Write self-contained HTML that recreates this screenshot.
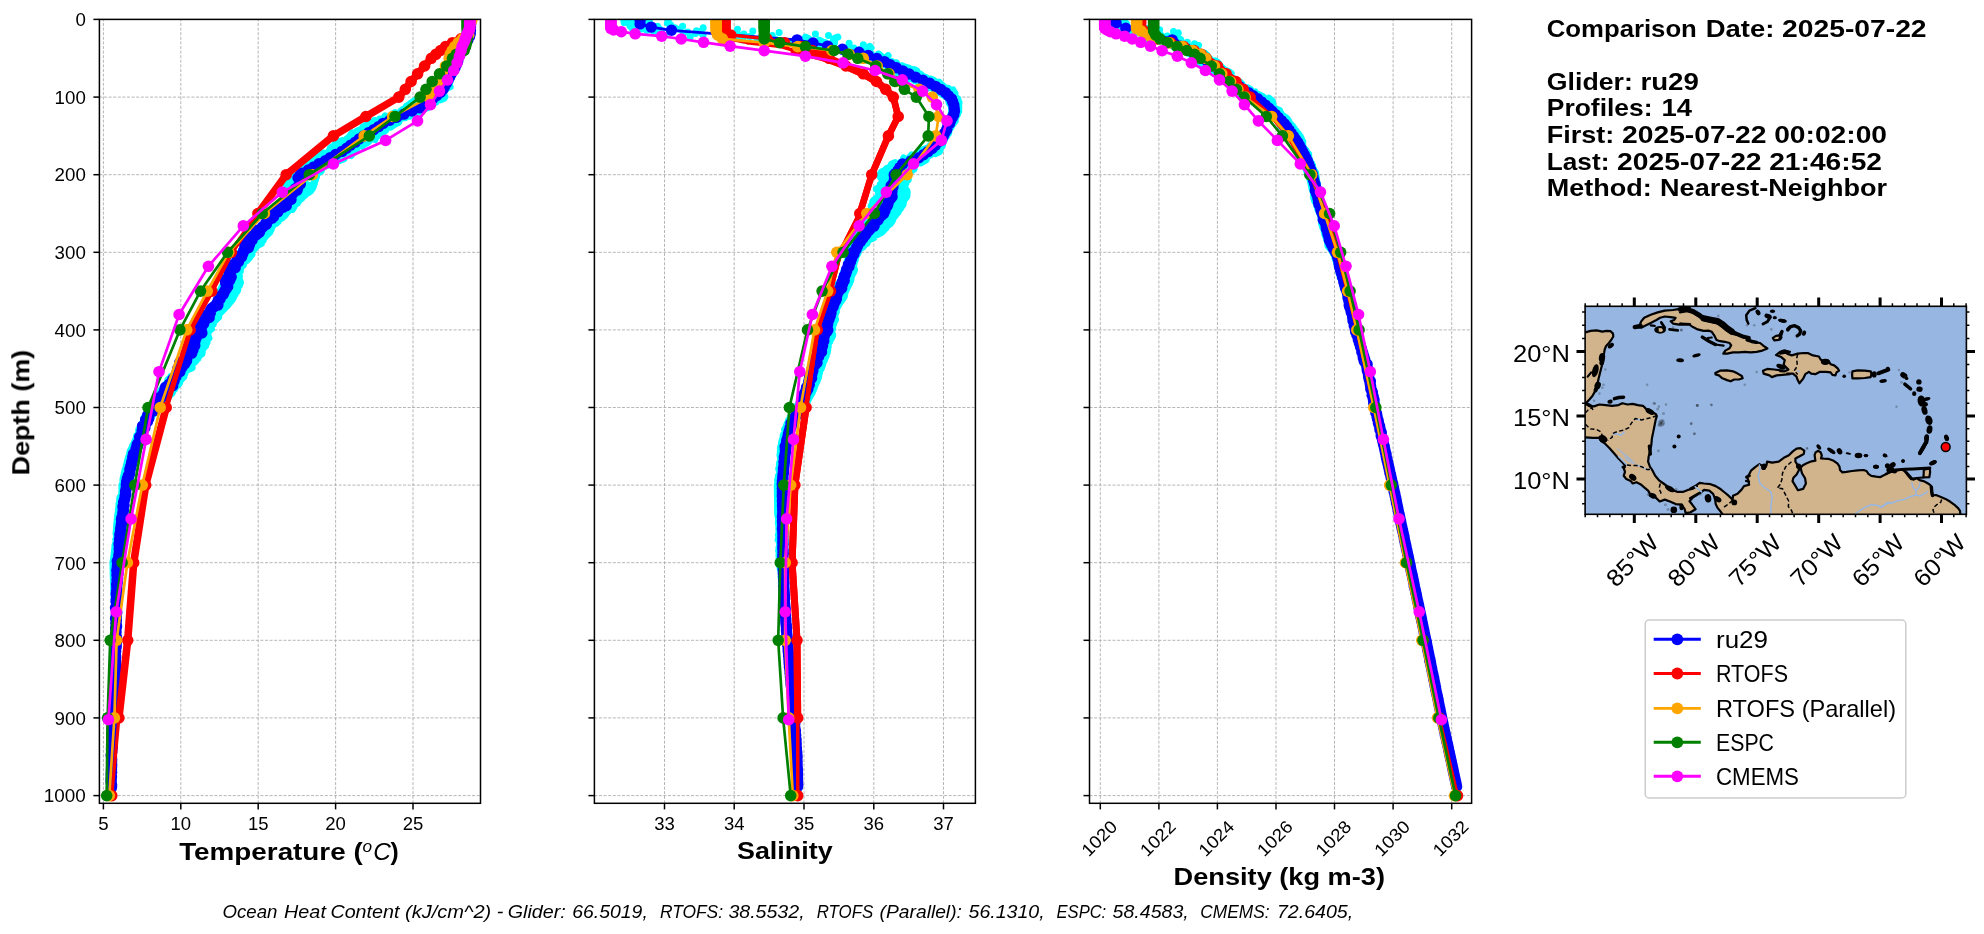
<!DOCTYPE html>
<html><head><meta charset="utf-8"><title>Glider / model comparison</title>
<style>html,body{margin:0;padding:0;background:#fff}svg{display:block}text{font-family:"Liberation Sans", sans-serif;fill:#000}</style>
</head><body>
<svg width="1984" height="934" viewBox="0 0 1984 934">
<rect width="1984" height="934" fill="#fff"/>
<defs>
<clipPath id="clip0"><rect x="99.4" y="19.4" width="381.1" height="783.9"/></clipPath>
<clipPath id="clip1"><rect x="594.4" y="19.4" width="381" height="783.9"/></clipPath>
<clipPath id="clip2"><rect x="1089.5" y="19.4" width="382.1" height="783.9"/></clipPath>
<clipPath id="clipm"><rect x="1585.1" y="306.3" width="381.3" height="208"/></clipPath>
<filter id="noaa" filterUnits="userSpaceOnUse" x="0" y="0" width="1984" height="934"><feOffset dx="0" dy="0"/></filter>
</defs>
<g filter="url(#noaa)">
<g id="ax0">
<g stroke="#a9a9a9" stroke-width="0.85" stroke-dasharray="3 1.6" fill="none">
<path d="M103.4 803.4V19.4"/>
<path d="M180.8 803.4V19.4"/>
<path d="M258.2 803.4V19.4"/>
<path d="M335.6 803.4V19.4"/>
<path d="M413 803.4V19.4"/>
<path d="M99.4 19.4H480.5"/>
<path d="M99.4 97.1H480.5"/>
<path d="M99.4 174.7H480.5"/>
<path d="M99.4 252.3H480.5"/>
<path d="M99.4 329.9H480.5"/>
<path d="M99.4 407.5H480.5"/>
<path d="M99.4 485.1H480.5"/>
<path d="M99.4 562.7H480.5"/>
<path d="M99.4 640.3H480.5"/>
<path d="M99.4 717.9H480.5"/>
<path d="M99.4 795.6H480.5"/>
</g>
<g clip-path="url(#clip0)">
<path d="M469.5 21.1L469.2 22.7 469 24.2 469.2 25.8 469.4 27.3 469.2 28.9 469.5 30.4 469.1 32 469.6 33.5 468.9 35.1 469.3 36.7 468.4 38.2 466.9 39.8 467.6 41.3 466.7 42.9 464.8 44.4 463.1 46 461.9 47.5 460.6 49.1 459.1 50.6 458.9 52.2 459.4 53.7 459 55.3 457.6 56.8 456.9 58.4 456.1 59.9 456.1 61.5 454.9 63 453.9 64.6 453.3 66.1 453.1 67.7 453.2 69.2 452.3 70.8 451.4 72.4 450 73.9 448.7 75.5 448.2 77 447.9 78.6 448.3 80.1 447.4 81.7 445 83.2 441.7 84.8 439.5 86.3 437.2 87.9 435.4 89.4 433 91 429.7 92.5 428.7 94.1 426.8 95.6 425.3 97.2M420.1 98.7h0M415.3 100.3L412.9 101.8 410.5 103.4 408.6 104.9 406.2 106.5 405.4 108.1 402.6 109.6 400.7 111.2M394.9 112.7L391.8 114.3M385.2 115.8L384.3 117.4M379.8 118.9h0M374.5 120.5h0M369.3 122L366.7 123.6 366.7 125.1 363 126.7 363.6 128.2 360.3 129.8 356.9 131.3M352.3 132.9L351 134.4 350.1 136 348.7 137.5 346.6 139.1M342 140.6L338.7 142.2 335.1 143.8 335.6 145.3 331.9 146.9 330.3 148.4 329.6 150 328.8 151.5M323.6 153.1L320 154.6 319.1 156.2M315 157.7L313.5 159.3M304.9 160.8L306.3 162.4 306 163.9 304.4 165.5M299.3 167h0M294.9 168.6L296.7 170.1 296.2 171.7 293.3 173.2 289.8 174.8M284.7 176.3L286.4 177.9 286.4 179.5 285.7 181 285.8 182.6 286.1 184.1 286.6 185.7 287.1 187.2 287.8 188.8 288.4 190.3 288.8 191.9 287.6 193.4 286.2 195 286.3 196.5 287.1 198.1 285.7 199.6 284.8 201.2 284 202.7 284.6 204.3 282 205.8 282.1 207.4 279.1 208.9 276.1 210.5 277.4 212 276.2 213.6 274.9 215.2 271.3 216.7 270.3 218.3 270.1 219.8 267.4 221.4 266.9 222.9 264.5 224.5 261.6 226 263.2 227.6 260.5 229.1 259 230.7 258.9 232.2 259.1 233.8 256.9 235.3 254.7 236.9 252.2 238.4 251.6 240 250.5 241.5 250.4 243.1 251.5 244.6 250.7 246.2 248.7 247.8 248.4 249.3 247.2 250.9 245.2 252.4 242.3 254 240.4 255.5 241.1 257.1 239.3 258.6 237 260.2 236.3 261.7 233.5 263.3 233 264.8 229.5 266.4 229.1 267.9 230 269.5M226.1 271L226.6 272.6 226.4 274.1 225.5 275.7 225.4 277.2 223.2 278.8 223.2 280.3 223.5 281.9 224.3 283.5 223.2 285 222.3 286.6 223.7 288.1 223.7 289.7 221.3 291.2 223.3 292.8M219.1 294.3L222 295.9 219.9 297.4 220.8 299 219.6 300.5 217.8 302.1 216.4 303.6 213.5 305.2 215.4 306.7 214.5 308.3 215.4 309.8M211.2 311.4L209.6 312.9 208.2 314.5 209.3 316 206.6 317.6 205.3 319.2 204 320.7 201 322.3 201 323.8 202 325.4 200.1 326.9 199.8 328.5 199.4 330 197.5 331.6 196.1 333.1 198.9 334.7 195.5 336.2 197.6 337.8 195.5 339.3 194.1 340.9 193.8 342.4 195.7 344 194.9 345.5 193.2 347.1 192.2 348.6 193.4 350.2 191.9 351.7 189.6 353.3 188.9 354.9 189.6 356.4 190 358 187.9 359.5 186.8 361.1 184.4 362.6 184.7 364.2 184.4 365.7M179.8 367.3L178.7 368.8 177.8 370.4 177.8 371.9 175.2 373.5 174.8 375M170.7 376.6L170.3 378.1 168 379.7 167.5 381.2 167.9 382.8 166.4 384.3 165.5 385.9 164.2 387.4 161.8 389 162 390.6 159.9 392.1 159.5 393.7 159.1 395.2 157.3 396.8 157.8 398.3 155 399.9 154.3 401.4 152.9 403 152.9 404.5 151.1 406.1 152 407.6 151.3 409.2 149.7 410.7 149 412.3 147.1 413.8 145.9 415.4 145.4 416.9 143.9 418.5 143.5 420 143.5 421.6 142.1 423.1 141.5 424.7 141.3 426.3 139.9 427.8 138.7 429.4 138.8 430.9 138.7 432.5 137.9 434 136.6 435.6 136.4 437.1 136 438.7 135.6 440.2 134.6 441.8 134.2 443.3 133.1 444.9 132.3 446.4 132 448 131 449.5 130.2 451.1 129.9 452.6 129.6 454.2 129.1 455.7 128.5 457.3 128 458.8 127.7 460.4 127.2 462 126.9 463.5 126.5 465.1 126.2 466.6 125.7 468.2 125.1 469.7 124.8 471.3 124.3 472.8 124.2 474.4 123.7 475.9 123.4 477.5 123 479 122.9 480.6 122.8 482.1 122.6 483.7 121.9 485.2 122.1 486.8 121.9 488.3 122 489.9 121.9 491.4 121.8 493 121.6 494.6 121.1 496.1 119.9 497.7 119.7 499.2 119.9 500.8 119.4 502.3 119 503.9 119 505.4 118.9 507 118.6 508.5 118.3 510.1 118.9 511.6 118.2 513.2 117.8 514.7 117.6 516.3 117.7 517.8 117.3 519.4 117.2 520.9 117 522.5 116.8 524 116.7 525.6 116.6 527.1 116.5 528.7 116.3 530.3 116.3 531.8 116 533.4 116.5 534.9 116.5 536.5 116.5 538 115.7 539.6 116.1 541.1 116.1 542.7 115.3 544.2 114.9 545.8 115.4 547.3 114.7 548.9 114.5 550.4 114.4 552 114.2 553.5 114.1 555.1 113.9 556.6 113.7 558.2 113.4 559.7 113.1 561.3 113 562.8 113 564.4 113 566 113.1 567.5 113.1 569.1 113.1 570.6 113.2 572.2 113.2 573.7 113.3 575.3 113.3 576.8 113.4 578.4 113.4 579.9 113.5 581.5 113.5 583 113.6 584.6 113.6 586.1 113.6 587.7 113.7 589.2 113.7 590.8 114.1 592.3 113.8 593.9 113.9 595.4 114 597 114 598.5 114.1 600.1 114.2 601.7 114.4 603.2 114.5 604.8 114.4 606.3 114.6 607.9 114.7 609.4 114.5 611 114.5 612.5 114.6 614.1 114.5 615.6 114.5 617.2 114.5 618.7 114.4 620.3 114.4 621.8 114.4 623.4 114.4 624.9 114.4 626.5 114.4 628 114.4 629.6 114.3 631.1 114.8 632.7 114.5 634.2 114.3 635.8 114.3 637.4 114.4 638.9 114.2 640.5 114.2 642 114.2 643.6 114.2 645.1 114.2 646.7 114.2 648.2 114.2 649.8 114.2 651.3 114.1 652.9 114.1 654.4 114.1 656 114.1 657.5 114.2 659.1 114.1 660.6 114.1 662.2 114.1 663.7 114.1 665.3 114 666.8 114 668.4 114 669.9 114 671.5 114.1 673.1 114 674.6 114.2 676.2 114.2 677.7 114.1 679.3 113.9 680.8 113.9 682.4 113.9 683.9 114 685.5 113.9 687 113.7 688.6 113.7 690.1 113.7 691.7 113.6 693.2 113.6 694.8 113.5 696.3 113.6 697.9 113.6 699.4 113.5 701 113.3 702.5 113.4 704.1 113.2 705.6 113.4 707.2 112.9 708.8 112.9 710.3 112.7 711.9 112.5 713.4 112.4 715 112.3 716.5 112.2 718.1 112 719.6 111.9 721.2 111.9 722.7 111.8 724.3 111.5 725.8 111.4 727.4 111.4 728.9 111.2 730.5 111.1 732 111 733.6 111.2 735.1 110.9 736.7 111.1 738.2 111 739.8 110.9 741.4 111 742.9 111.2 744.5 111.2 746 111.2 747.6 111.2 749.1 111 750.7 110.9 752.2 110.8 753.8 110.8 755.3 110.6 756.9 110.7 758.4 110.6 760 110.7 761.5 110.6 763.1 110.7 764.6 110.6 766.2 110.6 767.7 110.6 769.3 110.6 770.8 110.6 772.4 110.7 773.9 110.6 775.5 110.6 777.1 110.7 778.6 110.6 780.2 110.7 781.7 110.8 783.3 110.8 784.8 110.8 786.4 110.9 787.9" fill="none" stroke="#00ffff" stroke-width="7" stroke-linecap="round" stroke-linejoin="round"/>
<path d="M469.4 21.5L469.6 23 469.8 24.6 470 26.1 470 27.7 469.8 29.3 470 30.8 470.2 32.4 469.7 33.9 469.8 35.5 469.1 37 468.8 38.6 468.2 40.1 466.7 41.7 466.4 43.2 463.4 44.8 462.1 46.3 460.2 47.9 461.3 49.4 460.6 51 460.4 52.5 460.6 54.1 459.6 55.6 458.7 57.2 457.4 58.7 457.2 60.3 456.9 61.8 456.4 63.4 456.3 65 455.7 66.5 454.9 68.1 454.1 69.6 454.1 71.2 452.9 72.7 452.1 74.3 450.3 75.8 449.3 77.4 449.1 78.9 447.4 80.5 446.6 82 444.5 83.6 443.4 85.1 441.3 86.7 439.7 88.2 437 89.8 437.6 91.3 435.3 92.9 433.5 94.4 431.5 96M425.3 97.5h0M430.8 99.1h0M426.4 100.7L429.6 102.2 427.6 103.8 425.2 105.3M417.9 106.9h0M422.8 108.4h0M415.5 110L412.1 111.5M403.2 113.1L403.5 114.6 403.7 116.2 404.1 117.7M390 119.3L392.7 120.8M388.3 122.4L386.5 123.9 383.3 125.5 382.2 127M377.2 128.6L374.2 130.1M369 131.7L368.1 133.2M361.5 134.8L357.8 136.4 354 137.9M346.9 139.5L346.1 141 343 142.6 344.1 144.1 343.1 145.7M337.7 147.2L339.7 148.8 336.4 150.3 332.9 151.9 330.6 153.4M323.7 155h0M319.5 156.5h0M315 158.1L317.3 159.6M311.8 161.2h0M306.2 162.7h0M300.9 164.3L301.7 165.8 297.8 167.4 298.5 168.9M293.9 170.5L295.1 172.1 292.3 173.6 292.7 175.2M284.1 176.7L287 178.3 290 179.8 290.4 181.4 290.5 182.9 290.5 184.5 290.4 186 289.9 187.6 293.1 189.1 289.9 190.7 288.6 192.2 287.9 193.8 288.1 195.3 291.3 196.9 288 198.4 290.5 200 291.4 201.5 289 203.1 287.2 204.6 285.9 206.2 287.5 207.8 285 209.3 284.5 210.9 281.6 212.4 280.9 214 277.5 215.5 276 217.1 274.5 218.6 273.2 220.2 271 221.7 270 223.3 270.9 224.8 269.8 226.4 268 227.9 265.4 229.5 264.2 231 262.4 232.6 258.6 234.1 257.9 235.7 255.4 237.2 252.1 238.8 251.6 240.3 248 241.9 247.7 243.5 245.9 245 245 246.6 245.2 248.1 243.7 249.7 243.7 251.2 242.1 252.8 242 254.3 241.5 255.9 238.5 257.4 237.9 259 238.1 260.5 234.6 262.1 233.2 263.6 231.6 265.2 230.7 266.7 230.6 268.3 230.2 269.8 230.8 271.4 231.6 272.9 228.8 274.5 230 276 227.6 277.6 228.2 279.2 225.2 280.7 224.7 282.3 224.2 283.8 223.2 285.4 222.1 286.9 221.4 288.5 220.4 290 222.4 291.6 221.2 293.1 220.2 294.7 219.9 296.2 219.1 297.8 218.9 299.3 218.2 300.9 216.9 302.4 214.4 304 214.7 305.5 214.6 307.1 212.3 308.6 210.1 310.2 208.1 311.8 208.9 313.3 206.3 314.9 204.8 316.4 205.6 318 207.3 319.5 204.6 321.1 204.2 322.6 203.4 324.2 200.4 325.7 201.5 327.3 200 328.8 198.4 330.4 196.8 331.9 197 333.5 195.4 335 193.6 336.6 193.9 338.1 193 339.7 194 341.2 194 342.8 192.9 344.3 191.5 345.9 191.1 347.5 188.6 349 190.1 350.6 187.3 352.1 186.2 353.7 185.9 355.2 184.7 356.8 184.1 358.3 183.1 359.9 181 361.4 181.5 363 179.2 364.5 180.4 366.1 179.5 367.6 179.3 369.2 177.6 370.7 176.1 372.3 175.6 373.8 174.1 375.4 173 376.9 170.4 378.5 169.7 380 168.3 381.6 167.6 383.2 165.1 384.7 164.6 386.3 162.6 387.8 162.7 389.4 160.4 390.9 159.8 392.5 158.8 394 158.3 395.6 158.9 397.1 156.8 398.7 155.2 400.2 155.2 401.8 155.3 403.3 153.7 404.9 151.3 406.4 151.6 408 150.2 409.5 150 411.1 148.7 412.6 148.1 414.2 147.1 415.7 144 417.3 143.9 418.9 144.1 420.4 143.7 422 143.2 423.5 142.1 425.1 141.3 426.6 140.5 428.2 139.3 429.7 139.7 431.3 139.5 432.8 139.4 434.4 137.3 435.9 137.3 437.5 136.4 439 135.7 440.6 135 442.1 134.2 443.7 134.3 445.2 133.4 446.8 133 448.3 132.7 449.9 133.2 451.4 132.8 453 131.9 454.6 131.7 456.1 130.9 457.7 130 459.2 130.7 460.8 129 462.3 128.8 463.9 127.8 465.4 127 467 127.7 468.5 126.9 470.1 126 471.6 125.3 473.2 125.4 474.7 125.8 476.3 124.8 477.8 125.2 479.4 124.8 480.9 124.6 482.5 123.4 484 123.6 485.6 122.9 487.1 123.2 488.7 122.7 490.3 122.3 491.8 122.3 493.4 122.4 494.9 122.5 496.5 122.1 498 121.8 499.6 121.9 501.1 121.6 502.7 120.9 504.2 121.2 505.8 120.9 507.3 121.6 508.9 121.5 510.4 120 512 120.4 513.5 119.9 515.1 120.4 516.6 120 518.2 119.8 519.7 119.6 521.3 119.4 522.8 119.1 524.4 119.2 526 119.3 527.5 118.6 529.1 118.4 530.6 118 532.2 117.6 533.7 117.1 535.3 117.3 536.8 117.2 538.4 116.9 539.9 117.4 541.5 116.9 543 117.4 544.6 117 546.1 117.6 547.7 116.7 549.2 116.8 550.8 116.8 552.3 116 553.9 116.5 555.4 116 557 115.6 558.6 114.8 560.1 115 561.7 115.2 563.2 114.9 564.8 115.9 566.3 115.3 567.9 115.7 569.4 115.7 571 115.3 572.5 115.7 574.1 115.5 575.6 115.6 577.2 115.5 578.7 115 580.3 115.3 581.8 115.2 583.4 115.1 584.9 115 586.5 115.2 588 115.3 589.6 115.5 591.1 116 592.7 115.2 594.3 115.6 595.8 115.4 597.4 115.3 598.9 115.1 600.5 115.1 602 115.1 603.6 115.2 605.1 115.2 606.7 115.2 608.2 115 609.8 115.2 611.3 115.1 612.9 115.3 614.4 115.3 616 115.1 617.5 114.7 619.1 114.8 620.6 115 622.2 114.8 623.7 115 625.3 114.8 626.8 114.8 628.4 114.7 630 115 631.5 115.1 633.1 115.1 634.6 114.8 636.2 115 637.7 114.9 639.3 114.8 640.8 114.7 642.4 114.6 643.9 114.6 645.5 114.4 647 114.4 648.6 114.6 650.1 114.9 651.7 114.5 653.2 114.6 654.8 114.5 656.3 114.6 657.9 114.5 659.4 114.7 661 114.3 662.5 114.7 664.1 114.6 665.7 114.8 667.2 114.7 668.8 114.6 670.3 114.7 671.9 114.8 673.4 114.7 675 114.8 676.5 114.8 678.1 114.8 679.6 114.4 681.2 114.6 682.7 114.7 684.3 114.5 685.8 114.4 687.4 114.3 688.9 114.4 690.5 114.2 692 114 693.6 114.1 695.1 113.9 696.7 113.7 698.2 113.8 699.8 113.5 701.4 113.3 702.9 113.4 704.5 113.3 706 113.1 707.6 113 709.1 113 710.7 113 712.2 112.7 713.8 112.5 715.3 112.5 716.9 112.6 718.4 112.5 720 112.4 721.5 112.2 723.1 112.2 724.6 112 726.2 111.8 727.7 111.7 729.3 111.7 730.8 111.5 732.4 111.3 733.9 111.3 735.5 111.2 737.1 111.4 738.6 111.2 740.2 111.1 741.7 111 743.3 111 744.8 111 746.4 111 747.9 110.8 749.5 110.8 751 110.6 752.6 110.7 754.1 110.8 755.7 110.6 757.2 110.7 758.8 110.8 760.3 110.9 761.9 110.7 763.4 110.7 765 110.7 766.5 110.8 768.1 110.9 769.6 110.6 771.2 110.7 772.8 110.8 774.3 110.9 775.9 110.9 777.4 110.8 779 110.8 780.5 110.7 782.1 110.8 783.6 110.7 785.2 110.8 786.7 110.8 788.3" fill="none" stroke="#00ffff" stroke-width="7" stroke-linecap="round" stroke-linejoin="round"/>
<path d="M470 20.7L469.7 22.3 469.8 23.8 469.6 25.4 469.7 26.9 469.6 28.5 470 30 469.5 31.6 469.5 33.1 469.3 34.7 469.3 36.2 467.8 37.8 467.4 39.4 467.1 40.9 466.6 42.5 464.4 44 462.1 45.6 462.1 47.1 462.1 48.7 461.8 50.2 461.6 51.8 460.7 53.3 459.4 54.9 458.8 56.4 457.3 58 457.7 59.5 456.8 61.1 456.4 62.6 455.5 64.2 456.1 65.7 454.2 67.3 454.1 68.8 452.9 70.4 451.8 71.9 450.7 73.5 449.9 75.1 449.1 76.6 448.2 78.2 447.6 79.7 446.1 81.3 445.6 82.8 445.7 84.4 442.9 85.9 443 87.5 441.4 89 439.5 90.6 436.6 92.1M432.6 93.7L429.1 95.2 429.6 96.8 427.7 98.3 424.8 99.9 421.5 101.4 418.3 103 415.2 104.5 415.9 106.1M411.7 107.6L413.4 109.2 414.8 110.8M404.2 112.3L401.2 113.9M392.1 115.4L394.3 117 394.1 118.5M385 120.1h0M375.5 121.6L378 123.2 379.1 124.7M374.9 126.3h0M370.7 127.8L369.3 129.4M365 130.9h0M369 132.5L366.6 134M360.4 135.6L357.1 137.1 354.9 138.7 353.5 140.2 351.5 141.8M346.9 143.3L348.2 144.9M344.1 146.5L345.9 148 343.5 149.6 343.6 151.1M333.1 152.7L331.5 154.2 328 155.8 325.3 157.3 328.8 158.9M323.5 160.4L325 162M316.9 163.5h0M309.2 165.1h0M304 166.6L307.4 168.2 304.9 169.7 301.8 171.3M296.2 172.8L296.1 174.4 295.9 175.9 294 177.5 293 179 291.9 180.6M296.8 182.2L294.6 183.7 297.6 185.3 299.2 186.8 296.7 188.4 294.7 189.9 295.6 191.5 294 193 293 194.6 294.6 196.1 293.7 197.7 293.6 199.2 291.6 200.8 291 202.3 290 203.9 288.7 205.4 289.8 207 286.6 208.5 284.5 210.1 281.4 211.6 280.4 213.2 279.5 214.7 277.8 216.3 275.4 217.9 274.1 219.4 273.4 221M268.7 222.5L270.2 224.1 266.3 225.6 269.1 227.2 265.8 228.7 264.7 230.3M260.8 231.8L260.4 233.4 256.7 234.9 255.2 236.5 251.7 238 251 239.6 252.4 241.1 250.7 242.7M245.2 244.2L246.9 245.8 244.7 247.3 245.7 248.9 245.9 250.4 242.4 252M238.2 253.6L239.6 255.1 238.1 256.7 237.2 258.2 236.1 259.8 233.6 261.3 233.6 262.9 231 264.4 230.3 266 230.3 267.5 231.1 269.1 232.8 270.6 230.3 272.2 230.1 273.7 227.8 275.3 228.9 276.8 226.5 278.4 229.8 279.9 228.2 281.5 228.1 283 227.5 284.6 229.6 286.2 229.1 287.7 227.6 289.3 227.5 290.8 228.1 292.4 227.9 293.9 227.6 295.5 225.1 297 222.2 298.6 223 300.1 221.8 301.7 223.7 303.2 222.4 304.8 220 306.3 219.8 307.9 217.6 309.4 215.1 311 214.5 312.5 212.7 314.1 212.2 315.6 210.6 317.2 209.7 318.7 208.5 320.3 206.8 321.9 207.5 323.4 205.7 325 205.6 326.5 205.5 328.1 203.6 329.6 203.1 331.2 201.9 332.7 199.7 334.3 201.6 335.8 200.7 337.4 198.9 338.9 198.8 340.5 198.2 342 198.1 343.6 198.3 345.1 196.2 346.7 197.2 348.2 197.5 349.8 195.1 351.3 195.2 352.9 193.1 354.4 192 356 191 357.6 190.6 359.1 190 360.7 190.4 362.2 187.7 363.8 187.2 365.3 183.8 366.9 183.2 368.4 184 370 183.5 371.5 182.5 373.1 180.5 374.6 179.3 376.2 177.7 377.7 176.8 379.3 176.7 380.8 176.9 382.4 174.9 383.9 171.9 385.5 171.5 387 169.7 388.6 168.2 390.1 168.3 391.7 167.4 393.3 166 394.8 164.6 396.4 163.4 397.9 161.3 399.5 160.1 401 157.8 402.6 157.7 404.1 155.9 405.7 155.1 407.2 153.5 408.8 152.5 410.3 152 411.9 151.9 413.4 150.7 415 149.9 416.5 147 418.1 146.2 419.6 145.7 421.2 146.3 422.7 143.5 424.3 143.4 425.8 141.3 427.4 141.2 429 140.8 430.5 140.5 432.1 140.5 433.6 139.5 435.2 139.1 436.7 139.1 438.3 139.3 439.8 138.2 441.4 136.3 442.9 136.1 444.5 135.1 446 135 447.6 134.4 449.1 133.3 450.7 133.1 452.2 133.2 453.8 132.5 455.3 132.9 456.9 132.3 458.4 131.3 460 130.7 461.5 130.6 463.1 130 464.7 130 466.2 129.7 467.8 129.4 469.3 128.3 470.9 127.3 472.4 126.3 474 127.1 475.5 126.2 477.1 126.4 478.6 125.9 480.2 125.3 481.7 125 483.3 123.9 484.8 123.5 486.4 123.4 487.9 122.8 489.5 122.5 491 122.8 492.6 122.5 494.1 122.5 495.7 122.4 497.2 121.5 498.8 121 500.4 120.4 501.9 120 503.5 120 505 119.9 506.6 120.7 508.1 119.7 509.7 120.1 511.2 119.9 512.8 119.6 514.3 120.1 515.9 120.3 517.4 120.7 519 119.8 520.5 120.1 522.1 120.7 523.6 120.3 525.2 119.9 526.7 118.9 528.3 119.2 529.8 119 531.4 119 533 119.1 534.5 119.4 536.1 119.4 537.6 119.5 539.2 118.4 540.7 118 542.3 117.6 543.8 117.5 545.4 117.3 546.9 117 548.5 116.9 550 116.8 551.6 116.6 553.1 116.5 554.7 116.4 556.2 116.4 557.8 116.3 559.3 116.3 560.9 115.9 562.4 115.9 564 115.1 565.5 114.9 567.1 115.3 568.7 115 570.2 115.4 571.8 114.9 573.3 114.8 574.9 115 576.4 114.7 578 114.9 579.5 114.8 581.1 114.7 582.6 115.1 584.2 115.3 585.7 115.4 587.3 115.1 588.8 114.8 590.4 114.8 591.9 114.9 593.5 115.1 595 114.8 596.6 115.3 598.1 115.6 599.7 115.5 601.2 115.7 602.8 115.7 604.4 115.9 605.9 116.2 607.5 116.3 609 116.2 610.6 116.2 612.1 116 613.7 116 615.2 116.1 616.8 116.1 618.3 116.1 619.9 115.8 621.4 116.1 623 116.1 624.5 116 626.1 115.9 627.6 116.1 629.2 115.9 630.7 115.9 632.3 115.8 633.8 115.9 635.4 115.6 636.9 115.7 638.5 115.5 640.1 115.4 641.6 115.6 643.2 115.4 644.7 115.6 646.3 115.3 647.8 115.4 649.4 115.3 650.9 115.2 652.5 115.1 654 115.1 655.6 115.2 657.1 115.2 658.7 115.2 660.2 115.2 661.8 115 663.3 114.9 664.9 115.1 666.4 115 668 114.9 669.5 114.7 671.1 114.9 672.6 114.6 674.2 115.1 675.8 115.2 677.3 115.1 678.9 114.9 680.4 115 682 115 683.5 114.8 685.1 114.9 686.6 114.8 688.2 115.2 689.7 114.9 691.3 114.8 692.8 114.9 694.4 114.7 695.9 114.6 697.5 114.7 699 114.7 700.6 114.4 702.1 114.2 703.7 114.2 705.2 114 706.8 113.7 708.3 113.5 709.9 113.4 711.5 113.3 713 113.1 714.6 112.7 716.1 112.6 717.7 112.5 719.2 112.4 720.8 112.2 722.3 112.1 723.9 112 725.4 111.6 727 111.8 728.5 111.6 730.1 111.4 731.6 111.3 733.2 111.4 734.7 111.3 736.3 111.2 737.8 110.9 739.4 111.1 740.9 111.1 742.5 111.2 744 111.2 745.6 111.3 747.2 111.1 748.7 111.1 750.3 111.3 751.8 111.1 753.4 111.1 754.9 111.2 756.5 111.2 758 111.2 759.6 111.2 761.1 111 762.7 111 764.2 111.1 765.8 111.1 767.3 111.2 768.9 111 770.4 111.1 772 111.3 773.5 111.1 775.1 111 776.6 111 778.2 111.1 779.7 111.2 781.3 111 782.9 111.2 784.4 111.4 786 111.1 787.5" fill="none" stroke="#00ffff" stroke-width="7" stroke-linecap="round" stroke-linejoin="round"/>
<path d="M471.3 21.4L471.5 23 471.5 24.5 471.4 26.1 471 27.7 471.1 29.2 471.3 30.8 470.6 32.3 469.7 33.9 468.7 35.4 468.6 37 468.3 38.5 467.4 40.1 465.8 41.6 463.8 43.2 462.7 44.7 461.9 46.3 461.4 47.8 460.7 49.4 461.1 50.9 460.2 52.5 459.5 54 458.9 55.6 458.8 57.1 457.2 58.7 457 60.3 456.2 61.8 456.1 63.4 456.3 64.9 455.2 66.5 454.7 68 453.6 69.6 452.9 71.1 451.9 72.7 450.3 74.2 450 75.8 448.8 77.3 448.5 78.9 446.5 80.4 444.9 82 443.6 83.5 444.4 85.1 444.3 86.6 443.8 88.2 440.1 89.7 438.8 91.3M432.6 92.8L434 94.4 434.8 96M429.2 97.5L426.7 99.1 424.6 100.6 423.2 102.2 424.4 103.7M419.1 105.3h0M412.9 106.8h0M407.5 108.4L405.2 109.9 401.7 111.5M406.5 113L403.7 114.6 401 116.1M396 117.7L395 119.2 392.8 120.8 389.7 122.3 387 123.9 384.5 125.4 385.1 127M380.6 128.5L381.4 130.1 382.7 131.7 380.5 133.2 377 134.8M370.6 136.3L369.5 137.9 368.1 139.4M360.5 141h0M356.2 142.5L355.7 144.1 353.3 145.6 351.5 147.2M355.9 148.7h0M347.1 150.3h0M338.5 151.8h0M334.3 153.4L330.6 154.9M325.5 156.5L327.1 158M322.3 159.6L324.8 161.1 322.5 162.7M316.9 164.2h0M310.4 165.8L313.8 167.4 310.4 168.9M303.8 170.5L301.1 172 304.2 173.6 302.4 175.1 302.8 176.7 301.3 178.2 304.3 179.8 304.7 181.3 304 182.9 306.7 184.4 309 186 308.8 187.5M304.2 189.1L303.6 190.6 300.4 192.2 300.4 193.7 299.9 195.3 301.1 196.8 301.8 198.4 298.8 199.9 296.2 201.5 293.6 203.1 292.4 204.6 293.4 206.2 291 207.7 288.9 209.3 286.7 210.8 286.6 212.4 284.5 213.9 282.3 215.5M277.7 217L276.9 218.6 273.6 220.1 274.3 221.7 272.7 223.2 272.1 224.8 269.4 226.3 268.9 227.9 266.2 229.4 265.6 231 262.4 232.5 261.6 234.1 259.3 235.6 261.5 237.2 258.7 238.8 257.8 240.3 257.4 241.9 256.5 243.4 253.3 245 252.5 246.5 250.4 248.1 249.2 249.6 248.3 251.2 247 252.7 244.8 254.3 244.5 255.8 245 257.4 243.7 258.9 243 260.5 241.2 262 240.5 263.6 239.3 265.1 238.1 266.7 238.3 268.2 236.8 269.8 234.9 271.3 236.9 272.9 233.7 274.5 235.6 276 235 277.6 234.9 279.1 234.8 280.7 232.8 282.2 233.5 283.8 229.6 285.3 230.6 286.9 228.5 288.4 229 290 228.1 291.5 227.1 293.1 226.2 294.6 225.5 296.2 224.9 297.7 225.3 299.3 223.2 300.8 225 302.4 222.6 303.9 221.2 305.5 222.1 307.1 221.4 308.6 219.9 310.2 216.5 311.7 217.5 313.3 216.9 314.8 214.5 316.4 213.6 317.9 211.8 319.5 212.6 321 211.1 322.6 210.4 324.1 210 325.7 209 327.2 207.2 328.8 206.6 330.3 207.8 331.9 205.9 333.4 205 335 202.9 336.5 201.3 338.1 199.3 339.6 199.5 341.2 197.5 342.8 197.5 344.3 195.5 345.9 197.1 347.4 196.1 349 195.4 350.5 195.1 352.1 195.8 353.6 193.2 355.2 192.5 356.7 191.3 358.3 190.2 359.8 186.6 361.4 186.9 362.9 184.5 364.5 184.5 366 184.4 367.6 184.1 369.1 184.9 370.7 184.5 372.2M179.9 373.8L180.7 375.3 177.9 376.9 177.5 378.5 177 380 175.4 381.6 174.8 383.1 173.5 384.7 171.5 386.2 169.1 387.8 168.7 389.3 167 390.9 166.9 392.4 166.9 394 165.6 395.5 164.9 397.1 162.4 398.6 161.1 400.2 160.9 401.7 157.8 403.3 156.8 404.8 158.2 406.4 156.6 407.9 156 409.5 154 411 151.8 412.6 150.4 414.2 150 415.7 149.3 417.3 148.4 418.8 148.3 420.4 146.6 421.9 146.2 423.5 145.2 425 144.2 426.6 143.9 428.1 143.5 429.7 142.7 431.2 141.8 432.8 141.7 434.3 140.4 435.9 140.2 437.4 138.6 439 138.3 440.5 137.9 442.1 137.5 443.6 137.3 445.2 136.6 446.7 136.2 448.3 136.2 449.9 135.4 451.4 134.7 453 135.1 454.5 134.4 456.1 133.7 457.6 133.2 459.2 133.7 460.7 132.8 462.3 132.7 463.8 131.5 465.4 132.4 466.9 131.2 468.5 130.8 470 130.5 471.6 129.6 473.1 130 474.7 129.9 476.2 129.2 477.8 129.2 479.3 128.3 480.9 128 482.4 128 484 127.3 485.6 125.8 487.1 126.3 488.7 125.6 490.2 125.4 491.8 124.6 493.3 123.8 494.9 122.5 496.4 122.8 498 121.7 499.5 121.7 501.1 121.9 502.6 121.2 504.2 121.9 505.7 120.8 507.3 120.8 508.8 120.9 510.4 120.8 511.9 121.1 513.5 120 515 119.5 516.6 120.1 518.1 119.8 519.7 119.6 521.3 119.5 522.8 119.3 524.4 119.2 525.9 119.9 527.5 119.6 529 118.9 530.6 119.5 532.1 120 533.7 119.8 535.2 119.1 536.8 119 538.3 118.5 539.9 119.2 541.4 118.7 543 118.5 544.5 118.2 546.1 118 547.6 118 549.2 118.3 550.7 118 552.3 117.3 553.9 117.3 555.4 117.8 557 117.5 558.5 117 560.1 117.2 561.6 116.5 563.2 116.7 564.7 116.7 566.3 116.4 567.8 116.5 569.4 116.5 570.9 116.7 572.5 117 574 116.5 575.6 116.4 577.1 116.6 578.7 116.8 580.2 116.3 581.8 116.2 583.3 116 584.9 116.8 586.4 116.7 588 117 589.6 116.7 591.1 116.6 592.7 116.1 594.2 116.3 595.8 116 597.3 116.1 598.9 116.5 600.4 116.3 602 116 603.5 116 605.1 116.1 606.6 116.2 608.2 116.2 609.7 116 611.3 115.9 612.8 116 614.4 116.3 615.9 116 617.5 115.6 619 115.8 620.6 115.7 622.1 115.4 623.7 115.7 625.3 115.9 626.8 115.9 628.4 115.8 629.9 116.1 631.5 115.9 633 115.9 634.6 116 636.1 116 637.7 116 639.2 116.1 640.8 116.1 642.3 116.1 643.9 116.1 645.4 116.2 647 116.3 648.5 116.3 650.1 116.3 651.6 115.9 653.2 116.2 654.7 115.9 656.3 116.1 657.8 116.2 659.4 116.2 661 116.1 662.5 116.1 664.1 115.8 665.6 116 667.2 115.9 668.7 115.6 670.3 115.6 671.8 115.5 673.4 115.2 674.9 115.2 676.5 115.3 678 115.3 679.6 115 681.1 115.1 682.7 114.9 684.2 115.1 685.8 114.9 687.3 115 688.9 114.8 690.4 114.8 692 114.5 693.5 114.7 695.1 114.5 696.7 114.4 698.2 114.4 699.8 114.2 701.3 114.1 702.9 113.9 704.4 113.7 706 113.6 707.5 113.5 709.1 113.3 710.6 113.3 712.2 113.2 713.7 113.1 715.3 113 716.8 113 718.4 112.8 719.9 112.9 721.5 112.7 723 112.5 724.6 112.1 726.1 112.2 727.7 112.1 729.2 112 730.8 111.8 732.4 111.8 733.9 111.7 735.5 111.8 737 111.7 738.6 111.6 740.1 111.8 741.7 111.9 743.2 111.9 744.8 111.7 746.3 111.8 747.9 111.7 749.4 111.7 751 111.8 752.5 111.7 754.1 111.9 755.6 111.7 757.2 111.6 758.7 111.7 760.3 111.7 761.8 111.8 763.4 111.8 764.9 111.6 766.5 111.6 768.1 111.8 769.6 112 771.2 111.8 772.7 111.7 774.3 111.7 775.8 111.7 777.4 111.7 778.9 111.6 780.5 111.6 782 111.6 783.6 111.5 785.1 111.5 786.7 111.5 788.2" fill="none" stroke="#00ffff" stroke-width="7" stroke-linecap="round" stroke-linejoin="round"/>
<path d="M471.7 20.6L471.6 22.1 471.5 23.7 471.5 25.3 471.7 26.8 471.4 28.4 471.5 29.9 471.3 31.5 471.5 33 469.6 34.6 468 36.1 466.4 37.7 466.2 39.2 464.8 40.8 465.2 42.3 466.3 43.9 465.6 45.4 465 47 462.9 48.5 462.3 50.1 462.4 51.6 462.3 53.2 460.6 54.7 459.4 56.3 458.5 57.8 458.6 59.4 458.2 61 457.4 62.5 456.9 64.1 456 65.6 456 67.2 455 68.7 454.8 70.3 453.7 71.8 452.4 73.4 451.6 74.9 451.4 76.5 451 78 448.5 79.6 447.2 81.1 445.5 82.7 446.4 84.2 446.6 85.8 446 87.3 445.3 88.9 444.7 90.4 441.4 92 442.7 93.5 443.5 95.1 445 96.7 444.1 98.2 440.5 99.8M431.4 101.3L433.3 102.9M425.7 104.4L427.6 106 426.7 107.5M416.8 109.1h0M412 110.6L412 112.2 411.9 113.7M405.8 115.3L403.5 116.8M396.1 118.4h0M388.9 119.9L391.4 121.5M385.8 123L382.7 124.6 384.3 126.1 383.1 127.7 382.6 129.2M376 130.8L374.1 132.4 375.5 133.9M371.4 135.5L370.5 137 366.8 138.6 367 140.1 368.4 141.7 366.5 143.2 363.5 144.8 362.1 146.3M355.9 147.9L353.4 149.4 353.8 151 353.7 152.5M349 154.1L351.2 155.6M344 157.2L344.1 158.7 340.2 160.3 336.8 161.8 335.7 163.4M331 165h0M324 166.5L322.2 168.1 321.1 169.6 321.2 171.2 319 172.7M314.4 174.3L316.7 175.8 316.1 177.4 314.2 178.9 315.1 180.5 314.5 182 314.2 183.6 312.4 185.1 308.9 186.7 311.4 188.2 310.1 189.8M305.3 191.3L306.6 192.9 303.9 194.4M298.3 196L298.4 197.5 296.9 199.1M292.6 200.7L291.6 202.2 291.9 203.8 290.2 205.3 291.2 206.9M285.5 208.4L282 210M277.7 211.5L278.7 213.1 277.2 214.6 273.5 216.2 271.9 217.7 269.6 219.3 268.3 220.8 267.1 222.4 269.1 223.9 266.2 225.5 265.3 227 264.7 228.6 265.5 230.1 264.7 231.7 263.8 233.2M259.5 234.8L260.7 236.4 258.7 237.9 258.3 239.5 257 241 257 242.6 255.5 244.1 253.3 245.7 251.9 247.2 250 248.8 252.8 250.3 251.3 251.9 248 253.4 247.8 255 245.6 256.5 243 258.1 241.8 259.6 240.9 261.2 238.4 262.7 240.2 264.3 239.4 265.8 236.7 267.4 235.2 268.9 236.6 270.5 236.4 272.1 235.4 273.6 236 275.2 235.4 276.7 234.8 278.3 235.5 279.8 234.5 281.4 231.9 282.9 232.1 284.5 233.6 286 235.6 287.6 235.8 289.1 236.5 290.7 235.7 292.2 234.2 293.8 232.7 295.3 232.2 296.9 230.6 298.4 230.4 300 229.4 301.5 228.2 303.1 226.3 304.6 224.8 306.2 221.5 307.8 222 309.3 220.5 310.9 218.9 312.4 219 314 218.8 315.5 218.8 317.1 216.4 318.6 215 320.2 212.8 321.7 212.6 323.3 210.3 324.8 210.6 326.4 210.2 327.9 210.5 329.5 208.8 331 206.8 332.6 207.6 334.1 205.7 335.7 204.7 337.2 205 338.8 203.2 340.3 204.3 341.9 201.2 343.5 200.8 345 199.7 346.6 197.5 348.1 199.3 349.7 198.4 351.2 197.3 352.8 197 354.3 195.9 355.9 194.7 357.4 191.7 359 190.1 360.5 188.6 362.1 186.4 363.6 188.6 365.2 186.4 366.7 185.8 368.3 184.9 369.8 183.4 371.4 184.5 372.9 181.6 374.5 181.7 376 181 377.6 181.4 379.2 178.3 380.7 176.7 382.3 174.4 383.8 172.2 385.4 169.9 386.9 169 388.5 170.2 390 168.8 391.6 167.3 393.1 167.2 394.7 166.9 396.2 166 397.8 164.1 399.3 163.7 400.9 162 402.4 160 404 159.2 405.5 158.8 407.1 157.5 408.6 155.6 410.2 152.9 411.8 153.2 413.3 150.7 414.9 149.7 416.4 148.3 418 148 419.5 147.8 421.1 147.5 422.6 146 424.2 145.6 425.7 145.2 427.3 144 428.8 141.9 430.4 141.4 431.9 140.8 433.5 140.3 435 138.8 436.6 137.9 438.1 136.9 439.7 136.3 441.2 137 442.8 137.1 444.3 135.8 445.9 135.5 447.5 134.9 449 133.7 450.6 134.2 452.1 133.6 453.7 132.8 455.2 133.8 456.8 133.2 458.3 132.1 459.9 131.8 461.4 130.9 463 131.1 464.5 130.9 466.1 130 467.6 129.7 469.2 129.4 470.7 128.9 472.3 129.7 473.8 129.5 475.4 128.5 476.9 127.4 478.5 126.8 480 126.4 481.6 126.9 483.2 127.5 484.7 126.5 486.3 126 487.8 125.5 489.4 125.6 490.9 125 492.5 124.8 494 124.9 495.6 123.8 497.1 123.8 498.7 124.3 500.2 123.7 501.8 123.9 503.3 123.4 504.9 123.4 506.4 122.9 508 123.1 509.5 122.2 511.1 122.7 512.6 122.7 514.2 122.2 515.7 122.6 517.3 122.5 518.9 121.7 520.4 121.4 522 122.1 523.5 121.3 525.1 121.3 526.6 121.2 528.2 121.5 529.7 121.5 531.3 121.1 532.8 122 534.4 121.3 535.9 121.6 537.5 120.7 539 120.7 540.6 119.9 542.1 120.6 543.7 119.7 545.2 119.1 546.8 119.2 548.3 119.1 549.9 118.4 551.4 117.6 553 117.9 554.6 117.2 556.1 116.8 557.7 116.9 559.2 116.4 560.8 116.2 562.3 115.7 563.9 115.8 565.4 115.4 567 115.2 568.5 115.4 570.1 115.2 571.6 115.3 573.2 115.5 574.7 114.5 576.3 114.9 577.8 115.5 579.4 115.4 580.9 115.6 582.5 115.1 584 115.3 585.6 115.7 587.1 115.4 588.7 115.8 590.3 115.6 591.8 116.3 593.4 115.8 594.9 116.1 596.5 116.3 598 115.9 599.6 116.3 601.1 116.7 602.7 116.4 604.2 116.6 605.8 116.6 607.3 116.7 608.9 116.9 610.4 116.6 612 116.4 613.5 116.4 615.1 116.5 616.6 116.5 618.2 116.5 619.7 116.8 621.3 116.4 622.8 116.4 624.4 116.2 626 116.2 627.5 116 629.1 116.2 630.6 116 632.2 116 633.7 116 635.3 116 636.8 115.7 638.4 115.7 639.9 115.8 641.5 115.9 643 115.7 644.6 115.9 646.1 115.7 647.7 115.8 649.2 115.6 650.8 115.7 652.3 115.7 653.9 115.9 655.4 116 657 116.2 658.6 116 660.1 116.2 661.7 116.1 663.2 116.2 664.8 115.8 666.3 116 667.9 115.9 669.4 115.9 671 116 672.5 115.9 674.1 115.8 675.6 115.9 677.2 115.6 678.7 115.6 680.3 115.7 681.8 115.6 683.4 115.5 684.9 115.4 686.5 115.4 688 115.1 689.6 115.1 691.1 115.1 692.7 114.9 694.3 115 695.8 114.7 697.4 115 698.9 114.8 700.5 114.9 702 114.5 703.6 114.5 705.1 114.3 706.7 114.2 708.2 114.3 709.8 114.4 711.3 114.1 712.9 113.9 714.4 113.9 716 113.7 717.5 113.9 719.1 113.6 720.6 113.4 722.2 113.2 723.7 113.2 725.3 113.2 726.8 113 728.4 112.8 730 112.7 731.5 112.3 733.1 112.3 734.6 112.3 736.2 112.3 737.7 112.4 739.3 112.4 740.8 112.3 742.4 112.3 743.9 112.3 745.5 112.2 747 112.1 748.6 112.1 750.1 112 751.7 112.1 753.2 112 754.8 112 756.3 112 757.9 112.1 759.4 112 761 112 762.5 111.9 764.1 112.1 765.7 111.9 767.2 111.9 768.8 111.9 770.3 112.1 771.9 112.1 773.4 111.9 775 112 776.5 111.8 778.1 111.9 779.6 111.9 781.2 111.8 782.7 111.8 784.3 111.8 785.8 111.8 787.4" fill="none" stroke="#00ffff" stroke-width="7" stroke-linecap="round" stroke-linejoin="round"/>
<path d="M472.4 21.6L472.4 23.1 472.5 24.7 472.4 26.2 472.5 27.8 472.5 29.4 472.5 30.9 471.7 32.5 469.5 34 468.8 35.6 469.7 37.1 468.6 38.7 467.2 40.2 465.4 41.8 464.5 43.3 464.9 44.9 463.4 46.4 463.2 48 461.9 49.5 462.5 51.1 461.4 52.6 461.5 54.2 460.6 55.7 459.5 57.3 458.8 58.8 458.9 60.4 458.5 61.9 458.3 63.5 456.9 65.1 456.2 66.6 455.4 68.2 455 69.7 453.3 71.3 453.1 72.8 452 74.4 452.5 75.9 450.8 77.5 450.9 79 450 80.6 450 82.1 448.8 83.7 449.4 85.2 450.1 86.8 446.7 88.3 444.9 89.9 442.2 91.4 439.2 93 438.4 94.5 436.5 96.1 434.3 97.6 436.3 99.2 435.7 100.8 435.7 102.3M431 103.9h0M426.3 105.4L429.2 107 425.4 108.5M421.1 110.1L420.2 111.6 416.6 113.2 413.8 114.7M409.6 116.3h0M405 117.8h0M400 119.4L399.2 120.9 398.5 122.5 395.1 124 392.9 125.6 391 127.1M386.3 128.7L385.8 130.2 383.7 131.8 381.4 133.4 377.6 134.9 377 136.5 375.4 138 375 139.6M369 141.1L366 142.7M361.5 144.2L357.9 145.8 355.6 147.3 356.6 148.9M349.3 150.4h0M344.7 152L343.6 153.5 341.2 155.1 338.8 156.6 338.3 158.2M330.9 159.7L332.8 161.3 330.5 162.8 329.9 164.4 326.4 165.9M318.9 167.5L316.8 169.1 320.4 170.6 317.2 172.2 316.9 173.7 313.6 175.3 316.1 176.8 315.7 178.4 315.1 179.9 314.4 181.5 314 183 313.7 184.6 313.3 186.1 312.8 187.7 311.8 189.2 310.8 190.8 308.7 192.3 306.2 193.9 304.8 195.4 301.5 197 300.7 198.5 299.6 200.1 298 201.6 297.5 203.2 294.4 204.8 294.3 206.3 293.3 207.9 292.4 209.4M288.5 211L286.7 212.5 285.9 214.1 284.6 215.6 282.9 217.2 280.6 218.7 277.6 220.3 278.1 221.8 276 223.4 272.2 224.9 272.4 226.5 271.6 228 271.1 229.6 270.4 231.1 269.5 232.7 267.8 234.2 266.1 235.8 264.7 237.3 262.1 238.9 263.1 240.5 260.7 242 261.3 243.6 258 245.1 256.3 246.7 255.2 248.2 253.5 249.8 252.4 251.3 251.2 252.9 252 254.4 250.3 256 249.7 257.5 248.1 259.1 246.7 260.6 244.4 262.2 243.4 263.7 243.4 265.3 240.9 266.8 240.8 268.4 240.4 269.9 240.3 271.5 238.3 273 238.7 274.6 239.5 276.2 237.9 277.7 239.4 279.3 239.8 280.8 240.5 282.4 240 283.9 239.5 285.5 236.1 287 237.9 288.6 237.7 290.1 236.9 291.7 235.3 293.2 234.9 294.8 233.8 296.3 233.3 297.9 232.4 299.4 231.2 301 229.9 302.5 228.5 304.1 227.4 305.6 225.7 307.2 224.3 308.7 222.7 310.3 221.3 311.9 219 313.4 217.5 315 218.4 316.5 217.4 318.1 216 319.6 214.1 321.2 213.5 322.7 213.3 324.3 211.3 325.8 210.8 327.4 211.5 328.9 207.8 330.5 208.5 332 207.1 333.6 207.1 335.1 208.4 336.7 209 338.2 207.5 339.8 205.1 341.3 206.8 342.9 203.9 344.4 205.5 346 203.9 347.6 202.3 349.1 200.9 350.7 202.3 352.2 201.9 353.8 199.7 355.3 198.2 356.9 198.1 358.4 196.3 360 195.3 361.5 193.4 363.1 191.5 364.6 191.9 366.2 192.2 367.7 188.5 369.3 186.1 370.8 185.2 372.4 184.9 373.9 183.5 375.5 183.8 377 181.4 378.6 179.6 380.2 179.9 381.7 179.4 383.3 178 384.8 175.8 386.4 175.3 387.9 174.4 389.5 172.7 391 172.4 392.6 171.1 394.1 169.2 395.7 168.5 397.2 166.2 398.8 164.8 400.3 164.9 401.9 163.9 403.4 162.8 405 161 406.5 158.7 408.1 157.6 409.6 156.9 411.2 154.8 412.7 153.3 414.3 151.9 415.9 151.4 417.4 150 419 148.4 420.5 147.7 422.1 146.8 423.6 145.2 425.2 145.6 426.7 145.9 428.3 144.3 429.8 143.5 431.4 142.6 432.9 140.6 434.5 140.5 436 140.1 437.6 139.4 439.1 138.5 440.7 137.6 442.2 137.1 443.8 136.8 445.3 136.1 446.9 135.5 448.4 135 450 134.6 451.6 134.3 453.1 133.9 454.7 132.6 456.2 131.9 457.8 132 459.3 132.1 460.9 131.2 462.4 130.9 464 130.1 465.5 130.8 467.1 130.2 468.6 129.6 470.2 129.5 471.7 130.1 473.3 130.3 474.8 129.9 476.4 129.1 477.9 129.4 479.5 127.8 481 127.3 482.6 127 484.1 127.1 485.7 127.2 487.3 127 488.8 126.9 490.4 126.6 491.9 125.8 493.5 125.5 495 124.8 496.6 124.9 498.1 125.2 499.7 124.5 501.2 125.4 502.8 125 504.3 124.3 505.9 123.9 507.4 124.7 509 124.1 510.5 124.3 512.1 123.6 513.6 124 515.2 123.8 516.7 123.6 518.3 123.5 519.8 123.3 521.4 123.1 523 122.9 524.5 122.8 526.1 122.6 527.6 122.4 529.2 122.3 530.7 122.2 532.3 122 533.8 121.9 535.4 121.7 536.9 121.6 538.5 121.3 540 121.3 541.6 121.1 543.1 121 544.7 120.7 546.2 120.1 547.8 120.5 549.3 120.1 550.9 120.2 552.4 119.9 554 119.4 555.5 119.6 557.1 119.3 558.7 119.1 560.2 118.8 561.8 118.8 563.3 118.7 564.9 118 566.4 117.8 568 118.3 569.5 117.7 571.1 118.4 572.6 117.9 574.2 118 575.7 117.1 577.3 116.8 578.8 117 580.4 116.9 581.9 116.6 583.5 117 585 116.7 586.6 117.4 588.1 117 589.7 117.2 591.2 116.9 592.8 116.7 594.4 116.8 595.9 116.7 597.5 117 599 117.3 600.6 117.2 602.1 117.3 603.7 117.1 605.2 116.9 606.8 117.2 608.3 117.2 609.9 117.2 611.4 117.1 613 117.1 614.5 117.1 616.1 117.1 617.6 117 619.2 117 620.7 117 622.3 116.8 623.8 116.9 625.4 116.9 626.9 116.9 628.5 116.9 630.1 116.7 631.6 116.6 633.2 116.5 634.7 116.5 636.3 116.5 637.8 116.7 639.4 116.6 640.9 116.6 642.5 116.6 644 116.6 645.6 116.5 647.1 116.6 648.7 116.5 650.2 116.5 651.8 116.5 653.3 116.5 654.9 116.3 656.4 116.4 658 116.4 659.5 116.4 661.1 116.4 662.7 116.4 664.2 116.3 665.8 116.3 667.3 116.3 668.9 116 670.4 116.1 672 116.2 673.5 116.1 675.1 116.1 676.6 116.1 678.2 116.1 679.7 115.9 681.3 116 682.8 116 684.4 115.8 685.9 115.7 687.5 115.8 689 115.7 690.6 115.7 692.1 115.6 693.7 115.2 695.2 115.5 696.8 115.5 698.4 115.4 699.9 115.2 701.5 115.2 703 115.1 704.6 115 706.1 114.9 707.7 114.8 709.2 114.6 710.8 114.5 712.3 114.4 713.9 114.3 715.4 114 717 114 718.5 113.9 720.1 113.8 721.6 113.5 723.2 113.4 724.7 113.3 726.3 113.2 727.8 112.9 729.4 112.8 730.9 112.5 732.5 112.5 734.1 112.5 735.6 112.6 737.2 112.6 738.7 112.5 740.3 112.4 741.8 112.4 743.4 112.1 744.9 112 746.5 112.3 748 112.4 749.6 112.2 751.1 112.1 752.7 112.3 754.2 112.2 755.8 112.2 757.3 112.1 758.9 112.2 760.4 112.2 762 112.2 763.5 112.1 765.1 112.2 766.6 112.2 768.2 112.1 769.8 112.1 771.3 112.2 772.9 112.2 774.4 112.2 776 112.2 777.5 112.2 779.1 112 780.6 112 782.2 112.2 783.7 112.2 785.3 112.1 786.8 112 788.4" fill="none" stroke="#00ffff" stroke-width="7" stroke-linecap="round" stroke-linejoin="round"/>
<path d="M470.6 20.2L470.6 35L465.6 42.7L461.5 50.5L458.7 58.3L455.6 66L451.7 73.8L447.4 81.5L444.4 87L441.6 91.6L434.7 97.1L427.7 102.5L420.7 107.5L407.7 112.6L383.9 123L360.4 138.2L343.3 150.6L331 157.2L320.9 163L300 174.7L297.7 188.3L284.5 205.3L265.6 222.5L251.1 239.6L239.9 256.7L231.6 270L227.7 280.7L224.5 291.4L217 302.1L209 312.8L203.1 323.4L199.4 329.9L195.7 339.5L191.3 350.2L184.8 360.9L179.6 369.5L172.3 380.3L165.3 390.1L159.1 399.7L154.5 407.3L147.5 417.1L141.3 434.3L135.1 451.3L130 468.5L126.6 485.7L124 502.8L122 519.9L120.4 537L118.9 554.2L117.6 562.7L116.6 592.6L115.8 640.3L115.3 678.1L114.7 699.3L113.3 717.9L111.9 733.5L111.4 756.7L111.4 787.8" fill="none" stroke="#0000ff" stroke-width="2.7" stroke-linejoin="round"/>
<path d="M470.5 21h0M470.7 24.1h0M470.5 27.2h0M470.5 30.3h0M470.3 33.4h0M469.5 36.5h0M468 39.6h0M465.8 42.7h0M464.3 45.8h0M462.4 48.9h0M461 52h0M459.8 55.2h0M458.2 58.3h0M457.7 61.4h0M456.3 64.5h0M455 67.6h0M452.7 70.7h0M451.2 73.8h0M449.7 76.9h0M448.1 80h0M446.6 83.1h0M444.8 86.2h0M443.2 89.3h0M440.4 92.4h0M436.8 95.5h0M432.8 98.6h0M428.5 101.7h0M425 104.8h0M419.9 107.9h0M412.1 111h0M404 114.1h0M396.8 117.2h0M389.8 120.3h0M383.1 123.4h0M378.6 126.6h0M373.7 129.7h0M368.6 132.8h0M363.7 135.9h0M359.1 139h0M355.4 142.1h0M350.5 145.2h0M346.6 148.3h0M342 151.4h0M335.6 154.5h0M330.3 157.6h0M325.3 160.7h0M318.9 163.8h0M313.8 166.9h0M308.3 170h0M302.2 173.1h0M300.4 174.7h0M299.7 176.2h0M298 177.8h0M300.1 179.3h0M299.7 180.9h0M299.9 182.4h0M300.4 184h0M298.7 185.5h0M298.1 187.1h0M295.4 188.6h0M297.1 190.2h0M294 191.7h0M293.1 193.3h0M290.6 194.8h0M289.9 196.4h0M289.4 198h0M291 199.5h0M284.7 201.1h0M284.4 202.6h0M285.8 204.2h0M286.3 205.7h0M283.3 207.3h0M277.7 208.8h0M275.1 210.4h0M277.8 211.9h0M274.4 213.5h0M272.1 215h0M273.6 216.6h0M272.1 218.1h0M269 219.7h0M267.4 221.2h0M266 222.8h0M266.5 224.3h0M263.7 225.9h0M262.2 227.4h0M260.9 229h0M256.4 230.5h0M259.5 232.1h0M257.6 233.7h0M255.7 235.2h0M250.5 236.8h0M251.2 238.3h0M252.2 239.9h0M247.1 241.4h0M248.6 243h0M249.5 244.5h0M244.8 246.1h0M248.4 247.6h0M245.7 249.2h0M243.6 250.7h0M243.3 252.3h0M242.8 253.8h0M241 255.4h0M241.6 256.9h0M237.8 258.5h0M237.2 260h0M238.5 261.6h0M235.9 263.1h0M233.5 264.7h0M235.4 266.2h0M235.2 267.8h0M231.3 269.4h0M229.1 270.9h0M230.5 272.5h0M229.9 274h0M229.1 275.6h0M231.2 277.1h0M226.8 278.7h0M229.8 280.2h0M225.4 281.8h0M225.7 283.3h0M227.4 284.9h0M227.7 286.4h0M226.8 288h0M225.6 289.5h0M224.8 291.1h0M223.8 292.6h0M223.4 294.2h0M221.2 295.7h0M220.8 297.3h0M220.2 298.8h0M218.2 300.4h0M218.3 302h0M216.8 303.5h0M217.9 305.1h0M214.1 306.6h0M211.8 308.2h0M210.7 309.7h0M210.1 311.3h0M210.4 312.8h0M207.6 314.4h0M207.9 315.9h0M209.2 317.5h0M201.6 319h0M202.9 320.6h0M204.2 322.1h0M203.6 323.7h0M202.4 325.2h0M200.5 326.8h0M201.3 328.3h0M199.8 329.9h0M198 331.4h0M201.9 333h0M198.1 334.5h0M196.1 336.1h0M196.2 337.7h0M195.4 339.2h0M195.1 340.8h0M190.3 342.3h0M193.1 343.9h0M194.8 345.4h0M190.8 347h0M191.9 348.5h0M192.9 350.1h0M191.8 351.6h0M191.8 353.2h0M186 354.7h0M187.1 356.3h0M186.2 357.8h0M186.7 359.4h0M186.5 360.9h0M179.7 362.5h0M184.6 364h0M179.7 365.6h0M182.1 367.1h0M177.7 368.7h0M179.3 370.2h0M179.9 371.8h0M176.7 373.4h0M176.2 374.9h0M176.1 376.5h0M174.1 378h0M172.7 379.6h0M174.1 381.1h0M172.3 382.7h0M169.1 384.2h0M172.7 385.8h0M165.5 387.3h0M167.6 388.9h0M164.7 390.4h0M164.3 392h0M164.2 393.5h0M162.5 395.1h0M162.1 396.6h0M157.9 398.2h0M157 399.7h0M159 401.3h0M155.9 402.8h0M154.9 404.4h0M153.4 405.9h0M155.9 407.5h0M154.1 409.1h0M153.9 410.6h0M149.9 412.2h0M149.9 413.7h0M147.6 415.3h0M148.6 416.8h0M148.7 418.4h0M145.6 419.9h0M147.5 421.5h0M146.3 423h0M144.7 424.6h0M142.5 426.1h0M144.9 427.7h0M143.1 429.2h0M142.1 430.8h0M142.3 432.3h0M141.8 433.9h0M142 435.4h0M139.6 437h0M140.5 438.5h0M140.2 440.1h0M139.6 441.6h0M138 443.2h0M137.1 444.8h0M137.5 446.3h0M136.5 447.9h0M135.9 449.4h0M135.9 451h0M134.7 452.5h0M133.4 454.1h0M133.7 455.6h0M132.7 457.2h0M133.3 458.7h0M132.6 460.3h0M131.8 461.8h0M131.5 463.4h0M131.4 464.9h0M130.7 466.5h0M130.7 468h0M129.8 469.6h0M129.9 471.1h0M129.8 472.7h0M129.5 474.2h0M128.3 475.8h0M128.6 477.3h0M127.3 478.9h0M127.2 480.5h0M126.6 482h0M127.4 483.6h0M126.3 485.1h0M126.5 486.7h0M126.2 488.2h0M126 489.8h0M125.5 491.3h0M125.6 492.9h0M125.9 494.4h0M125.1 496h0M125 497.5h0M124.9 499.1h0M124.2 500.6h0M123.6 502.2h0M123.7 503.7h0M124.1 505.3h0M122.9 506.8h0M123.1 508.4h0M123.5 509.9h0M123.3 511.5h0M122.8 513h0M122.9 514.6h0M122.5 516.2h0M121.8 517.7h0M121.5 519.3h0M121.7 520.8h0M122.1 522.4h0M121.4 523.9h0M121.2 525.5h0M121.1 527h0M120.7 528.6h0M121 530.1h0M120.5 531.7h0M120.9 533.2h0M119.8 534.8h0M120.6 536.3h0M120.1 537.9h0M119.5 539.4h0M120.3 541h0M119.8 542.5h0M119 544.1h0M119.3 545.6h0M119.6 547.2h0M119.2 548.8h0M119.5 550.3h0M119.3 551.9h0M119.2 553.4h0M118.9 555h0M119 556.5h0M118.5 558.1h0M118.2 559.6h0M117.2 561.2h0M117.9 562.7h0M118 564.3h0M117.4 565.8h0M117.3 567.4h0M118.1 568.9h0M116.8 570.5h0M117.5 572h0M118.1 573.6h0M116.9 575.1h0M117.4 576.7h0M117.7 578.2h0M117 579.8h0M117.2 581.3h0M117.2 582.9h0M116.6 584.5h0M116.8 586h0M116.8 587.6h0M117 589.1h0M116.6 590.7h0M116.5 592.2h0M116.2 593.8h0M116.4 595.3h0M116.8 596.9h0M116.5 598.4h0M116.2 600h0M116.1 601.5h0M117.2 603.1h0M116.7 604.6h0M116.5 606.2h0M115.5 607.7h0M116.5 609.3h0M116.4 610.8h0M116.8 612.4h0M116.3 613.9h0M116.2 615.5h0M116.3 617h0M115.5 618.6h0M116.4 620.2h0M116.2 621.7h0M115.8 623.3h0M116.4 624.8h0M116.6 626.4h0M115.6 627.9h0M115.8 629.5h0M116 631h0M116 632.6h0M115.8 634.1h0M115.6 635.7h0M116.5 637.2h0M116.1 638.8h0M115.4 640.3h0M115.4 641.9h0M116.3 643.4h0M116 645h0M116.3 646.5h0M115.9 648.1h0M115.4 649.6h0M115.7 651.2h0M115 652.7h0M115.4 654.3h0M115.6 655.9h0M115.7 657.4h0M115.3 659h0M115.5 660.5h0M115.7 662.1h0M115.6 663.6h0M115.7 665.2h0M115.5 666.7h0M115.3 668.3h0M115.6 669.8h0M115.4 671.4h0M115.1 672.9h0M115.2 674.5h0M115.3 676h0M115.3 677.6h0M115.3 679.1h0M115.2 680.7h0M115.2 682.2h0M115.1 683.8h0M114.8 685.3h0M115.2 686.9h0M115.3 688.4h0M115.1 690h0M114.9 691.6h0M115 693.1h0M114.6 694.7h0M114.3 696.2h0M114.8 697.8h0M114.4 699.3h0M114.8 700.9h0M114.2 702.4h0M113.6 704h0M114 705.5h0M114.5 707.1h0M113.9 708.6h0M113.5 710.2h0M113.6 711.7h0M113.8 713.3h0M113.7 714.8h0M113.5 716.4h0M113.7 717.9h0M113.4 719.5h0M113 721h0M113 722.6h0M113.2 724.1h0M112.9 725.7h0M112.7 727.3h0M112 728.8h0M112.2 730.4h0M112.2 731.9h0M111.8 733.5h0M112.2 735h0M112 736.6h0M112.1 738.1h0M111.7 739.7h0M112.4 741.2h0M112 742.8h0M111.6 744.3h0M111.7 745.9h0M112.3 747.4h0M111.5 749h0M111.8 750.5h0M111.8 752.1h0M111.5 753.6h0M111.2 755.2h0M111.5 756.7h0M111.5 758.3h0M111.7 759.8h0M111.6 761.4h0M111.5 763h0M111.7 764.5h0M111.6 766.1h0M111.5 767.6h0M111.5 769.2h0M111.4 770.7h0M111.6 772.3h0M111.2 773.8h0M111.3 775.4h0M111.5 776.9h0M111.1 778.5h0M111.3 780h0M111 781.6h0M111.3 783.1h0M111.6 784.7h0M111.6 786.2h0M111.4 787.8h0" fill="none" stroke="#0000ff" stroke-width="11.4" stroke-linecap="round"/>
<path d="M468.7 19.4L468.7 21" fill="none" stroke="#ff0000" stroke-width="7.4" stroke-linecap="round"/>
<path d="M468.7 21L468.7 22.6" fill="none" stroke="#ff0000" stroke-width="7.4" stroke-linecap="round"/>
<path d="M468.7 22.6L468.7 24.1" fill="none" stroke="#ff0000" stroke-width="7.4" stroke-linecap="round"/>
<path d="M468.7 24.1L468.7 25.7" fill="none" stroke="#ff0000" stroke-width="7.4" stroke-linecap="round"/>
<path d="M468.7 25.7L468.7 27.2" fill="none" stroke="#ff0000" stroke-width="7.4" stroke-linecap="round"/>
<path d="M468.7 27.2L468.7 28.8" fill="none" stroke="#ff0000" stroke-width="7.4" stroke-linecap="round"/>
<path d="M468.7 28.8L468.7 31.1" fill="none" stroke="#ff0000" stroke-width="7.4" stroke-linecap="round"/>
<path d="M468.7 31.1L468 35" fill="none" stroke="#ff0000" stroke-width="7.4" stroke-linecap="round"/>
<path d="M468 35L461 38.9" fill="none" stroke="#ff0000" stroke-width="7.4" stroke-linecap="round"/>
<path d="M461 38.9L452.5 42.7" fill="none" stroke="#ff0000" stroke-width="7.4" stroke-linecap="round"/>
<path d="M452.5 42.7L445.5 46.6" fill="none" stroke="#ff0000" stroke-width="7.4" stroke-linecap="round"/>
<path d="M445.5 46.6L440.6 50.5" fill="none" stroke="#ff0000" stroke-width="7.4" stroke-linecap="round"/>
<path d="M440.6 50.5L435.8 54.4" fill="none" stroke="#ff0000" stroke-width="7.4" stroke-linecap="round"/>
<path d="M435.8 54.4L431.3 58.3" fill="none" stroke="#ff0000" stroke-width="7.4" stroke-linecap="round"/>
<path d="M431.3 58.3L424.6 66" fill="none" stroke="#ff0000" stroke-width="7.4" stroke-linecap="round"/>
<path d="M424.6 66L417.6 73.8" fill="none" stroke="#ff0000" stroke-width="7.4" stroke-linecap="round"/>
<path d="M417.6 73.8L411.1 81.5" fill="none" stroke="#ff0000" stroke-width="7.4" stroke-linecap="round"/>
<path d="M411.1 81.5L405.3 89.3" fill="none" stroke="#ff0000" stroke-width="7.4" stroke-linecap="round"/>
<path d="M405.3 89.3L398.8 97.1" fill="none" stroke="#ff0000" stroke-width="7.4" stroke-linecap="round"/>
<path d="M398.8 97.1L365.9 116.5" fill="none" stroke="#ff0000" stroke-width="7.4" stroke-linecap="round"/>
<path d="M365.9 116.5L333.4 135.9" fill="none" stroke="#ff0000" stroke-width="7.4" stroke-linecap="round"/>
<path d="M333.4 135.9L286.2 174.7" fill="none" stroke="#ff0000" stroke-width="7.4" stroke-linecap="round"/>
<path d="M286.2 174.7L257.9 213.5" fill="none" stroke="#ff0000" stroke-width="7.4" stroke-linecap="round"/>
<path d="M257.9 213.5L231.4 252.3" fill="none" stroke="#ff0000" stroke-width="5.2" stroke-linecap="round"/>
<path d="M231.4 252.3L211.8 291.1" fill="none" stroke="#ff0000" stroke-width="5.2" stroke-linecap="round"/>
<path d="M211.8 291.1L190.1 329.9" fill="none" stroke="#ff0000" stroke-width="5.2" stroke-linecap="round"/>
<path d="M190.1 329.9L166.2 407.5" fill="none" stroke="#ff0000" stroke-width="5.2" stroke-linecap="round"/>
<path d="M166.2 407.5L145.7 485.1" fill="none" stroke="#ff0000" stroke-width="7.6" stroke-linecap="round"/>
<path d="M145.7 485.1L133.7 562.7" fill="none" stroke="#ff0000" stroke-width="7.6" stroke-linecap="round"/>
<path d="M133.7 562.7L127.7 640.3" fill="none" stroke="#ff0000" stroke-width="7.6" stroke-linecap="round"/>
<path d="M127.7 640.3L118.9 717.9" fill="none" stroke="#ff0000" stroke-width="7.6" stroke-linecap="round"/>
<path d="M118.9 717.9L111.8 795.6" fill="none" stroke="#ff0000" stroke-width="3.2" stroke-linecap="round"/>
<path d="M468.7 19.4h0M468.7 21h0M468.7 22.6h0M468.7 24.1h0M468.7 25.7h0M468.7 27.2h0M468.7 28.8h0M468.7 31.1h0M468 35h0M461 38.9h0M452.5 42.7h0M445.5 46.6h0M440.6 50.5h0M435.8 54.4h0M431.3 58.3h0M424.6 66h0M417.6 73.8h0M411.1 81.5h0M405.3 89.3h0M398.8 97.1h0M365.9 116.5h0M333.4 135.9h0M286.2 174.7h0M257.9 213.5h0M231.4 252.3h0M211.8 291.1h0M190.1 329.9h0M166.2 407.5h0M145.7 485.1h0M133.7 562.7h0M127.7 640.3h0M118.9 717.9h0M111.8 795.6h0" fill="none" stroke="#ff0000" stroke-width="11.6" stroke-linecap="round"/>
<path d="M471.8 19.4L471.5 21L470.3 22.6L468.7 24.1L468.7 25.7L468.7 27.2L468.7 28.8L468.7 31.1L468.7 35L462.5 38.9L458.2 42.7L454.8 46.6L452.2 50.5L450.2 54.4L449.2 58.3L445.4 66L442.4 73.8L439.9 81.5L434.7 89.3L429.3 97.1L392.6 116.5L364.2 135.9L312.4 174.7L264.4 213.5L228.8 252.3L207.3 291.1L186.7 329.9L160.2 407.5L142.3 485.1L127.4 562.7L116.6 640.3L114.4 717.9L109.3 795.6" fill="none" stroke="#ffa500" stroke-width="2.7" stroke-linejoin="round"/>
<g fill="#ffa500">
<circle cx="471.8" cy="19.4" r="5.8"/>
<circle cx="471.5" cy="21" r="5.8"/>
<circle cx="470.3" cy="22.6" r="5.8"/>
<circle cx="468.7" cy="24.1" r="5.8"/>
<circle cx="468.7" cy="25.7" r="5.8"/>
<circle cx="468.7" cy="27.2" r="5.8"/>
<circle cx="468.7" cy="28.8" r="5.8"/>
<circle cx="468.7" cy="31.1" r="5.8"/>
<circle cx="468.7" cy="35" r="5.8"/>
<circle cx="462.5" cy="38.9" r="5.8"/>
<circle cx="458.2" cy="42.7" r="5.8"/>
<circle cx="454.8" cy="46.6" r="5.8"/>
<circle cx="452.2" cy="50.5" r="5.8"/>
<circle cx="450.2" cy="54.4" r="5.8"/>
<circle cx="449.2" cy="58.3" r="5.8"/>
<circle cx="445.4" cy="66" r="5.8"/>
<circle cx="442.4" cy="73.8" r="5.8"/>
<circle cx="439.9" cy="81.5" r="5.8"/>
<circle cx="434.7" cy="89.3" r="5.8"/>
<circle cx="429.3" cy="97.1" r="5.8"/>
<circle cx="392.6" cy="116.5" r="5.8"/>
<circle cx="364.2" cy="135.9" r="5.8"/>
<circle cx="312.4" cy="174.7" r="5.8"/>
<circle cx="264.4" cy="213.5" r="5.8"/>
<circle cx="228.8" cy="252.3" r="5.8"/>
<circle cx="207.3" cy="291.1" r="5.8"/>
<circle cx="186.7" cy="329.9" r="5.8"/>
<circle cx="160.2" cy="407.5" r="5.8"/>
<circle cx="142.3" cy="485.1" r="5.8"/>
<circle cx="127.4" cy="562.7" r="5.8"/>
<circle cx="116.6" cy="640.3" r="5.8"/>
<circle cx="114.4" cy="717.9" r="5.8"/>
<circle cx="109.3" cy="795.6" r="5.8"/>
</g>
<path d="M467.2 19.4L467.2 21L467.2 22.6L467.2 24.1L467.2 25.7L467.2 27.2L467.2 28.8L467.2 31.1L467.2 35L467.2 38.9L466.6 42.7L465.6 46.6L464.1 50.5L456.3 54.4L452.5 58.3L446.7 66L439.5 73.8L432.2 81.5L426 89.3L420.1 97.1L395 116.5L369.3 135.9L309.3 174.7L262.2 213.5L227.5 252.3L200.5 291.1L179.9 329.9L148.1 407.5L134.8 485.1L122.1 562.7L110.2 640.3L107.6 717.9L106.7 795.6" fill="none" stroke="#008000" stroke-width="2.7" stroke-linejoin="round"/>
<g fill="#008000">
<circle cx="467.2" cy="19.4" r="5.8"/>
<circle cx="467.2" cy="21" r="5.8"/>
<circle cx="467.2" cy="22.6" r="5.8"/>
<circle cx="467.2" cy="24.1" r="5.8"/>
<circle cx="467.2" cy="25.7" r="5.8"/>
<circle cx="467.2" cy="27.2" r="5.8"/>
<circle cx="467.2" cy="28.8" r="5.8"/>
<circle cx="467.2" cy="31.1" r="5.8"/>
<circle cx="467.2" cy="35" r="5.8"/>
<circle cx="467.2" cy="38.9" r="5.8"/>
<circle cx="466.6" cy="42.7" r="5.8"/>
<circle cx="465.6" cy="46.6" r="5.8"/>
<circle cx="464.1" cy="50.5" r="5.8"/>
<circle cx="456.3" cy="54.4" r="5.8"/>
<circle cx="452.5" cy="58.3" r="5.8"/>
<circle cx="446.7" cy="66" r="5.8"/>
<circle cx="439.5" cy="73.8" r="5.8"/>
<circle cx="432.2" cy="81.5" r="5.8"/>
<circle cx="426" cy="89.3" r="5.8"/>
<circle cx="420.1" cy="97.1" r="5.8"/>
<circle cx="395" cy="116.5" r="5.8"/>
<circle cx="369.3" cy="135.9" r="5.8"/>
<circle cx="309.3" cy="174.7" r="5.8"/>
<circle cx="262.2" cy="213.5" r="5.8"/>
<circle cx="227.5" cy="252.3" r="5.8"/>
<circle cx="200.5" cy="291.1" r="5.8"/>
<circle cx="179.9" cy="329.9" r="5.8"/>
<circle cx="148.1" cy="407.5" r="5.8"/>
<circle cx="134.8" cy="485.1" r="5.8"/>
<circle cx="122.1" cy="562.7" r="5.8"/>
<circle cx="110.2" cy="640.3" r="5.8"/>
<circle cx="107.6" cy="717.9" r="5.8"/>
<circle cx="106.7" cy="795.6" r="5.8"/>
</g>
<path d="M469.7 19.8L469.7 20.6L469.7 21.5L469.7 22.4L469.7 23.4L469.7 24.4L469.7 25.6L469.7 26.9L469.7 28.3L469 29.9L468.3 31.7L467.2 33.8L466.3 36.2L465.3 39L464.1 42.3L462.2 46.1L461 50.7L459.4 56.2L457.1 62.8L453.7 70.5L447.5 79.9L439.5 91.1L430.5 104.6L417.5 120.9L385.6 140.4L333.4 163.9L282.3 192.1L243.3 225.9L208.4 266.3L179.1 314.5L159 371.7L146.1 439.4L131.1 518.9L116.2 611.8L108.4 719.7" fill="none" stroke="#ff00ff" stroke-width="2.7" stroke-linejoin="round"/>
<g fill="#ff00ff">
<circle cx="469.7" cy="19.8" r="5.8"/>
<circle cx="469.7" cy="20.6" r="5.8"/>
<circle cx="469.7" cy="21.5" r="5.8"/>
<circle cx="469.7" cy="22.4" r="5.8"/>
<circle cx="469.7" cy="23.4" r="5.8"/>
<circle cx="469.7" cy="24.4" r="5.8"/>
<circle cx="469.7" cy="25.6" r="5.8"/>
<circle cx="469.7" cy="26.9" r="5.8"/>
<circle cx="469.7" cy="28.3" r="5.8"/>
<circle cx="469" cy="29.9" r="5.8"/>
<circle cx="468.3" cy="31.7" r="5.8"/>
<circle cx="467.2" cy="33.8" r="5.8"/>
<circle cx="466.3" cy="36.2" r="5.8"/>
<circle cx="465.3" cy="39" r="5.8"/>
<circle cx="464.1" cy="42.3" r="5.8"/>
<circle cx="462.2" cy="46.1" r="5.8"/>
<circle cx="461" cy="50.7" r="5.8"/>
<circle cx="459.4" cy="56.2" r="5.8"/>
<circle cx="457.1" cy="62.8" r="5.8"/>
<circle cx="453.7" cy="70.5" r="5.8"/>
<circle cx="447.5" cy="79.9" r="5.8"/>
<circle cx="439.5" cy="91.1" r="5.8"/>
<circle cx="430.5" cy="104.6" r="5.8"/>
<circle cx="417.5" cy="120.9" r="5.8"/>
<circle cx="385.6" cy="140.4" r="5.8"/>
<circle cx="333.4" cy="163.9" r="5.8"/>
<circle cx="282.3" cy="192.1" r="5.8"/>
<circle cx="243.3" cy="225.9" r="5.8"/>
<circle cx="208.4" cy="266.3" r="5.8"/>
<circle cx="179.1" cy="314.5" r="5.8"/>
<circle cx="159" cy="371.7" r="5.8"/>
<circle cx="146.1" cy="439.4" r="5.8"/>
<circle cx="131.1" cy="518.9" r="5.8"/>
<circle cx="116.2" cy="611.8" r="5.8"/>
<circle cx="108.4" cy="719.7" r="5.8"/>
</g>
</g>
<rect x="99.4" y="19.4" width="381.1" height="783.9" fill="none" stroke="#000" stroke-width="1.5"/>
<g stroke="#000" stroke-width="1.5">
<path d="M103.4 803.4v6"/>
<path d="M180.8 803.4v6"/>
<path d="M258.2 803.4v6"/>
<path d="M335.6 803.4v6"/>
<path d="M413 803.4v6"/>
<path d="M99.4 19.4h-6"/>
<path d="M99.4 97.1h-6"/>
<path d="M99.4 174.7h-6"/>
<path d="M99.4 252.3h-6"/>
<path d="M99.4 329.9h-6"/>
<path d="M99.4 407.5h-6"/>
<path d="M99.4 485.1h-6"/>
<path d="M99.4 562.7h-6"/>
<path d="M99.4 640.3h-6"/>
<path d="M99.4 717.9h-6"/>
<path d="M99.4 795.6h-6"/>
</g>
</g>
<g id="ax1">
<g stroke="#a9a9a9" stroke-width="0.85" stroke-dasharray="3 1.6" fill="none">
<path d="M664.5 803.4V19.4"/>
<path d="M734.2 803.4V19.4"/>
<path d="M804 803.4V19.4"/>
<path d="M873.8 803.4V19.4"/>
<path d="M943.5 803.4V19.4"/>
<path d="M594.4 19.4H975.4"/>
<path d="M594.4 97.1H975.4"/>
<path d="M594.4 174.7H975.4"/>
<path d="M594.4 252.3H975.4"/>
<path d="M594.4 329.9H975.4"/>
<path d="M594.4 407.5H975.4"/>
<path d="M594.4 485.1H975.4"/>
<path d="M594.4 562.7H975.4"/>
<path d="M594.4 640.3H975.4"/>
<path d="M594.4 717.9H975.4"/>
<path d="M594.4 795.6H975.4"/>
</g>
<g clip-path="url(#clip1)">
<path d="M632.2 21.3L635 22.9 633.7 24.4 630 26 632.2 27.5M642 29.1h0M646.9 30.6h0M654 32.2h0M683.3 33.7h0M738.5 35.3L742.4 36.8M732.6 38.4h0M742.8 39.9h0M782.8 41.5h0M791.9 43.1L794.2 44.6M801.5 46.2h0M815.7 47.7h0M821.1 49.3h0M827.2 50.8h0M833.2 52.4h0M853 53.9L856.6 55.5 854.9 57 858.3 58.6M866.3 60.1h0M881.6 61.7L885.5 63.2M889.7 64.8L891.1 66.3M896.5 67.9L894.1 69.4 892.4 71 893.3 72.5M901.9 74.1h0M908.5 75.7L908 77.2 909.2 78.8M914.4 80.3h0M920.3 81.9L922.6 83.4 921 85 920.5 86.5M928 88.1h0M934 89.6h0M939.8 91.2L940.5 92.7 942.6 94.3 944.6 95.8 947.8 97.4 948.8 98.9 948.9 100.5 948.9 102 949.7 103.6 950.8 105.1 951.6 106.7 951.6 108.2 952.1 109.8 952.2 111.4 952.3 112.9 951.4 114.5 951.9 116 950.6 117.6 949.6 119.1 948.2 120.7 948.2 122.2 947 123.8 946.7 125.3 947.3 126.9 945.6 128.4 945.3 130 945.4 131.5 944.8 133.1 944.2 134.6 943.9 136.2 943.4 137.7 943.4 139.3 940.8 140.8 941.2 142.4M935.5 143.9h0M930.9 145.5L930.4 147.1 928.9 148.6 926.7 150.2 925.7 151.7 923.2 153.3M919.1 154.8L921.2 156.4M915.9 157.9h0M908.6 159.5L905.5 161 901.9 162.6M896.4 164.1L893.7 165.7M889.3 167.2L887.3 168.8 885.3 170.3 881.6 171.9 880.7 173.4 879.1 175 880.2 176.5 880.9 178.1 883.1 179.6 884.4 181.2 884.7 182.8M880.3 184.3L881.8 185.9 879.3 187.4 876.4 189 878.5 190.5 878.4 192.1 880.9 193.6 879.5 195.2 877.8 196.7 876.3 198.3 874.3 199.8 872.9 201.4 876.5 202.9M872.2 204.5L871.2 206 871.6 207.6 872.1 209.1 870.8 210.7 872.3 212.2M867.5 213.8L868.6 215.3 866 216.9 863.9 218.5 862.8 220 862.2 221.6 863 223.1 862.7 224.7 860.5 226.2 858.9 227.8M854.2 229.3L856.4 230.9 853.8 232.4 855.9 234 852.3 235.5 852.9 237.1 852.6 238.6 851.2 240.2 851.6 241.7 851.2 243.3 851.1 244.8 851.3 246.4 851.3 247.9 851.4 249.5 851.2 251 851.1 252.6 850 254.2 848.8 255.7 848.2 257.3 848.2 258.8 847.5 260.4 847.1 261.9 846.8 263.5 847 265 847 266.6 845.5 268.1 846.5 269.7 843.8 271.2 843.4 272.8 842.9 274.3 842.1 275.9 841.9 277.4 842.1 279 841 280.5 840.7 282.1 838.3 283.6 837.7 285.2 837.9 286.7 836.8 288.3 836.7 289.9 836.5 291.4 835.6 293 834.5 294.5 834.1 296.1 833.7 297.6 833 299.2 831.9 300.7 831.4 302.3 831.2 303.8 831.1 305.4 830.5 306.9 829.4 308.5 828.6 310 827.7 311.6 827.4 313.1 827.1 314.7 826.7 316.2 827.6 317.8 826.2 319.3 826.7 320.9 827.2 322.5 827.9 324 825 325.6 825.5 327.1 826.5 328.7 826.4 330.2 826.5 331.8 826 333.3 825.7 334.9 824.4 336.4 824.7 338 824.3 339.5 823.2 341.1 823.1 342.6 823.8 344.2 822.1 345.7 822.5 347.3 820.2 348.8 821.4 350.4 820.7 351.9 820.5 353.5 818.9 355 819 356.6 818.9 358.2 817.8 359.7 817.4 361.3 817.2 362.8 815.2 364.4 815.8 365.9 815.1 367.5 815.3 369 813.4 370.6 812.1 372.1 811.8 373.7 811.3 375.2 810.6 376.8 809 378.3 808.2 379.9 807.4 381.4 806.3 383 805.9 384.5 805.6 386.1 805.4 387.6 804.6 389.2 803.8 390.7 803.1 392.3 802.3 393.9 801.7 395.4 800.9 397 800.5 398.5 800.1 400.1 799.8 401.6 798.7 403.2 797.8 404.7 797.2 406.3 796.9 407.8 796.5 409.4 795.9 410.9 794.6 412.5 794.2 414 794.2 415.6 792.7 417.1 790.6 418.7 790.2 420.2 789.2 421.8 787.8 423.3 786.7 424.9 786.9 426.4 786.3 428 784.6 429.6 785.6 431.1 785.2 432.7 783.7 434.2 783.1 435.8 783.4 437.3 782.7 438.9 782.1 440.4 781.7 442 781.4 443.5 781.8 445.1 780.7 446.6 780.4 448.2 781 449.7 780.3 451.3 780.9 452.8 780 454.4 780.1 455.9 781.2 457.5 781.5 459 781.1 460.6 781.2 462.1 779.6 463.7 779.7 465.3 779.9 466.8 780.1 468.4 780.1 469.9 780.1 471.5 779.7 473 779.2 474.6 778.3 476.1 778.7 477.7 777.8 479.2 777.6 480.8 778.4 482.3 777.5 483.9 777.3 485.4 777.3 487 777.3 488.5 777.4 490.1 777.4 491.6 777.4 493.2 777.4 494.7 777.4 496.3 777.5 497.8 777.5 499.4 777.5 501 777.6 502.5 777.6 504.1 777.6 505.6 777.6 507.2 777.6 508.7 777.7 510.3 777.7 511.8 777.7 513.4 777.7 514.9 778.1 516.5 778.5 518 778.6 519.6 778.5 521.1 778.3 522.7 778.8 524.2 779 525.8 779.2 527.3 779.7 528.9 779.8 530.4 779.7 532 779.5 533.5 780.7 535.1 780.2 536.7 780.2 538.2 779.9 539.8 779.5 541.3 779.4 542.9 779.5 544.4 779.5 546 778.9 547.5 779.3 549.1 779 550.6 779.1 552.2 779.3 553.7 778.9 555.3 779.3 556.8 779.1 558.4 779.6 559.9 779.7 561.5 779.7 563 780.2 564.6 780.2 566.1 780 567.7 780.7 569.2 780.7 570.8 781.2 572.4 781.9 573.9 781.8 575.5 781 577 781.8 578.6 781.7 580.1 782 581.7 782.3 583.2 782.7 584.8 782.5 586.3 782.5 587.9 782 589.4 782.7 591 782.3 592.5 782.5 594.1 782.6 595.6 782.8 597.2 782.7 598.7 782.9 600.3 782.9 601.8 782.6 603.4 783 605 783.3 606.5 783.7 608.1 783.6 609.6 783.5 611.2 783.7 612.7 784 614.3 784.1 615.8 784 617.4 784.1 618.9 784.5 620.5 784.5 622 784.5 623.6 784.6 625.1 784.7 626.7 784.9 628.2 785.2 629.8 785.4 631.3 785.7 632.9 786.1 634.4 785.8 636 786.3 637.5 786.2 639.1 786.1 640.7 786.1 642.2 786.4 643.8 786.9 645.3 787 646.9 786.8 648.4 787.2 650 787.2 651.5 787.4 653.1 787.6 654.6 787.5 656.2 787.9 657.7 787.9 659.3 788.1 660.8 788 662.4 788 663.9 788.2 665.5 788.8 667 788.9 668.6 789.1 670.1 789 671.7 789.4 673.2 789.4 674.8 789.7 676.4 789.6 677.9 789.6 679.5 789.9 681 790.1 682.6 790.4 684.1 790.4 685.7 790.6 687.2 790.7 688.8 790.7 690.3 791 691.9 790.9 693.4 791.3 695 791 696.5 791.3 698.1 791.2 699.6 791.3 701.2 791.4 702.7 791.6 704.3 791.8 705.8 792 707.4 792.3 708.9 792.6 710.5 792.8 712.1 793 713.6 793.1 715.2 792.9 716.7 792.9 718.3 793.4 719.8 793.6 721.4 793.5 722.9 794 724.5 794.1 726 794 727.6 794.5 729.1 794.6 730.7 794.8 732.2 795 733.8 794.9 735.3 795.2 736.9 795.1 738.4 795.2 740 794.9 741.5 794.9 743.1 795.3 744.6 795.3 746.2 795.6 747.8 795.7 749.3 795.6 750.9 795.9 752.4 796.2 754 796.6 755.5 796.3 757.1 796.5 758.6 796.5 760.2 796.3 761.7 796.3 763.3 796.4 764.8 796.1 766.4 796.2 767.9 796.6 769.5 796.6 771 796.4 772.6 796.9 774.1 796.9 775.7 796.9 777.2 796.9 778.8 796.8 780.3 796.7 781.9 796.8 783.5 796.8 785 797 786.6 797 788.1" fill="none" stroke="#00ffff" stroke-width="7" stroke-linecap="round" stroke-linejoin="round"/>
<path d="M626.7 21.4h0M630.9 23L630.1 24.5 632.6 26.1 634.9 27.6 632.6 29.2M637.3 30.7L634.6 32.3M658.4 33.8h0M665.2 35.4h0M690.2 37h0M726.5 38.5h0M756.9 40.1h0M784.4 41.6h0M791.9 43.2h0M804.3 44.7h0M820.7 46.3h0M833.7 47.8L836 49.4M841.1 50.9h0M852.1 52.5h0M857.7 54h0M863.1 55.6L866.1 57.1M874.4 58.7L873.2 60.2 876.1 61.8 879.1 63.3M885.7 64.9L887.9 66.4 891.6 68 893.3 69.5 894.6 71.1 896.5 72.7 899.5 74.2M906 75.8h0M910.4 77.3h0M914.5 78.9L914.7 80.4 918.5 82M925.3 83.5h0M929.6 85.1L932.5 86.6 932.7 88.2 934.8 89.7 937.5 91.3 940.3 92.8 943.3 94.4M947.6 95.9L948.6 97.5 950.2 99 949.1 100.6 949.9 102.1 950.9 103.7 951.8 105.2 951.9 106.8 951.7 108.4 951.6 109.9 951.5 111.5 951.4 113 950.9 114.6 951.2 116.1 950.8 117.7 950.4 119.2 949.2 120.8 948.2 122.3 947.4 123.9 947 125.4 946.9 127 946.5 128.5 945.9 130.1 945 131.6 943.4 133.2 942.5 134.7 941.9 136.3 940.4 137.8 937.9 139.4 938.2 140.9 935.4 142.5 932.7 144.1 930.1 145.6 929.1 147.2 925.5 148.7 921.8 150.3 920.7 151.8 917.1 153.4M911.7 154.9L910.3 156.5M903.7 158L906.7 159.6 903 161.1M894.8 162.7L891.5 164.2 891.7 165.8 895.4 167.3M886.3 168.9L890.2 170.4M885.6 172L888.5 173.5 890.1 175.1 886.7 176.6 887.3 178.2 884.9 179.8 886 181.3 887.9 182.9 887.7 184.4M881.9 186L884.9 187.5 883.1 189.1 882.9 190.6 886.5 192.2 884 193.7 884.2 195.3 883.6 196.8 882.5 198.4 882.4 199.9 879.2 201.5 881.7 203 885.1 204.6M880.7 206.1L882.9 207.7 881.2 209.2 880.8 210.8 877.9 212.3 879.4 213.9 880.6 215.5M874.5 217L875.3 218.6 876.2 220.1 875 221.7 875.8 223.2 875.2 224.8 874 226.3 870.9 227.9 867.9 229.4 868.7 231M862.7 232.5L861.8 234.1 859.9 235.6 861.2 237.2M857 238.7L856.2 240.3 857.3 241.8 856.8 243.4 853.5 244.9 854.6 246.5 855.2 248.1 855.2 249.6 854.5 251.2 853.5 252.7 853.7 254.3 852.3 255.8 851.8 257.4 851.1 258.9 851.4 260.5 850.9 262 850.9 263.6 849.2 265.1 849.5 266.7 847.6 268.2 846.5 269.8 845.9 271.3 846.1 272.9 845 274.4 843.8 276 843.5 277.5 844.7 279.1 842.6 280.6 843.4 282.2 842.2 283.8 840.2 285.3 840.4 286.9 839.1 288.4 839.2 290 839.1 291.5 837.6 293.1 837.8 294.6 837.6 296.2 835.8 297.7 834.9 299.3 836.3 300.8 835.7 302.4 834.8 303.9 834.3 305.5 832.7 307 832.5 308.6 830.7 310.1 829.4 311.7 829.5 313.2 829 314.8 829.2 316.3 828.9 317.9 828.2 319.5 828.5 321 827.9 322.6 826.7 324.1 825.7 325.7 825.2 327.2 824.2 328.8 824.2 330.3 824.3 331.9 822.9 333.4 822.9 335 822.2 336.5 822.6 338.1 822.3 339.6 823.4 341.2 821.9 342.7 821.2 344.3 819.8 345.8 820.6 347.4 820.3 348.9 819.6 350.5 818.3 352 818.5 353.6 817.2 355.2 817.8 356.7 817.9 358.3 817.2 359.8 815.4 361.4 814.7 362.9 814.3 364.5 814.5 366 812.6 367.6 813.8 369.1 812.5 370.7 812.4 372.2 811.6 373.8 811.3 375.3 810.4 376.9 809.8 378.4 809 380 807.1 381.5 806.6 383.1 807.3 384.6 806.2 386.2 805 387.7 805.4 389.3 804.7 390.9 805.2 392.4 803.5 394 803.7 395.5 801.9 397.1 800.8 398.6 800 400.2 799.4 401.7 799.2 403.3 798.1 404.8 797.1 406.4 796.4 407.9 795.5 409.5 794.9 411 793.5 412.6 792.3 414.1 791.2 415.7 790.2 417.2 790.2 418.8 788.5 420.3 788.4 421.9 787.3 423.4 787.2 425 786.6 426.6 785.4 428.1 786.3 429.7 786.7 431.2 785.4 432.8 784.5 434.3 784.6 435.9 784.1 437.4 783.8 439 783.4 440.5 784 442.1 782.7 443.6 783.5 445.2 782.3 446.7 782.1 448.3 782 449.8 782.2 451.4 782.1 452.9 780.9 454.5 780.7 456 780.6 457.6 780.7 459.1 780.5 460.7 779.8 462.3 779.6 463.8 779.8 465.4 779.5 466.9 778.7 468.5 779 470 780 471.6 779.8 473.1 779.5 474.7 779.2 476.2 779.3 477.8 780 479.3 779.5 480.9 779.7 482.4 779.3 484 779.1 485.5 779.4 487.1 780.6 488.6 779.5 490.2 780 491.7 779.5 493.3 779.3 494.9 779.4 496.4 779.2 498 779.9 499.5 779.6 501.1 780.2 502.6 779.8 504.2 779.8 505.7 779.2 507.3 778.8 508.8 778.3 510.4 778.2 511.9 778.6 513.5 778.6 515 778.5 516.6 779.8 518.1 778.8 519.7 778.7 521.2 779 522.8 778.7 524.3 779.4 525.9 779.1 527.4 778.8 529 779 530.6 779.3 532.1 778.7 533.7 778.3 535.2 779.1 536.8 778.8 538.3 778.1 539.9 779.8 541.4 779.4 543 779.7 544.5 780.4 546.1 780.1 547.6 779.8 549.2 778.8 550.7 779.9 552.3 780.2 553.8 780.3 555.4 780.7 556.9 781.1 558.5 781.5 560 781.1 561.6 781.8 563.1 781.2 564.7 781.6 566.3 781.5 567.8 780.9 569.4 781.4 570.9 781.8 572.5 782.7 574 782.5 575.6 782.5 577.1 782.8 578.7 782.6 580.2 782.8 581.8 783.2 583.3 782.6 584.9 783.3 586.4 782.6 588 782.5 589.5 782.3 591.1 782.6 592.6 782.3 594.2 782 595.7 782.6 597.3 782.9 598.8 782.9 600.4 783.7 602 783.7 603.5 783.9 605.1 784 606.6 784 608.2 783.8 609.7 783.9 611.3 784.2 612.8 784.5 614.4 784.7 615.9 785.1 617.5 784.9 619 784.9 620.6 785.6 622.1 785.8 623.7 785.9 625.2 785.9 626.8 786.4 628.3 786.3 629.9 786.3 631.4 786.4 633 786.7 634.5 786.5 636.1 786.8 637.7 786.9 639.2 786.6 640.8 787 642.3 787.4 643.9 787.6 645.4 787.8 647 787.7 648.5 787.9 650.1 788 651.6 788 653.2 787.7 654.7 788.1 656.3 788.2 657.8 788.3 659.4 788.8 660.9 788.8 662.5 789.2 664 789.4 665.6 789.3 667.1 789.3 668.7 789.4 670.2 789.6 671.8 790.1 673.4 790.3 674.9 790.4 676.5 790.4 678 790.4 679.6 790.6 681.1 790.9 682.7 791 684.2 791.1 685.8 791.4 687.3 791.5 688.9 791.5 690.4 791.7 692 791.6 693.5 791.8 695.1 791.7 696.6 791.8 698.2 791.9 699.7 791.9 701.3 792.1 702.8 792.2 704.4 792.2 705.9 792.4 707.5 792.3 709.1 793 710.6 792.9 712.2 793 713.7 792.9 715.3 792.9 716.8 793.1 718.4 793.1 719.9 793.1 721.5 793.5 723 793.3 724.6 793.5 726.1 793.8 727.7 793.8 729.2 794.3 730.8 794.4 732.3 794.6 733.9 794.6 735.4 794.7 737 794.9 738.5 795.1 740.1 795.3 741.6 795.5 743.2 795.3 744.8 795.6 746.3 795.7 747.9 795.7 749.4 796 751 796.1 752.5 796.3 754.1 796.6 755.6 796.7 757.2 796.7 758.7 797 760.3 797.1 761.8 796.9 763.4 796.7 764.9 796.5 766.5 796.7 768 796.8 769.6 796.8 771.1 797.1 772.7 797.1 774.2 797.1 775.8 797 777.4 797.2 778.9 797 780.5 797.3 782 797 783.6 797.2 785.1 797.3 786.7 797.3 788.2" fill="none" stroke="#00ffff" stroke-width="7" stroke-linecap="round" stroke-linejoin="round"/>
<path d="M623.9 21L624.2 22.6M629.5 24.1L632.2 25.7 633.4 27.2M648.3 28.8h0M661.7 30.4h0M687.6 31.9h0M695.3 33.5h0M703.1 35h0M749.1 36.6h0M765.7 38.1h0M773.3 39.7L776.6 41.2M805.5 42.8h0M813.2 44.3h0M824.3 45.9L826.4 47.4M833.3 49h0M840.1 50.5h0M852.2 52.1h0M865.9 53.6L868.9 55.2M876 56.7L875.4 58.3 877.1 59.8 875.2 61.4 878.1 62.9M882.9 64.5h0M887.1 66.1h0M893.8 67.6L896 69.2M900.1 70.7L902.4 72.3M911.4 73.8L912.8 75.4M916.8 76.9L915.4 78.5M920 80h0M927 81.6h0M931.6 83.1h0M935.5 84.7L936.2 86.2 938 87.8 939.4 89.3 941.6 90.9 943.2 92.4M947.6 94L947.8 95.5 949.2 97.1 949.8 98.6 951.1 100.2 951.7 101.8 952.9 103.3 953.5 104.9 955.2 106.4 954.9 108 955.1 109.5 955.8 111.1 955.7 112.6 954.2 114.2 954.7 115.7 954.3 117.3 953.7 118.8 952.5 120.4 952.4 121.9 951 123.5 950.7 125 949.7 126.6 948.8 128.1 948.7 129.7 948.2 131.2 947.1 132.8 946.4 134.4 944.2 135.9 943.8 137.5 941.3 139 938.1 140.6 937.4 142.1 934.4 143.7 932.8 145.2 931.7 146.8 931.5 148.3 932.7 149.9M925.8 151.4L924.3 153 923.3 154.5M918.6 156.1L917.1 157.6 916.8 159.2 913.3 160.7M903.5 162.3h0M897.4 163.8L895.7 165.4 895.5 166.9 895.7 168.5 895.5 170.1 893.9 171.6 891.1 173.2 888.5 174.7 889.3 176.3 891 177.8 889.2 179.4 887.9 180.9M883.3 182.5L884.9 184 883.6 185.6 885 187.1 886.5 188.7M890.7 190.2L890.3 191.8 887.9 193.3M884 194.9h0M891.3 196.4L888 198 888.6 199.5 888.8 201.1 888.1 202.6 887.5 204.2 887.5 205.8 888.9 207.3 886.6 208.9M882.1 210.4L881.1 212 879.2 213.5 878.7 215.1M882.6 216.6L879.1 218.2 881 219.7M874.7 221.3h0M870.7 222.8L867.8 224.4 869.1 225.9 869.4 227.5M865.5 229L866.1 230.6 863 232.1 860.8 233.7 861.1 235.2 860.2 236.8 859.3 238.3 858.2 239.9 857.6 241.5 857.4 243 856.5 244.6 857.3 246.1 856.2 247.7 855 249.2 852.8 250.8 853.2 252.3 853.4 253.9 853.6 255.4 853 257 852.3 258.5 852.7 260.1 851.9 261.6 850.9 263.2 850.6 264.7 850.6 266.3 850.8 267.8 850.7 269.4 850 270.9 849 272.5 849.1 274 846.5 275.6 845.3 277.2 846.7 278.7 845.8 280.3 845.6 281.8 845.7 283.4 845.1 284.9 844.4 286.5 842.6 288 843.2 289.6 842.1 291.1 840.7 292.7 841 294.2 840.3 295.8 840.6 297.3 839.5 298.9 837.2 300.4 835.4 302 835.3 303.5 834.5 305.1 834.6 306.6 834.5 308.2 834.1 309.7 831.7 311.3 831.5 312.9 830.9 314.4 829.3 316 829.1 317.5 828.8 319.1 828.5 320.6 826.2 322.2 827.2 323.7 826.2 325.3 826.9 326.8 824.8 328.4 824.1 329.9 823.9 331.5 822.9 333 823.4 334.6 823.1 336.1 822.8 337.7 822.4 339.2 822.3 340.8 821.7 342.3 821.1 343.9 820.4 345.4 820 347 820 348.6 820 350.1 818.9 351.7 818.7 353.2 818.4 354.8 818.1 356.3 816.4 357.9 816.9 359.4 816.9 361 815 362.5 816 364.1 816.1 365.6 814.7 367.2 814.2 368.7 813.7 370.3 813.5 371.8 811.6 373.4 811.6 374.9 811.3 376.5 811.2 378 811 379.6 810.6 381.2 809.4 382.7 809.4 384.3 808.1 385.8 807.5 387.4 807.9 388.9 807.3 390.5 807.9 392 805.9 393.6 805.2 395.1 803.9 396.7 804.5 398.2 801.9 399.8 802 401.3 801.3 402.9 801 404.4 800.4 406 801.1 407.5 800.9 409.1 799.4 410.6 797.6 412.2 795.8 413.7 795.9 415.3 794.6 416.9 794.3 418.4 792.3 420 792.2 421.5 791 423.1 790.7 424.6 789.7 426.2 790.6 427.7 789.4 429.3 788.2 430.8 788.4 432.4 787.7 433.9 787.2 435.5 787.2 437 785.9 438.6 784.8 440.1 784.1 441.7 784.4 443.2 784.3 444.8 783.6 446.3 783.5 447.9 782.7 449.4 783.3 451 782.9 452.6 782.6 454.1 782.7 455.7 782.6 457.2 782 458.8 781.6 460.3 782.6 461.9 782.5 463.4 783.5 465 783.1 466.5 782.9 468.1 782.7 469.6 782.5 471.2 782.2 472.7 782.6 474.3 782.6 475.8 781.9 477.4 782.4 478.9 782.9 480.5 782 482 782.1 483.6 781.5 485.1 782.3 486.7 781.5 488.3 781 489.8 781.8 491.4 781.6 492.9 781.3 494.5 781.5 496 781 497.6 780.7 499.1 781.1 500.7 780.3 502.2 781.4 503.8 780.6 505.3 780.4 506.9 780.9 508.4 781.1 510 781.6 511.5 781.2 513.1 780.4 514.6 780.4 516.2 780.4 517.7 780.7 519.3 780.9 520.8 780.5 522.4 781.2 524 780.6 525.5 780.4 527.1 780.7 528.6 781 530.2 780.7 531.7 781 533.3 781.6 534.8 781.1 536.4 780.7 537.9 780.3 539.5 780.8 541 780.2 542.6 780.8 544.1 781.1 545.7 780.8 547.2 781.3 548.8 781.5 550.3 781.1 551.9 780.5 553.4 781.3 555 781.4 556.5 781.8 558.1 781.4 559.7 781.4 561.2 780.9 562.8 780.3 564.3 781.2 565.9 781.1 567.4 781.5 569 781.6 570.5 781.9 572.1 781.5 573.6 782.2 575.2 782.3 576.7 782.5 578.3 782.2 579.8 782.4 581.4 781.9 582.9 782.3 584.5 782.6 586 782.7 587.6 782.6 589.1 782.6 590.7 782.7 592.2 783.1 593.8 783.4 595.4 783.7 596.9 784 598.5 783.6 600 784.1 601.6 784 603.1 784.1 604.7 784.4 606.2 784.6 607.8 784.7 609.3 784.7 610.9 785.1 612.4 785.7 614 785.7 615.5 785.8 617.1 786 618.6 785.9 620.2 786.2 621.7 786.4 623.3 786.5 624.8 786.4 626.4 786.5 627.9 786.5 629.5 786.8 631.1 786.9 632.6 786.8 634.2 786.7 635.7 787.1 637.3 787.3 638.8 787.2 640.4 787.5 641.9 787.3 643.5 787.4 645 787.3 646.6 787.1 648.1 787.5 649.7 787.3 651.2 787.4 652.8 788 654.3 787.6 655.9 787.8 657.4 788.3 659 788.6 660.5 789 662.1 789.2 663.7 789.3 665.2 789.5 666.8 789.6 668.3 789.8 669.9 789.9 671.4 790.2 673 790.5 674.5 790.8 676.1 790.7 677.6 790.9 679.2 791.3 680.7 791.2 682.3 791.2 683.8 791.3 685.4 791.6 686.9 791.9 688.5 791.9 690 792.1 691.6 791.7 693.1 792 694.7 792.2 696.2 792.1 697.8 792.2 699.4 792 700.9 792.1 702.5 792.3 704 792.3 705.6 792.8 707.1 792.9 708.7 792.7 710.2 793.1 711.8 793.4 713.3 793.4 714.9 793.6 716.4 793.5 718 793.6 719.5 793.5 721.1 793.7 722.6 793.8 724.2 794 725.7 794.1 727.3 794.3 728.8 794.4 730.4 794.5 731.9 794.6 733.5 794.8 735.1 795 736.6 795.3 738.2 795 739.7 795.1 741.3 795.1 742.8 795.6 744.4 795.7 745.9 795.9 747.5 796.1 749 796.3 750.6 796.2 752.1 796.3 753.7 796.6 755.2 796.5 756.8 796.5 758.3 796.6 759.9 796.6 761.4 796.5 763 796.6 764.5 796.5 766.1 796.6 767.6 796.5 769.2 796.7 770.8 796.9 772.3 796.8 773.9 797 775.4 796.7 777 796.6 778.5 796.7 780.1 797 781.6 797 783.2 796.9 784.7 797 786.3 797 787.8" fill="none" stroke="#00ffff" stroke-width="7" stroke-linecap="round" stroke-linejoin="round"/>
<path d="M646.1 20.7L645.4 22.3 643 23.8 646.5 25.4 649.7 27M659 28.5h0M673.4 30.1h0M700.8 31.6h0M736.8 33.2h0M731.8 34.7h0M750.9 36.3h0M739.1 37.8h0M775.7 39.4h0M805.5 40.9h0M824.8 42.5h0M830.1 44L828.2 45.6 829 47.1M834.9 48.7h0M845.1 50.2h0M860.2 51.8L862.7 53.3M869.4 54.9L871 56.4 870.9 58M881.7 59.5h0M885.7 61.1h0M896.4 62.7L896.8 64.2M901.9 65.8h0M906 67.3h0M910.3 68.9L909.2 70.4M903.9 72L907.7 73.5 909.2 75.1M916.4 76.6L916.7 78.2M923.7 79.7h0M930.7 81.3L932 82.8 931.9 84.4 934.3 85.9M938.3 87.5h0M942.8 89L943.6 90.6M947.6 92.1L950.7 93.7 951.3 95.2 952.4 96.8 952.2 98.4 953.4 99.9 954.1 101.5 954.2 103 955.7 104.6 955.1 106.1 956.2 107.7 955.8 109.2 956.2 110.8 955.9 112.3 956 113.9 955.4 115.4 955 117 953.7 118.5 953.1 120.1 951.4 121.6 951 123.2 950.5 124.7 950 126.3 949.1 127.8 948.2 129.4 947.7 130.9 947 132.5 946.7 134.1 945.3 135.6 944.3 137.2 942.5 138.7 940.4 140.3 937.8 141.8 936.1 143.4 934.7 144.9 936 146.5M931.7 148L933.1 149.6M926.1 151.1h0M920.9 152.7L918.5 154.2 916.2 155.8 913.5 157.3 911.9 158.9M905.7 160.4h0M901.4 162L898.2 163.5 896.8 165.1 896.1 166.6 894.8 168.2 893.3 169.8 892.9 171.3 890.2 172.9 888.9 174.4 892.7 176 891.6 177.5 891.7 179.1 893.7 180.6 896.3 182.2 894.1 183.7M898.3 185.3L896 186.8 895.5 188.4 897.5 189.9 897.4 191.5 896.3 193 899.5 194.6 900.1 196.1 902.2 197.7 899.5 199.2 898 200.8 895.2 202.4 892.2 203.9 893.9 205.5 893.2 207 892.2 208.6 891.5 210.1 890.6 211.7M885.1 213.2h0M880.8 214.8L881.9 216.3 881.4 217.9 879.2 219.4 875.3 221 875 222.5 875.8 224.1 873.1 225.6 870.5 227.2M863.9 228.7L865.2 230.3 861.4 231.8 863.4 233.4 862.1 234.9 862.1 236.5 864.7 238.1 863.3 239.6 861.3 241.2 859.4 242.7 860.2 244.3 858.9 245.8 858 247.4 857.5 248.9 855.9 250.5 856.4 252 856.4 253.6 856.4 255.1 856 256.7 855.1 258.2 854.3 259.8 853 261.3 852.8 262.9 852.4 264.4 851 266 852.1 267.5 850.8 269.1 849.2 270.6 849.1 272.2 848.3 273.8 848.8 275.3 847.9 276.9 847.8 278.4 846.7 280 844.4 281.5 843 283.1 843.9 284.6 841.3 286.2 842.8 287.7 840.4 289.3 841 290.8 841.2 292.4 839.7 293.9 839.4 295.5 837.4 297 837.7 298.6 836.9 300.1 834.7 301.7 833.7 303.2 834.9 304.8 833.4 306.3 834 307.9 834 309.5 834 311 833.9 312.6 833.7 314.1 832.3 315.7 831.9 317.2 832.3 318.8 831.4 320.3 831.5 321.9 831.5 323.4 830.9 325 831.5 326.5 831.9 328.1 831.3 329.6 831 331.2 831.5 332.7 832.7 334.3 832.7 335.8 831.8 337.4 831.1 338.9 830 340.5 829.6 342 828.4 343.6 827.5 345.2 828.3 346.7 827.4 348.3 827.8 349.8 827.3 351.4 827.2 352.9 825.9 354.5 826.2 356 825.3 357.6 824.7 359.1 824.2 360.7 823.4 362.2 822.7 363.8 822.5 365.3 821.7 366.9 821.3 368.4 820.3 370 819.8 371.5 818.9 373.1 819 374.6 818.7 376.2 818.4 377.7 817.5 379.3 816.7 380.9 815.8 382.4 815 384 814.4 385.5 813.9 387.1 812.1 388.6 811.2 390.2 809.2 391.7 808.1 393.3 806.9 394.8 806.3 396.4 805.1 397.9 803.7 399.5 803 401 803.4 402.6 802.2 404.1 801.8 405.7 801.5 407.2 799.5 408.8 798.3 410.3 798.4 411.9 796.4 413.4 795.3 415 794.4 416.6 792.7 418.1 792 419.7 790.2 421.2 790.6 422.8 789.1 424.3 788.4 425.9 789.2 427.4 788.2 429 788.6 430.5 788.6 432.1 788.4 433.6 788 435.2 786.5 436.7 786.7 438.3 786.4 439.8 786.1 441.4 786 442.9 785 444.5 783.9 446 784.4 447.6 785 449.2 784.8 450.7 784.1 452.3 784.6 453.8 785.2 455.4 785 456.9 785 458.5 785.1 460 784.9 461.6 784.9 463.1 784.5 464.7 783.3 466.2 784.2 467.8 783.3 469.3 783.6 470.9 783.7 472.4 782.7 474 783 475.5 783.7 477.1 783.4 478.6 782.6 480.2 782.2 481.7 781.9 483.3 781.6 484.9 781.4 486.4 780.5 488 780.6 489.5 781.4 491.1 780.9 492.6 780.8 494.2 781.1 495.7 781.3 497.3 781.3 498.8 781.4 500.4 781.4 501.9 781.3 503.5 782 505 781.7 506.6 781.8 508.1 781.9 509.7 781.3 511.2 782.2 512.8 782.3 514.3 781.8 515.9 781.7 517.4 782.8 519 782.3 520.6 781.9 522.1 781.4 523.7 781.7 525.2 782.6 526.8 781.9 528.3 782.2 529.9 782.1 531.4 782.6 533 781.9 534.5 782.6 536.1 782.2 537.6 782.4 539.2 782.4 540.7 782.6 542.3 782.4 543.8 782.6 545.4 782.7 546.9 783.2 548.5 783.3 550 783.7 551.6 783.4 553.1 783.3 554.7 783.3 556.3 783.5 557.8 783.1 559.4 783.6 560.9 783.3 562.5 783.6 564 782.6 565.6 783.3 567.1 783.6 568.7 783.9 570.2 783.4 571.8 783.8 573.3 783.5 574.9 783.7 576.4 784.1 578 784.3 579.5 783.4 581.1 783.3 582.6 782.9 584.2 783.2 585.7 783.2 587.3 784.1 588.8 784 590.4 783.9 592 784.1 593.5 783.8 595.1 783.9 596.6 784.4 598.2 784.4 599.7 784.2 601.3 784.4 602.8 784.4 604.4 784.8 605.9 784.6 607.5 785 609 785.2 610.6 784.9 612.1 785.2 613.7 785.2 615.2 785.7 616.8 785.9 618.3 785.8 619.9 786 621.4 786.3 623 786.5 624.5 786.6 626.1 786.9 627.7 787.1 629.2 787 630.8 787 632.3 787.1 633.9 787.1 635.4 787.5 637 787.3 638.5 787.1 640.1 787.6 641.6 787.6 643.2 788.1 644.7 788.7 646.3 788.8 647.8 788.9 649.4 788.8 650.9 789 652.5 789.4 654 789.3 655.6 789.4 657.1 789.6 658.7 789.6 660.2 789.6 661.8 789.7 663.4 789.8 664.9 790 666.5 790.4 668 790.4 669.6 790.9 671.1 791.1 672.7 791.3 674.2 791.1 675.8 791.3 677.3 791.2 678.9 791.1 680.4 791 682 791 683.5 790.9 685.1 790.8 686.6 791.2 688.2 791.4 689.7 791.3 691.3 791.6 692.8 791.6 694.4 791.7 696 791.8 697.5 791.7 699.1 792 700.6 792.2 702.2 792.3 703.7 792.5 705.3 792.5 706.8 792.7 708.4 792.9 709.9 793.1 711.5 793.3 713 793.6 714.6 793.7 716.1 793.9 717.7 794.5 719.2 794.6 720.8 795 722.3 795.1 723.9 794.9 725.4 795.2 727 795.6 728.5 795.6 730.1 795.7 731.7 795.6 733.2 795.8 734.8 795.7 736.3 796.2 737.9 796.1 739.4 796.6 741 796.8 742.5 796.9 744.1 797.1 745.6 797.2 747.2 797.2 748.7 797.6 750.3 797.7 751.8 797.7 753.4 797.6 754.9 797.9 756.5 798.1 758 798 759.6 797.8 761.1 797.7 762.7 797.7 764.2 797.7 765.8 797.9 767.4 797.9 768.9 797.6 770.5 797.7 772 797.8 773.6 797.8 775.1 797.8 776.7 797.8 778.2 798 779.8 797.8 781.3 797.8 782.9 797.5 784.4 797.5 786 797.7 787.5" fill="none" stroke="#00ffff" stroke-width="7" stroke-linecap="round" stroke-linejoin="round"/>
<path d="M649.4 21.5L647 23.1 648 24.6M657.5 26.2h0M674.8 27.7h0M679.7 29.3h0M696.4 30.8L700.1 32.4M743.8 33.9h0M772.3 35.5h0M805.5 37.1L808.6 38.6M819.1 40.2L822 41.7M834.2 43.3L832.1 44.8M848.8 46.4h0M853.8 47.9h0M860.1 49.5L856.5 51M865.9 52.6h0M871.3 54.1h0M880.7 55.7L882.2 57.2 884.4 58.8 887.1 60.3M891.9 61.9L893.6 63.4M897.5 65L898.3 66.5M906.4 68.1L907.3 69.6 911 71.2 914.5 72.8 915.8 74.3 917.4 75.9 921.1 77.4M927.8 79h0M932.2 80.5L933.6 82.1 935.8 83.6 938.4 85.2 940.6 86.7 942.9 88.3M948.3 89.8L949.6 91.4 951.3 92.9 951.4 94.5 951.5 96 951.7 97.6 954 99.1 955.1 100.7 956.9 102.2 956.5 103.8 957.2 105.3 956.3 106.9 956.6 108.5 955.6 110 955 111.6 954.6 113.1 953.1 114.7 953.4 116.2 952.2 117.8 950.6 119.3 950.9 120.9 951.1 122.4 951.1 124 948.6 125.5 949.3 127.1 949.1 128.6 947.8 130.2 947.2 131.7 946.9 133.3 946.4 134.8 945.7 136.4 943.9 137.9 943.9 139.5 943.8 141 942.4 142.6 942.6 144.2 942.4 145.7M938.3 147.3L937.7 148.8 934.1 150.4 933.1 151.9 932 153.5 930.2 155M922.4 156.6L922.6 158.1 920.7 159.7 917.7 161.2M907.5 162.8L907.8 164.3 905.6 165.9 904 167.4M909.6 169h0M904.1 170.5L906.7 172.1 908 173.6 906 175.2M900.3 176.7L898.3 178.3 899.9 179.9 898.4 181.4 899.8 183 899.8 184.5 902.9 186.1 901.7 187.6 905.5 189.2M901 190.7L900.6 192.3 902.9 193.8 903.7 195.4M899.7 196.9L899.3 198.5 897.4 200 896 201.6 897.8 203.1 895.1 204.7 892.6 206.2 893.1 207.8 896.3 209.3 896.7 210.9 897.8 212.5M892.3 214L892.6 215.6 891.2 217.1 888.9 218.7 889.3 220.2 886.6 221.8 884.8 223.3 883.5 224.9 881.2 226.4 881.4 228 877.9 229.5 878.2 231.1 880.6 232.6M872.2 234.2L869.1 235.7 870.2 237.3 869.9 238.8 868.2 240.4 866.7 241.9 865.1 243.5 862.4 245 860.2 246.6 858.7 248.2 858.5 249.7 857.2 251.3 856 252.8 856.1 254.4 855.8 255.9 854 257.5 855.2 259 854.1 260.6 853.4 262.1 852.5 263.7 851.5 265.2 852.2 266.8 851.7 268.3 852.5 269.9 851.9 271.4 850.7 273 849.7 274.5 849.7 276.1 850.5 277.6 849.4 279.2 848.2 280.7 847 282.3 847.9 283.9 846.3 285.4 844.9 287 845.7 288.5 844.4 290.1 844.1 291.6 843.3 293.2 843 294.7 844 296.3 841.7 297.8 841.3 299.4 840.3 300.9 838.8 302.5 838.1 304 837.8 305.6 836.4 307.1 835.5 308.7 835.7 310.2 836.1 311.8 835.6 313.3 835 314.9 834.5 316.4 835.1 318 835.5 319.6 834.8 321.1 833.9 322.7 833.6 324.2 832.9 325.8 832.2 327.3 832.7 328.9 831.8 330.4 831.1 332 829.8 333.5 829.3 335.1 828.3 336.6 828.5 338.2 828.7 339.7 827.6 341.3 828 342.8 826.8 344.4 826.8 345.9 827 347.5 826.3 349 825.8 350.6 825 352.1 824.2 353.7 823.4 355.3 823.1 356.8 821.5 358.4 820.7 359.9 821.2 361.5 820.7 363 820.5 364.6 820.2 366.1 819.7 367.7 820.4 369.2 819 370.8 817.7 372.3 818.2 373.9 818.2 375.4 817.5 377 816.1 378.5 814.8 380.1 814.1 381.6 813.2 383.2 813 384.7 812.4 386.3 812.7 387.8 812.6 389.4 812.3 391 810.6 392.5 810 394.1 809.6 395.6 808.4 397.2 807.8 398.7 807.2 400.3 806.4 401.8 805.4 403.4 804.6 404.9 803.1 406.5 801.9 408 800.7 409.6 799.9 411.1 799.6 412.7 797.8 414.2 797.4 415.8 795.2 417.3 795.2 418.9 793.6 420.4 792 422 791.2 423.5 791.5 425.1 791.5 426.7 791 428.2 789.7 429.8 789.6 431.3 789 432.9 789.1 434.4 789.4 436 788.8 437.5 788.9 439.1 788.2 440.6 788.4 442.2 787 443.7 787.4 445.3 787.1 446.8 786.8 448.4 786.2 449.9 785.3 451.5 786 453 786.3 454.6 786.3 456.1 786.3 457.7 785.6 459.3 785.7 460.8 785 462.4 785.1 463.9 784.5 465.5 784.4 467 783.6 468.6 783.6 470.1 783.9 471.7 784.1 473.2 783.5 474.8 783.4 476.3 783 477.9 783.5 479.4 783.1 481 783.6 482.5 783.1 484.1 783.3 485.6 782.5 487.2 782.2 488.7 781.9 490.3 781.5 491.8 782.4 493.4 781.9 495 783 496.5 782.7 498.1 782.8 499.6 782.5 501.2 783 502.7 783.4 504.3 783.2 505.8 782.5 507.4 782.6 508.9 783 510.5 783.1 512 782.8 513.6 783.9 515.1 783.9 516.7 783.8 518.2 783.8 519.8 784.5 521.3 783.6 522.9 783.7 524.4 783.7 526 784.3 527.5 783.7 529.1 783.9 530.7 783.6 532.2 783.3 533.8 783.9 535.3 783.7 536.9 783.6 538.4 783.8 540 784.7 541.5 784.5 543.1 784.4 544.6 784.7 546.2 784.2 547.7 784.4 549.3 784 550.8 783.4 552.4 782.6 553.9 782.9 555.5 782.9 557 782.4 558.6 782.5 560.1 782.9 561.7 782.9 563.2 782.4 564.8 783 566.4 783.1 567.9 783.2 569.5 782.7 571 782.9 572.6 783 574.1 783.3 575.7 782.5 577.2 783 578.8 782.8 580.3 783.1 581.9 783.2 583.4 784.1 585 783.8 586.5 784.6 588.1 784.3 589.6 784.3 591.2 783.9 592.7 784.3 594.3 784.4 595.8 785.1 597.4 784.8 598.9 785 600.5 785.2 602.1 785.2 603.6 785.8 605.2 785.9 606.7 786.1 608.3 786.3 609.8 786.2 611.4 786.7 612.9 786.3 614.5 786.6 616 786.9 617.6 787 619.1 787 620.7 787.5 622.2 787.1 623.8 787.7 625.3 787.7 626.9 787.9 628.4 787.8 630 788.1 631.5 788.3 633.1 788.4 634.6 788.3 636.2 788.2 637.8 788.7 639.3 788.6 640.9 788.8 642.4 788.5 644 788.7 645.5 788.5 647.1 788.9 648.6 789 650.2 789.1 651.7 789.3 653.3 789.2 654.8 789.6 656.4 789.7 657.9 789.6 659.5 789.6 661 790.4 662.6 790.5 664.1 790.5 665.7 790.7 667.2 791 668.8 791 670.3 791.1 671.9 791.2 673.5 791.4 675 791.3 676.6 791.7 678.1 792 679.7 792.1 681.2 792.5 682.8 792.6 684.3 792.6 685.9 792.7 687.4 792.9 689 793.2 690.5 793.3 692.1 793.3 693.6 793.3 695.2 793.6 696.7 793.9 698.3 793.8 699.8 793.9 701.4 794.1 702.9 794 704.5 794.2 706 794.2 707.6 794.6 709.2 794.6 710.7 794.9 712.3 795.1 713.8 795.2 715.4 795.2 716.9 795.1 718.5 795.5 720 795.4 721.6 795.7 723.1 795.8 724.7 796.2 726.2 796.1 727.8 795.8 729.3 795.9 730.9 796 732.4 796 734 796.2 735.5 796.4 737.1 796.5 738.6 796.7 740.2 796.5 741.8 796.6 743.3 796.7 744.9 796.6 746.4 797 748 796.9 749.5 796.9 751.1 797.2 752.6 797.3 754.2 797.4 755.7 797.7 757.3 797.4 758.8 797.5 760.4 797.5 761.9 797.4 763.5 797.5 765 797.7 766.6 798 768.1 798 769.7 797.9 771.2 797.8 772.8 798.1 774.3 798.1 775.9 798 777.5 798.1 779 798.2 780.6 798.5 782.1 798.6 783.7 798.5 785.2 798.6 786.8 798.4 788.3" fill="none" stroke="#00ffff" stroke-width="7" stroke-linecap="round" stroke-linejoin="round"/>
<path d="M668.2 21.5L667.5 23.1 670.5 24.7M682.6 26.2h0M703.2 27.8h0M737.5 29.3h0M752.8 30.9h0M779.1 32.4h0M815.4 34h0M828.5 35.5h0M837.9 37.1L834.3 38.6 833.5 40.2 834.4 41.7M849.1 43.3h0M863.3 44.8h0M869.7 46.4L871 47.9M866.5 49.5L863.1 51 866.3 52.6M878.5 54.1h0M888.1 55.7L886.3 57.3 887.1 58.8 887.5 60.4M892.1 61.9L892.9 63.5 895.1 65M903.2 66.6h0M908.2 68.1h0M914.3 69.7L917.1 71.2 917.9 72.8 920.7 74.3 922.3 75.9 925.9 77.4M930.4 79L934.1 80.5M939.1 82.1L940.2 83.6 942.2 85.2 944.1 86.7M948.2 88.3h0M952.9 89.8L953.5 91.4 954.8 93 952.8 94.5 955.1 96.1 956.2 97.6 958 99.2 957.9 100.7 959 102.3 958.9 103.8 958.4 105.4 958.8 106.9 958.7 108.5 958.7 110 958.7 111.6 958 113.1 957.4 114.7 955.6 116.2 955.8 117.8 955 119.3 955.3 120.9 954 122.4 952.9 124 951.6 125.5 951.1 127.1 949.9 128.7 949.1 130.2 948.8 131.8 948.7 133.3 947.3 134.9 946.5 136.4 944.9 138 944.7 139.5 943.3 141.1 943.1 142.6 941.7 144.2 940 145.7 938 147.3 938.4 148.8 940.1 150.4 939.3 151.9 935.6 153.5M929 155L927.5 156.6 926.1 158.1 926.3 159.7 923.8 161.2 921.2 162.8M916 164.4L914.4 165.9 914 167.5 914.2 169 911.8 170.6 908.3 172.1 906.9 173.7 905.7 175.2 905.8 176.8 905 178.3 908.2 179.9 905.7 181.4 906.1 183 905.4 184.5 903.3 186.1 903.2 187.6 903.8 189.2 906.9 190.7 907.2 192.3 907 193.8 907 195.4 906.6 196.9 905.2 198.5 904 200.1 903.6 201.6 903.3 203.2 903 204.7 901.8 206.3 900.9 207.8 899.8 209.4 898.3 210.9 897.3 212.5 896.1 214 895.5 215.6 894 217.1 892.6 218.7 892.6 220.2 891.8 221.8 890.7 223.3 888.8 224.9 886.5 226.4 886 228 884.2 229.5 883.1 231.1 881.3 232.6 878.1 234.2 874.2 235.8 874.4 237.3 871.1 238.9 867.9 240.4 865.2 242 866.9 243.5 863.8 245.1 863.4 246.6 861.2 248.2 858.4 249.7 858 251.3 858.2 252.8 857.4 254.4 856.2 255.9 855.5 257.5 854.8 259 855.1 260.6 854.2 262.1 854 263.7 853.4 265.2 853.6 266.8 854.1 268.3 854.5 269.9 853.9 271.5 853.3 273 852.1 274.6 851.5 276.1 851 277.7 851 279.2 850.6 280.8 849.9 282.3 849.4 283.9 848.4 285.4 847.6 287 846.8 288.5 846.2 290.1 845.3 291.6 844.9 293.2 844.5 294.7 844.2 296.3 843.4 297.8 842.5 299.4 841.3 300.9 840.1 302.5 839.1 304 838.3 305.6 837.4 307.2 836.2 308.7 835.4 310.3 836.3 311.8 834.9 313.4 834.6 314.9 834.3 316.5 834.6 318 832.4 319.6 832.8 321.1 831.9 322.7 833 324.2 832.1 325.8 831.7 327.3 831.3 328.9 831.1 330.4 831.1 332 830.7 333.5 828.2 335.1 829.2 336.6 827.8 338.2 827.5 339.8 827.4 341.3 825.7 342.9 825.3 344.4 824.3 346 824 347.5 824.9 349.1 825.6 350.6 825.8 352.2 825.4 353.7 823.7 355.3 823.9 356.8 822.8 358.4 823.4 359.9 822.9 361.5 822.5 363 820.8 364.6 821.1 366.1 820.4 367.7 820.1 369.2 819.2 370.8 819.4 372.3 818.7 373.9 818.2 375.5 817.7 377 817.5 378.6 817.2 380.1 816.9 381.7 816.1 383.2 815.3 384.8 814.6 386.3 814.1 387.9 813.6 389.4 812.9 391 812.1 392.5 811.5 394.1 810.5 395.6 809.6 397.2 808.7 398.7 808 400.3 807.3 401.8 806.7 403.4 805.7 404.9 805.3 406.5 804.1 408 802.9 409.6 800.9 411.2 800.6 412.7 799.4 414.3 798.5 415.8 797.5 417.4 795 418.9 794.9 420.5 793.2 422 793.2 423.6 792.8 425.1 792.5 426.7 790.8 428.2 790 429.8 790.8 431.3 789.8 432.9 789.7 434.4 789.6 436 789.5 437.5 788.8 439.1 789.2 440.6 788.6 442.2 788.3 443.7 786.8 445.3 787.8 446.9 787.6 448.4 786.8 450 787.3 451.5 786.4 453.1 787.2 454.6 787.1 456.2 786.9 457.7 786.7 459.3 786.6 460.8 786.5 462.4 786.3 463.9 786.2 465.5 785.8 467 785.9 468.6 785.7 470.1 785.6 471.7 785.5 473.2 784.8 474.8 784.9 476.3 785.1 477.9 783.9 479.4 784.8 481 784.7 482.6 784 484.1 784.5 485.7 783.4 487.2 784.1 488.8 782.9 490.3 782.7 491.9 783.4 493.4 782.9 495 783.2 496.5 783.6 498.1 783.3 499.6 783.5 501.2 783 502.7 783.7 504.3 783.7 505.8 784.3 507.4 784.2 508.9 784.8 510.5 784.8 512 784.5 513.6 784.8 515.1 784.8 516.7 784.8 518.3 784.8 519.8 784.8 521.4 784.8 522.9 784.8 524.5 784.8 526 784.8 527.6 784.8 529.1 784.8 530.7 784.8 532.2 784.8 533.8 784.8 535.3 784.8 536.9 784.8 538.4 784.9 540 784.9 541.5 784.9 543.1 783.7 544.6 784 546.2 783.5 547.7 783.3 549.3 782.5 550.8 783 552.4 783.5 554 783.3 555.5 782.5 557.1 783.7 558.6 784.1 560.2 784.4 561.7 783.9 563.3 784.3 564.8 784.2 566.4 784.4 567.9 783.8 569.5 783.4 571 784.5 572.6 783.9 574.1 785.1 575.7 784.8 577.2 785.1 578.8 785.2 580.3 785.5 581.9 785.6 583.4 785.6 585 785.7 586.6 785.7 588.1 785.7 589.7 785.8 591.2 785.8 592.8 785.9 594.3 785.9 595.9 786 597.4 786 599 786 600.5 786.1 602.1 786.3 603.6 786.4 605.2 786.5 606.7 786.5 608.3 786.6 609.8 786.7 611.4 786.8 612.9 787 614.5 787.1 616 787.2 617.6 787.3 619.1 787.4 620.7 787.5 622.3 787.6 623.8 787.7 625.4 787.8 626.9 787.7 628.5 787.7 630 788.1 631.6 788.3 633.1 788.4 634.7 788.3 636.2 788.5 637.8 788.7 639.3 788.9 640.9 789 642.4 789.1 644 789.2 645.5 789.4 647.1 789.5 648.6 789.7 650.2 789.8 651.7 790 653.3 790.1 654.8 790.2 656.4 790.4 658 790.5 659.5 790.6 661.1 790.4 662.6 790.4 664.2 790.5 665.7 790.6 667.3 790.8 668.8 790.7 670.4 791 671.9 791.1 673.5 791.3 675 791.5 676.6 791.7 678.1 791.8 679.7 792 681.2 792.1 682.8 792.3 684.3 792 685.9 792.2 687.4 792.5 689 792.6 690.5 792.8 692.1 793.2 693.7 793.3 695.2 793.5 696.8 793.6 698.3 794 699.9 794.2 701.4 794.3 703 794.4 704.5 794.6 706.1 794.7 707.6 794.7 709.2 794.7 710.7 794.7 712.3 794.9 713.8 794.9 715.4 795.2 716.9 795.2 718.5 795.6 720 795.4 721.6 795.7 723.1 795.9 724.7 795.9 726.2 795.8 727.8 796.1 729.4 796.1 730.9 796.1 732.5 796.1 734 796.2 735.6 796 737.1 796.3 738.7 796.2 740.2 796.6 741.8 796.7 743.3 797 744.9 797.3 746.4 797 748 797.2 749.5 797.2 751.1 797.4 752.6 797.6 754.2 797.7 755.7 797.8 757.3 798.2 758.8 798 760.4 798.1 761.9 798.2 763.5 798.3 765.1 798.3 766.6 798.5 768.2 798.6 769.7 798.6 771.3 798.5 772.8 798.7 774.4 798.5 775.9 798.7 777.5 798.6 779 798.5 780.6 798.8 782.1 798.9 783.7 798.9 785.2 798.9 786.8 798.9 788.3" fill="none" stroke="#00ffff" stroke-width="7" stroke-linecap="round" stroke-linejoin="round"/>
<path d="M640.1 20.2L640.1 23.9L651.2 27.1L671.5 30.3L797 39.9L816.6 43.7L841 48.9L857.7 51.9L871.7 56.5L882.8 60.7L890.5 64.9L898.9 69L907.2 73.1L915.6 77.2L924 80.8L931.6 84.3L940 89L947 93.6L951.9 99.5L954.3 106.6L954 113.7L948.4 125.7L943.5 135.9L933 147.8L919.8 157.4L902.3 164.2L894.7 174.7L892.6 186.3L890.5 198L882.8 213.5L873.8 225.1L863.3 236.5L853.5 252.3L847.9 267.8L838.9 291.1L831.2 310.5L826.3 329.9L819.3 353.2L812.4 371.6L807.5 387.3L800.5 407.5L791.4 423L785.9 446.3L783.8 465.7L782.4 485.1L783.1 562.7L784.5 601.5L787.3 640.3L790.7 679.1L794.2 717.9L797 756.7L797.7 787.8" fill="none" stroke="#0000ff" stroke-width="2.7" stroke-linejoin="round"/>
<path d="M640.1 20.6h0M640.1 23.9h0M651.2 27.1h0M671.5 30.3h0M797.1 39.9h0M813 43h0M827.6 46.1h0M842.4 49.2h0M859 52.3h0M868.2 55.4h0M876.9 58.5h0M884.4 61.6h0M890.1 64.7h0M896.4 67.8h0M902.7 70.9h0M909.2 74h0M915.5 77.1h0M922.9 80.2h0M929.7 83.3h0M935.5 86.4h0M940.9 89.5h0M945.5 92.6h0M948.5 95.7h0M951.5 98.8h0M952.7 101.9h0M953.8 105.1h0M954.2 108.2h0M954.5 111.3h0M953.8 114.4h0M952.3 117.5h0M950.6 120.6h0M949.5 123.7h0M947.7 126.8h0M946.6 129.9h0M944.7 133h0M943.3 136.1h0M940.7 139.2h0M937.8 142.3h0M935.2 145.4h0M932.1 148.5h0M928 151.6h0M923.5 154.7h0M918.9 157.8h0M911.1 160.9h0M902.6 164h0M900.1 167.1h0M898.1 170.2h0M895.5 173.4h0M894.2 174.9h0M895 176.5h0M894.6 178h0M894.4 179.6h0M894.2 181.1h0M893.8 182.7h0M892.5 184.2h0M891.1 185.8h0M892.9 187.3h0M891.4 188.9h0M892 190.4h0M891.9 192h0M890.5 193.5h0M890.9 195.1h0M892.1 196.6h0M891 198.2h0M888.5 199.7h0M888.8 201.3h0M888.2 202.8h0M887.8 204.4h0M887.2 205.9h0M885.8 207.5h0M884.9 209.1h0M885 210.6h0M882.5 212.2h0M883.6 213.7h0M881.8 215.3h0M879.9 216.8h0M878.7 218.4h0M878.1 219.9h0M875.6 221.5h0M873.8 223h0M874.5 224.6h0M874 226.1h0M871.4 227.7h0M870.1 229.2h0M868.6 230.8h0M866.5 232.3h0M866.1 233.9h0M864.9 235.4h0M863.1 237h0M862.7 238.5h0M860.4 240.1h0M860.4 241.6h0M858.7 243.2h0M857.9 244.8h0M857.5 246.3h0M856.4 247.9h0M856 249.4h0M854.9 251h0M852.6 252.5h0M853.9 254.1h0M851.2 255.6h0M851.7 257.2h0M851.5 258.7h0M850.6 260.3h0M850.5 261.8h0M849.6 263.4h0M848.3 264.9h0M849 266.5h0M847.8 268h0M846.6 269.6h0M846.7 271.1h0M846 272.7h0M845.7 274.2h0M844.4 275.8h0M844.4 277.3h0M843.5 278.9h0M844.2 280.5h0M842.2 282h0M842.7 283.6h0M841.1 285.1h0M841.4 286.7h0M841.7 288.2h0M839.1 289.8h0M838.9 291.3h0M837.5 292.9h0M837.1 294.4h0M836.5 296h0M836.4 297.5h0M836.4 299.1h0M835.7 300.6h0M834.1 302.2h0M834 303.7h0M832.2 305.3h0M833.1 306.8h0M831.9 308.4h0M830.6 309.9h0M830.4 311.5h0M831 313h0M830.2 314.6h0M830.2 316.2h0M829.1 317.7h0M829.1 319.3h0M828.4 320.8h0M827.1 322.4h0M827.7 323.9h0M827.3 325.5h0M826.6 327h0M827.2 328.6h0M827.8 330.1h0M826.8 331.7h0M825.3 333.2h0M824 334.8h0M824.3 336.3h0M823.5 337.9h0M823.6 339.4h0M823.8 341h0M822.5 342.5h0M821.1 344.1h0M822.6 345.6h0M821.2 347.2h0M821.6 348.7h0M819.6 350.3h0M821.5 351.9h0M818.4 353.4h0M818.8 355h0M818.7 356.5h0M815.7 358.1h0M816.4 359.6h0M815.2 361.2h0M817 362.7h0M815.7 364.3h0M813.9 365.8h0M812.7 367.4h0M812.2 368.9h0M812.9 370.5h0M811.7 372h0M812 373.6h0M810.9 375.1h0M809.6 376.7h0M811.6 378.2h0M810.2 379.8h0M808.9 381.3h0M808.6 382.9h0M809.3 384.4h0M808.5 386h0M806.5 387.6h0M807.9 389.1h0M805.9 390.7h0M806.2 392.2h0M804.4 393.8h0M804.3 395.3h0M804.7 396.9h0M802.9 398.4h0M803.2 400h0M802.8 401.5h0M801.6 403.1h0M802.4 404.6h0M801.4 406.2h0M800.3 407.7h0M800 409.3h0M799.3 410.8h0M798.3 412.4h0M796.7 413.9h0M796.3 415.5h0M795.1 417h0M793.5 418.6h0M793 420.2h0M793.1 421.7h0M791 423.3h0M791.2 424.8h0M791.3 426.4h0M790.1 427.9h0M789.9 429.5h0M789.2 431h0M789.3 432.6h0M788.4 434.1h0M788.6 435.7h0M787.8 437.2h0M787.8 438.8h0M786.8 440.3h0M786.6 441.9h0M786.8 443.4h0M786.3 445h0M785.1 446.5h0M786 448.1h0M785.3 449.6h0M785.5 451.2h0M785.4 452.7h0M785 454.3h0M784.8 455.9h0M784.3 457.4h0M784.6 459h0M784.7 460.5h0M783.9 462.1h0M784.2 463.6h0M784 465.2h0M783.9 466.7h0M783.4 468.3h0M783.5 469.8h0M783.4 471.4h0M783.5 472.9h0M783 474.5h0M782.9 476h0M782.8 477.6h0M783 479.1h0M782.4 480.7h0M782.5 482.2h0M782.2 483.8h0M782.3 485.3h0M782.5 486.9h0M782.3 488.4h0M782.5 490h0M782.4 491.6h0M782.4 493.1h0M782.4 494.7h0M782.3 496.2h0M782.6 497.8h0M782.6 499.3h0M782.4 500.9h0M782.6 502.4h0M782.6 504h0M782.5 505.5h0M782.6 507.1h0M782.7 508.6h0M782.7 510.2h0M782.9 511.7h0M782.7 513.3h0M782.7 514.8h0M782.4 516.4h0M782.6 517.9h0M782.8 519.5h0M782.5 521h0M782.6 522.6h0M783 524.1h0M782.7 525.7h0M782.6 527.3h0M782.4 528.8h0M782.6 530.4h0M783.2 531.9h0M782.8 533.5h0M782.9 535h0M782.9 536.6h0M782.8 538.1h0M782.9 539.7h0M782.9 541.2h0M782.8 542.8h0M783.1 544.3h0M782.8 545.9h0M782.8 547.4h0M782.8 549h0M783.2 550.5h0M782.9 552.1h0M783.3 553.6h0M782.8 555.2h0M782.9 556.7h0M782.6 558.3h0M782.9 559.8h0M783.1 561.4h0M783.2 563h0M783 564.5h0M783.1 566.1h0M783.5 567.6h0M783.2 569.2h0M783.4 570.7h0M783.5 572.3h0M783.3 573.8h0M783.7 575.4h0M783.6 576.9h0M783.8 578.5h0M783.6 580h0M783.8 581.6h0M784 583.1h0M783.9 584.7h0M783.6 586.2h0M783.9 587.8h0M784 589.3h0M784.1 590.9h0M784.2 592.4h0M784 594h0M784.5 595.5h0M784.2 597.1h0M784.6 598.7h0M784.4 600.2h0M784.4 601.8h0M784.6 603.3h0M784.7 604.9h0M784.9 606.4h0M785.1 608h0M785.3 609.5h0M785.4 611.1h0M785.1 612.6h0M785.5 614.2h0M785.6 615.7h0M785.6 617.3h0M785.8 618.8h0M785.8 620.4h0M785.8 621.9h0M785.9 623.5h0M786.3 625h0M786.3 626.6h0M786.6 628.1h0M786.4 629.7h0M786.5 631.2h0M786.7 632.8h0M786.8 634.4h0M787.1 635.9h0M787 637.5h0M787.3 639h0M787.3 640.6h0M787.3 642.1h0M787.5 643.7h0M787.7 645.2h0M788 646.8h0M788.1 648.3h0M788.2 649.9h0M788.2 651.4h0M788.5 653h0M788.6 654.5h0M788.6 656.1h0M788.9 657.6h0M788.9 659.2h0M789.1 660.7h0M789.1 662.3h0M789.2 663.8h0M789.6 665.4h0M789.4 667h0M789.7 668.5h0M789.9 670.1h0M790.1 671.6h0M790.1 673.2h0M790.4 674.7h0M790.4 676.3h0M790.5 677.8h0M790.7 679.4h0M790.8 680.9h0M791 682.5h0M791 684h0M791.2 685.6h0M791.4 687.1h0M791.7 688.7h0M791.6 690.2h0M791.9 691.8h0M791.9 693.3h0M792.3 694.9h0M792.3 696.4h0M792.4 698h0M792.7 699.5h0M792.9 701.1h0M793 702.7h0M793.1 704.2h0M793.1 705.8h0M793.2 707.3h0M793.4 708.9h0M793.5 710.4h0M793.8 712h0M793.8 713.5h0M794 715.1h0M794.1 716.6h0M794.2 718.2h0M794.3 719.7h0M794.3 721.3h0M794.9 722.8h0M794.7 724.4h0M794.6 725.9h0M794.8 727.5h0M795 729h0M795.4 730.6h0M795.3 732.1h0M795.3 733.7h0M795.7 735.2h0M795.4 736.8h0M795.8 738.4h0M796.1 739.9h0M795.9 741.5h0M796.2 743h0M796.2 744.6h0M795.9 746.1h0M796.4 747.7h0M796.4 749.2h0M796.3 750.8h0M796.8 752.3h0M796.8 753.9h0M797 755.4h0M797.1 757h0M797 758.5h0M796.8 760.1h0M797.1 761.6h0M797.1 763.2h0M797.1 764.7h0M797.1 766.3h0M797.3 767.8h0M797.5 769.4h0M797.4 770.9h0M797.4 772.5h0M797.5 774.1h0M797.5 775.6h0M797.5 777.2h0M797.4 778.7h0M797.4 780.3h0M797.7 781.8h0M797.6 783.4h0M797.8 784.9h0M797.6 786.5h0" fill="none" stroke="#0000ff" stroke-width="11.4" stroke-linecap="round"/>
<path d="M725.2 19.4L725.2 21" fill="none" stroke="#ff0000" stroke-width="3.4" stroke-linecap="round"/>
<path d="M725.2 21L725.2 22.6" fill="none" stroke="#ff0000" stroke-width="3.4" stroke-linecap="round"/>
<path d="M725.2 22.6L725.2 24.1" fill="none" stroke="#ff0000" stroke-width="3.4" stroke-linecap="round"/>
<path d="M725.2 24.1L725.2 25.7" fill="none" stroke="#ff0000" stroke-width="3.4" stroke-linecap="round"/>
<path d="M725.2 25.7L725.2 27.2" fill="none" stroke="#ff0000" stroke-width="3.4" stroke-linecap="round"/>
<path d="M725.2 27.2L725.2 28.8" fill="none" stroke="#ff0000" stroke-width="3.4" stroke-linecap="round"/>
<path d="M725.2 28.8L725.2 31.1" fill="none" stroke="#ff0000" stroke-width="3.4" stroke-linecap="round"/>
<path d="M725.2 31.1L725.2 35" fill="none" stroke="#ff0000" stroke-width="3.4" stroke-linecap="round"/>
<path d="M725.2 35L728.7 38.9" fill="none" stroke="#ff0000" stroke-width="3.4" stroke-linecap="round"/>
<path d="M728.7 38.9L747.5 42.7" fill="none" stroke="#ff0000" stroke-width="3.4" stroke-linecap="round"/>
<path d="M747.5 42.7L781 46.6" fill="none" stroke="#ff0000" stroke-width="3.4" stroke-linecap="round"/>
<path d="M781 46.6L794.2 50.5" fill="none" stroke="#ff0000" stroke-width="3.4" stroke-linecap="round"/>
<path d="M794.2 50.5L811 54.4" fill="none" stroke="#ff0000" stroke-width="7.4" stroke-linecap="round"/>
<path d="M811 54.4L824.9 58.3" fill="none" stroke="#ff0000" stroke-width="7.4" stroke-linecap="round"/>
<path d="M824.9 58.3L845.9 66" fill="none" stroke="#ff0000" stroke-width="7.4" stroke-linecap="round"/>
<path d="M845.9 66L863.3 73.8" fill="none" stroke="#ff0000" stroke-width="7.4" stroke-linecap="round"/>
<path d="M863.3 73.8L876.5 81.5" fill="none" stroke="#ff0000" stroke-width="7.4" stroke-linecap="round"/>
<path d="M876.5 81.5L885.6 89.3" fill="none" stroke="#ff0000" stroke-width="7.4" stroke-linecap="round"/>
<path d="M885.6 89.3L893.3 97.1" fill="none" stroke="#ff0000" stroke-width="7.4" stroke-linecap="round"/>
<path d="M893.3 97.1L898.2 116.5" fill="none" stroke="#ff0000" stroke-width="6.6" stroke-linecap="round"/>
<path d="M898.2 116.5L888.4 135.9" fill="none" stroke="#ff0000" stroke-width="6.6" stroke-linecap="round"/>
<path d="M888.4 135.9L871.7 174.7" fill="none" stroke="#ff0000" stroke-width="6.6" stroke-linecap="round"/>
<path d="M871.7 174.7L859.8 213.5" fill="none" stroke="#ff0000" stroke-width="6.6" stroke-linecap="round"/>
<path d="M859.8 213.5L840.3 252.3" fill="none" stroke="#ff0000" stroke-width="4.6" stroke-linecap="round"/>
<path d="M840.3 252.3L830.5 291.1" fill="none" stroke="#ff0000" stroke-width="4.6" stroke-linecap="round"/>
<path d="M830.5 291.1L817.3 329.9" fill="none" stroke="#ff0000" stroke-width="4.6" stroke-linecap="round"/>
<path d="M817.3 329.9L806.1 407.5" fill="none" stroke="#ff0000" stroke-width="4.6" stroke-linecap="round"/>
<path d="M806.1 407.5L794.9 485.1" fill="none" stroke="#ff0000" stroke-width="7" stroke-linecap="round"/>
<path d="M794.9 485.1L792.1 562.7" fill="none" stroke="#ff0000" stroke-width="7" stroke-linecap="round"/>
<path d="M792.1 562.7L797 640.3" fill="none" stroke="#ff0000" stroke-width="7" stroke-linecap="round"/>
<path d="M797 640.3L797.7 717.9" fill="none" stroke="#ff0000" stroke-width="7" stroke-linecap="round"/>
<path d="M797.7 717.9L797.7 795.6" fill="none" stroke="#ff0000" stroke-width="3.2" stroke-linecap="round"/>
<path d="M725.2 19.4L725.2 21" fill="none" stroke="#ff0000" stroke-width="3.4" stroke-linecap="round"/>
<path d="M725.2 21L725.2 22.6" fill="none" stroke="#ff0000" stroke-width="3.4" stroke-linecap="round"/>
<path d="M725.2 22.6L725.2 24.1" fill="none" stroke="#ff0000" stroke-width="3.4" stroke-linecap="round"/>
<path d="M725.2 24.1L725.2 25.7" fill="none" stroke="#ff0000" stroke-width="3.4" stroke-linecap="round"/>
<path d="M725.2 25.7L725.2 27.2" fill="none" stroke="#ff0000" stroke-width="3.4" stroke-linecap="round"/>
<path d="M725.2 27.2L725.2 28.8" fill="none" stroke="#ff0000" stroke-width="3.4" stroke-linecap="round"/>
<path d="M725.2 28.8L725.2 31.1" fill="none" stroke="#ff0000" stroke-width="3.4" stroke-linecap="round"/>
<path d="M725.2 31.1L730.8 35" fill="none" stroke="#ff0000" stroke-width="3.4" stroke-linecap="round"/>
<path d="M730.8 35L767 38.9" fill="none" stroke="#ff0000" stroke-width="3.4" stroke-linecap="round"/>
<path d="M767 38.9L784.5 42.7" fill="none" stroke="#ff0000" stroke-width="3.4" stroke-linecap="round"/>
<path d="M784.5 42.7L800.5 46.6" fill="none" stroke="#ff0000" stroke-width="3.4" stroke-linecap="round"/>
<path d="M800.5 46.6L812.4 50.5" fill="none" stroke="#ff0000" stroke-width="3.4" stroke-linecap="round"/>
<path d="M812.4 50.5L821.4 54.4" fill="none" stroke="#ff0000" stroke-width="7.4" stroke-linecap="round"/>
<path d="M821.4 54.4L829.1 58.3" fill="none" stroke="#ff0000" stroke-width="7.4" stroke-linecap="round"/>
<path d="M829.1 58.3L845.9 66" fill="none" stroke="#ff0000" stroke-width="7.4" stroke-linecap="round"/>
<path d="M845.9 66L863.3 73.8" fill="none" stroke="#ff0000" stroke-width="7.4" stroke-linecap="round"/>
<path d="M863.3 73.8L876.5 81.5" fill="none" stroke="#ff0000" stroke-width="7.4" stroke-linecap="round"/>
<path d="M876.5 81.5L885.6 89.3" fill="none" stroke="#ff0000" stroke-width="7.4" stroke-linecap="round"/>
<path d="M885.6 89.3L893.3 97.1" fill="none" stroke="#ff0000" stroke-width="7.4" stroke-linecap="round"/>
<path d="M893.3 97.1L898.2 116.5" fill="none" stroke="#ff0000" stroke-width="6.6" stroke-linecap="round"/>
<path d="M898.2 116.5L888.4 135.9" fill="none" stroke="#ff0000" stroke-width="6.6" stroke-linecap="round"/>
<path d="M888.4 135.9L871.7 174.7" fill="none" stroke="#ff0000" stroke-width="6.6" stroke-linecap="round"/>
<path d="M871.7 174.7L859.8 213.5" fill="none" stroke="#ff0000" stroke-width="6.6" stroke-linecap="round"/>
<path d="M859.8 213.5L840.3 252.3" fill="none" stroke="#ff0000" stroke-width="4.6" stroke-linecap="round"/>
<path d="M840.3 252.3L830.5 291.1" fill="none" stroke="#ff0000" stroke-width="4.6" stroke-linecap="round"/>
<path d="M830.5 291.1L817.3 329.9" fill="none" stroke="#ff0000" stroke-width="4.6" stroke-linecap="round"/>
<path d="M817.3 329.9L806.1 407.5" fill="none" stroke="#ff0000" stroke-width="4.6" stroke-linecap="round"/>
<path d="M806.1 407.5L794.9 485.1" fill="none" stroke="#ff0000" stroke-width="7" stroke-linecap="round"/>
<path d="M794.9 485.1L792.1 562.7" fill="none" stroke="#ff0000" stroke-width="7" stroke-linecap="round"/>
<path d="M792.1 562.7L797 640.3" fill="none" stroke="#ff0000" stroke-width="7" stroke-linecap="round"/>
<path d="M797 640.3L797.7 717.9" fill="none" stroke="#ff0000" stroke-width="7" stroke-linecap="round"/>
<path d="M797.7 717.9L797.7 795.6" fill="none" stroke="#ff0000" stroke-width="3.2" stroke-linecap="round"/>
<path d="M725.2 19.4h0M725.2 21h0M725.2 22.6h0M725.2 24.1h0M725.2 25.7h0M725.2 27.2h0M725.2 28.8h0M725.2 31.1h0M730.8 35h0M767 38.9h0M784.5 42.7h0M800.5 46.6h0M812.4 50.5h0M821.4 54.4h0M829.1 58.3h0M845.9 66h0M863.3 73.8h0M876.5 81.5h0M885.6 89.3h0M893.3 97.1h0M898.2 116.5h0M888.4 135.9h0M871.7 174.7h0M859.8 213.5h0M840.3 252.3h0M830.5 291.1h0M817.3 329.9h0M806.1 407.5h0M794.9 485.1h0M792.1 562.7h0M797 640.3h0M797.7 717.9h0M797.7 795.6h0" fill="none" stroke="#ff0000" stroke-width="11.6" stroke-linecap="round"/>
<path d="M716.1 19.4L716.1 21L716.1 22.6L716.1 24.1L716.1 25.7L716.1 27.2L716.1 28.8L716.1 31.1L717.5 35L722.4 38.9L764.2 42.7L797.7 46.6L831.9 50.5L849.3 54.4L863.3 58.3L877.2 66L889.1 73.8L896.1 81.5L919.1 89.3L932.3 97.1L938.6 116.5L935.8 135.9L907.2 174.7L866.8 213.5L836.8 252.3L827.7 291.1L814.5 329.9L800.5 407.5L790.7 485.1L785.2 562.7L785.2 640.3L788.7 717.9L792.8 795.6" fill="none" stroke="#ffa500" stroke-width="2.7" stroke-linejoin="round"/>
<g fill="#ffa500">
<circle cx="716.1" cy="19.4" r="5.8"/>
<circle cx="716.1" cy="21" r="5.8"/>
<circle cx="716.1" cy="22.6" r="5.8"/>
<circle cx="716.1" cy="24.1" r="5.8"/>
<circle cx="716.1" cy="25.7" r="5.8"/>
<circle cx="716.1" cy="27.2" r="5.8"/>
<circle cx="716.1" cy="28.8" r="5.8"/>
<circle cx="716.1" cy="31.1" r="5.8"/>
<circle cx="717.5" cy="35" r="5.8"/>
<circle cx="722.4" cy="38.9" r="5.8"/>
<circle cx="764.2" cy="42.7" r="5.8"/>
<circle cx="797.7" cy="46.6" r="5.8"/>
<circle cx="831.9" cy="50.5" r="5.8"/>
<circle cx="849.3" cy="54.4" r="5.8"/>
<circle cx="863.3" cy="58.3" r="5.8"/>
<circle cx="877.2" cy="66" r="5.8"/>
<circle cx="889.1" cy="73.8" r="5.8"/>
<circle cx="896.1" cy="81.5" r="5.8"/>
<circle cx="919.1" cy="89.3" r="5.8"/>
<circle cx="932.3" cy="97.1" r="5.8"/>
<circle cx="938.6" cy="116.5" r="5.8"/>
<circle cx="935.8" cy="135.9" r="5.8"/>
<circle cx="907.2" cy="174.7" r="5.8"/>
<circle cx="866.8" cy="213.5" r="5.8"/>
<circle cx="836.8" cy="252.3" r="5.8"/>
<circle cx="827.7" cy="291.1" r="5.8"/>
<circle cx="814.5" cy="329.9" r="5.8"/>
<circle cx="800.5" cy="407.5" r="5.8"/>
<circle cx="790.7" cy="485.1" r="5.8"/>
<circle cx="785.2" cy="562.7" r="5.8"/>
<circle cx="785.2" cy="640.3" r="5.8"/>
<circle cx="788.7" cy="717.9" r="5.8"/>
<circle cx="792.8" cy="795.6" r="5.8"/>
</g>
<path d="M764.2 19.4L764.2 21L764.2 22.6L764.2 24.1L764.2 25.7L764.2 27.2L764.2 28.8L764.2 31.1L764.2 35L764.2 38.9L779.6 42.7L805.4 46.6L834 50.5L847.9 54.4L857.7 58.3L875.8 66L887.7 73.8L894.7 81.5L904.4 89.3L916.3 97.1L928.9 116.5L928.2 135.9L896.1 174.7L874.4 213.5L843.1 252.3L822.1 291.1L807.5 329.9L789.4 407.5L783.8 485.1L780.3 562.7L778.2 640.3L783.1 717.9L790.7 795.6" fill="none" stroke="#008000" stroke-width="2.7" stroke-linejoin="round"/>
<g fill="#008000">
<circle cx="764.2" cy="19.4" r="5.8"/>
<circle cx="764.2" cy="21" r="5.8"/>
<circle cx="764.2" cy="22.6" r="5.8"/>
<circle cx="764.2" cy="24.1" r="5.8"/>
<circle cx="764.2" cy="25.7" r="5.8"/>
<circle cx="764.2" cy="27.2" r="5.8"/>
<circle cx="764.2" cy="28.8" r="5.8"/>
<circle cx="764.2" cy="31.1" r="5.8"/>
<circle cx="764.2" cy="35" r="5.8"/>
<circle cx="764.2" cy="38.9" r="5.8"/>
<circle cx="779.6" cy="42.7" r="5.8"/>
<circle cx="805.4" cy="46.6" r="5.8"/>
<circle cx="834" cy="50.5" r="5.8"/>
<circle cx="847.9" cy="54.4" r="5.8"/>
<circle cx="857.7" cy="58.3" r="5.8"/>
<circle cx="875.8" cy="66" r="5.8"/>
<circle cx="887.7" cy="73.8" r="5.8"/>
<circle cx="894.7" cy="81.5" r="5.8"/>
<circle cx="904.4" cy="89.3" r="5.8"/>
<circle cx="916.3" cy="97.1" r="5.8"/>
<circle cx="928.9" cy="116.5" r="5.8"/>
<circle cx="928.2" cy="135.9" r="5.8"/>
<circle cx="896.1" cy="174.7" r="5.8"/>
<circle cx="874.4" cy="213.5" r="5.8"/>
<circle cx="843.1" cy="252.3" r="5.8"/>
<circle cx="822.1" cy="291.1" r="5.8"/>
<circle cx="807.5" cy="329.9" r="5.8"/>
<circle cx="789.4" cy="407.5" r="5.8"/>
<circle cx="783.8" cy="485.1" r="5.8"/>
<circle cx="780.3" cy="562.7" r="5.8"/>
<circle cx="778.2" cy="640.3" r="5.8"/>
<circle cx="783.1" cy="717.9" r="5.8"/>
<circle cx="790.7" cy="795.6" r="5.8"/>
</g>
<path d="M610.8 19.8L610.8 20.6L610.8 21.5L610.8 22.4L610.8 23.4L610.8 24.4L610.8 25.6L610.8 26.9L610.8 28.3L613.6 29.9L621.3 31.7L635.2 33.8L661.7 36.2L681.2 39L703.6 42.3L730.1 46.1L764.2 50.7L805.4 56.2L843.1 62.8L875.1 70.5L902.3 79.9L922.6 91.1L936.5 104.6L947 120.9L941.4 140.4L913.5 163.9L886.3 192.1L859.1 225.9L831.9 266.3L812.4 314.5L799.8 371.7L793.5 439.4L786.6 518.9L785.2 611.8L788.7 719.7" fill="none" stroke="#ff00ff" stroke-width="2.7" stroke-linejoin="round"/>
<g fill="#ff00ff">
<circle cx="610.8" cy="19.8" r="5.8"/>
<circle cx="610.8" cy="20.6" r="5.8"/>
<circle cx="610.8" cy="21.5" r="5.8"/>
<circle cx="610.8" cy="22.4" r="5.8"/>
<circle cx="610.8" cy="23.4" r="5.8"/>
<circle cx="610.8" cy="24.4" r="5.8"/>
<circle cx="610.8" cy="25.6" r="5.8"/>
<circle cx="610.8" cy="26.9" r="5.8"/>
<circle cx="610.8" cy="28.3" r="5.8"/>
<circle cx="613.6" cy="29.9" r="5.8"/>
<circle cx="621.3" cy="31.7" r="5.8"/>
<circle cx="635.2" cy="33.8" r="5.8"/>
<circle cx="661.7" cy="36.2" r="5.8"/>
<circle cx="681.2" cy="39" r="5.8"/>
<circle cx="703.6" cy="42.3" r="5.8"/>
<circle cx="730.1" cy="46.1" r="5.8"/>
<circle cx="764.2" cy="50.7" r="5.8"/>
<circle cx="805.4" cy="56.2" r="5.8"/>
<circle cx="843.1" cy="62.8" r="5.8"/>
<circle cx="875.1" cy="70.5" r="5.8"/>
<circle cx="902.3" cy="79.9" r="5.8"/>
<circle cx="922.6" cy="91.1" r="5.8"/>
<circle cx="936.5" cy="104.6" r="5.8"/>
<circle cx="947" cy="120.9" r="5.8"/>
<circle cx="941.4" cy="140.4" r="5.8"/>
<circle cx="913.5" cy="163.9" r="5.8"/>
<circle cx="886.3" cy="192.1" r="5.8"/>
<circle cx="859.1" cy="225.9" r="5.8"/>
<circle cx="831.9" cy="266.3" r="5.8"/>
<circle cx="812.4" cy="314.5" r="5.8"/>
<circle cx="799.8" cy="371.7" r="5.8"/>
<circle cx="793.5" cy="439.4" r="5.8"/>
<circle cx="786.6" cy="518.9" r="5.8"/>
<circle cx="785.2" cy="611.8" r="5.8"/>
<circle cx="788.7" cy="719.7" r="5.8"/>
</g>
</g>
<rect x="594.4" y="19.4" width="381" height="783.9" fill="none" stroke="#000" stroke-width="1.5"/>
<g stroke="#000" stroke-width="1.5">
<path d="M664.5 803.4v6"/>
<path d="M734.2 803.4v6"/>
<path d="M804 803.4v6"/>
<path d="M873.8 803.4v6"/>
<path d="M943.5 803.4v6"/>
<path d="M594.4 19.4h-6"/>
<path d="M594.4 97.1h-6"/>
<path d="M594.4 174.7h-6"/>
<path d="M594.4 252.3h-6"/>
<path d="M594.4 329.9h-6"/>
<path d="M594.4 407.5h-6"/>
<path d="M594.4 485.1h-6"/>
<path d="M594.4 562.7h-6"/>
<path d="M594.4 640.3h-6"/>
<path d="M594.4 717.9h-6"/>
<path d="M594.4 795.6h-6"/>
</g>
</g>
<g id="ax2">
<g stroke="#a9a9a9" stroke-width="0.85" stroke-dasharray="3 1.6" fill="none">
<path d="M1100.3 803.4V19.4"/>
<path d="M1158.9 803.4V19.4"/>
<path d="M1217.4 803.4V19.4"/>
<path d="M1276 803.4V19.4"/>
<path d="M1334.5 803.4V19.4"/>
<path d="M1393.1 803.4V19.4"/>
<path d="M1451.7 803.4V19.4"/>
<path d="M1089.5 19.4H1471.6"/>
<path d="M1089.5 97.1H1471.6"/>
<path d="M1089.5 174.7H1471.6"/>
<path d="M1089.5 252.3H1471.6"/>
<path d="M1089.5 329.9H1471.6"/>
<path d="M1089.5 407.5H1471.6"/>
<path d="M1089.5 485.1H1471.6"/>
<path d="M1089.5 562.7H1471.6"/>
<path d="M1089.5 640.3H1471.6"/>
<path d="M1089.5 717.9H1471.6"/>
<path d="M1089.5 795.6H1471.6"/>
</g>
<g clip-path="url(#clip2)">
<path d="M1109.5 20.8L1110.1 22.4 1110.3 23.9 1110 25.5 1109.4 27M1113.7 28.6h0M1120 30.1h0M1132 31.7L1134 33.2M1146.2 34.8L1143.3 36.3M1151.3 37.9h0M1145.2 39.4h0M1152.9 41h0M1165.1 42.6h0M1169.5 44.1h0M1175.1 45.7L1174.1 47.2 1176.3 48.8M1181.8 50.3h0M1190.2 51.9L1193 53.4 1193.1 55 1193.2 56.5 1192.9 58.1 1193.8 59.6 1193.5 61.2M1198.7 62.7L1199.7 64.3M1204 65.8L1206.1 67.4M1210.3 68.9L1214 70.5 1215.8 72 1217.7 73.6 1218.1 75.1 1220.5 76.7 1222.1 78.3 1224.7 79.8 1226.9 81.4 1230.3 82.9 1230.5 84.5 1232.3 86 1230.3 87.6 1233.4 89.1 1233.8 90.7M1238.5 92.2L1240.3 93.8 1243.6 95.3 1244.8 96.9 1248.3 98.4 1250.3 100 1252.2 101.5 1255 103.1M1259.7 104.6L1263.4 106.2 1264.7 107.7 1265.3 109.3 1267.3 110.8 1269.1 112.4 1269.5 114 1271.3 115.5 1274.2 117.1 1276.5 118.6 1278.2 120.2 1279.3 121.7 1280.3 123.3 1280.9 124.8 1280.6 126.4 1284.2 127.9 1284.9 129.5 1285.9 131 1286.3 132.6 1286.8 134.1 1287.7 135.7 1288.7 137.2 1291.4 138.8 1292.9 140.3 1295 141.9 1294.8 143.4 1294.9 145 1295.3 146.5 1296.4 148.1 1296.5 149.7 1297.6 151.2 1298.5 152.8 1300.4 154.3 1301.2 155.9 1301.3 157.4 1302.4 159 1303.6 160.5 1305.4 162.1 1305.4 163.6 1306.7 165.2 1305.2 166.7 1305.7 168.3 1306.2 169.8 1306.9 171.4 1307.2 172.9 1307.6 174.5 1308.5 176 1309.3 177.6 1309.9 179.1 1310.4 180.7 1310.7 182.3 1311 183.8 1311.3 185.4 1311.7 186.9 1311.9 188.5 1312.5 190 1313 191.6 1313.5 193.1 1313.5 194.7 1313.7 196.2 1313.6 197.8 1314.2 199.3 1314.6 200.9 1315.7 202.4 1316.5 204 1316.6 205.5 1317.3 207.1 1317.6 208.6 1318.2 210.2 1319.1 211.7 1319.9 213.3 1320.1 214.8 1321.7 216.4 1321.5 218 1321 219.5 1321.7 221.1 1321.6 222.6 1321.7 224.2 1322.4 225.7 1322.7 227.3 1323.4 228.8 1324.2 230.4 1324.2 231.9 1324.7 233.5 1325 235 1325.6 236.6 1326.6 238.1 1326.8 239.7 1327.4 241.2 1327.6 242.8 1327.8 244.3 1327.9 245.9 1329.1 247.4 1330.7 249 1332.4 250.5 1332.9 252.1 1334 253.7 1334.6 255.2 1335.6 256.8 1335.9 258.3 1336.4 259.9 1337.4 261.4 1337.6 263 1338.4 264.5 1338.8 266.1 1338.8 267.6 1339.3 269.2 1340.2 270.7 1341.1 272.3 1341.2 273.8 1341.8 275.4 1341.2 276.9 1341.6 278.5 1342.2 280 1342.9 281.6 1343.3 283.1 1343.7 284.7 1344.2 286.2 1344.3 287.8 1345 289.4 1345.7 290.9 1345.7 292.5 1345.6 294 1345.9 295.6 1346.3 297.1 1346.7 298.7 1347.1 300.2 1347.7 301.8 1348 303.3 1348.4 304.9 1348.3 306.4 1348.6 308 1348.9 309.5 1349.4 311.1 1349.8 312.6 1350.1 314.2 1350.5 315.7 1350.8 317.3 1351.2 318.8 1351.6 320.4 1352 321.9 1352.5 323.5 1353.1 325.1 1353.4 326.6 1353.8 328.2 1354 329.7 1354.3 331.3 1354.6 332.8 1355 334.4 1355.6 335.9 1356.2 337.5 1356.7 339 1357.3 340.6 1357.8 342.1 1358.1 343.7 1358.1 345.2 1358.7 346.8 1359.5 348.3 1360 349.9 1360.4 351.4 1360.6 353 1361 354.5 1361.3 356.1 1362.1 357.6 1362.7 359.2 1363.5 360.8 1363.9 362.3 1364.4 363.9 1364.7 365.4 1365.2 367 1365.4 368.5 1365.8 370.1 1366.4 371.6 1366.6 373.2 1367.2 374.7 1367.5 376.3 1367.6 377.8 1368.2 379.4 1368.9 380.9 1369.2 382.5 1369.5 384 1369.9 385.6 1369.7 387.1 1370.2 388.7 1370.6 390.2 1371 391.8 1371.1 393.3 1371.7 394.9 1372.1 396.5 1372.4 398 1372.8 399.6 1373 401.1 1373 402.7 1373.3 404.2 1373.7 405.8 1374 407.3 1374.3 408.9 1374.9 410.4 1375.5 412 1375.4 413.5 1375.8 415.1 1375.9 416.6 1376.2 418.2 1376.7 419.7 1376.7 421.3 1376.9 422.8 1377.5 424.4 1377.9 425.9 1378.5 427.5 1378.6 429.1 1378.9 430.6 1379.7 432.2 1380.1 433.7 1380.6 435.3 1380.7 436.8 1381 438.4 1381.7 439.9 1381.3 441.5 1382 443 1382.2 444.6 1382.7 446.1 1383.1 447.7 1383.6 449.2 1384 450.8 1384.1 452.3 1384.6 453.9 1385 455.4 1385.4 457 1385.9 458.5 1386.1 460.1 1386.5 461.6 1387 463.2 1387.1 464.8 1387.5 466.3 1388.2 467.9 1388.5 469.4 1388.9 471 1389.2 472.5 1389.5 474.1 1390.2 475.6 1390.5 477.2 1390.7 478.7 1390.8 480.3 1391.3 481.8 1391.7 483.4 1392.3 484.9 1392.3 486.5 1392.6 488 1392.7 489.6 1392.9 491.1 1393.7 492.7 1394.1 494.2 1394 495.8 1394.4 497.3 1394.8 498.9 1394.7 500.5 1394.9 502 1395.2 503.6 1395.6 505.1 1396 506.7 1396.4 508.2 1396.8 509.8 1397.1 511.3 1397.5 512.9 1397.7 514.4 1398.1 516 1398.4 517.5 1398.8 519.1 1399.2 520.6 1399.6 522.2 1399.8 523.7 1400.1 525.3 1400.2 526.8 1400.6 528.4 1400.9 529.9 1401.4 531.5 1401.7 533 1402 534.6 1402.3 536.2 1402.8 537.7 1403 539.3 1403.4 540.8 1403.7 542.4 1404.2 543.9 1404.7 545.5 1404.9 547 1405.2 548.6 1405.5 550.1 1405.8 551.7 1406 553.2 1406.4 554.8 1406.8 556.3 1407.1 557.9 1407.5 559.4 1408 561 1408.2 562.5 1408.4 564.1 1408.6 565.6 1409.1 567.2 1409.5 568.7 1409.8 570.3 1410.1 571.9 1410.3 573.4 1410.6 575 1411 576.5 1411.4 578.1 1411.8 579.6 1412.2 581.2 1412.5 582.7 1412.8 584.3 1413.1 585.8 1413.4 587.4 1413.7 588.9 1414 590.5 1414.3 592 1414.8 593.6 1415.1 595.1 1415.4 596.7 1415.7 598.2 1416.1 599.8 1416.6 601.3 1416.9 602.9 1417.2 604.4 1417.3 606 1417.6 607.6 1418 609.1 1418.4 610.7 1418.7 612.2 1419.1 613.8 1419.3 615.3 1419.7 616.9 1420.2 618.4 1420.4 620 1420.9 621.5 1421.3 623.1 1421.7 624.6 1422 626.2 1422.6 627.7 1422.9 629.3 1423.2 630.8 1423.7 632.4 1424 633.9 1424.3 635.5 1424.8 637 1425 638.6 1425.2 640.1 1425.8 641.7 1426 643.3 1426.2 644.8 1426.4 646.4 1426.8 647.9 1427.3 649.5 1427.6 651 1427.8 652.6 1428 654.1 1428.4 655.7 1428.5 657.2 1428.7 658.8 1429.1 660.3 1429.5 661.9 1429.7 663.4 1430.1 665 1430.3 666.5 1430.9 668.1 1431.3 669.6 1431.4 671.2 1431.6 672.7 1431.9 674.3 1432.2 675.9 1432.6 677.4 1432.8 679 1432.9 680.5 1433.4 682.1 1433.5 683.6 1433.8 685.2 1434.2 686.7 1434.5 688.3 1434.9 689.8 1435.3 691.4 1435.5 692.9 1435.8 694.5 1436.1 696 1436.4 697.6 1436.7 699.1 1437 700.7 1437.5 702.2 1437.7 703.8 1438 705.3 1438.3 706.9 1438.7 708.4 1439 710 1439.5 711.6 1439.9 713.1 1440.4 714.7 1440.4 716.2 1440.7 717.8 1441.2 719.3 1441.5 720.9 1441.9 722.4 1442.3 724 1442.4 725.5 1443 727.1 1443.4 728.6 1443.7 730.2 1443.9 731.7 1444.2 733.3 1444.4 734.8 1444.8 736.4 1445.3 737.9 1445.8 739.5 1446 741 1446.5 742.6 1446.7 744.1 1446.8 745.7 1447.1 747.3 1447.7 748.8 1447.9 750.4 1448.5 751.9 1448.8 753.5 1448.9 755 1449.4 756.6 1449.7 758.1 1450.3 759.7 1450.5 761.2 1450.4 762.8 1451 764.3 1451.3 765.9 1451.5 767.4 1451.8 769 1452.2 770.5 1452.5 772.1 1452.8 773.6 1453.1 775.2 1453.5 776.7 1453.8 778.3 1454.2 779.8 1454.5 781.4 1454.8 783 1455.2 784.5 1455.5 786.1 1455.9 787.6" fill="none" stroke="#00ffff" stroke-width="7" stroke-linecap="round" stroke-linejoin="round"/>
<path d="M1110.6 20.7L1113.7 22.3 1115.9 23.8 1114.3 25.4 1115.7 26.9 1115.2 28.5M1121.1 30L1122.9 31.6M1131.7 33.1h0M1146.2 34.7h0M1153.2 36.2h0M1159 37.8L1160.4 39.3M1172.6 40.9L1174.6 42.4 1176.9 44 1179.1 45.5M1185.3 47.1L1188.6 48.7 1185 50.2 1186.7 51.8 1188.4 53.3 1192 54.9 1192.2 56.4 1193.8 58 1197.2 59.5M1204 61.1L1206.7 62.6 1208.4 64.2 1208.7 65.7 1205.7 67.3 1209.2 68.8M1213.3 70.4h0M1219.6 71.9L1221.3 73.5 1221.7 75 1222.5 76.6 1224.7 78.1 1227 79.7 1227.5 81.2 1227.1 82.8 1230.5 84.4 1233.2 85.9 1236.3 87.5 1238.8 89 1240.9 90.6 1241.9 92.1 1242.8 93.7 1246 95.2M1251.5 96.8L1253.1 98.3 1255 99.9 1256.9 101.4M1260.8 103L1260.9 104.5 1261.4 106.1 1264.5 107.6 1266.2 109.2 1268.2 110.7 1269 112.3 1269.5 113.8 1273.1 115.4 1274.8 117 1276.5 118.5 1276.8 120.1 1279.4 121.6 1282.4 123.2 1282.2 124.7 1282.8 126.3 1283.9 127.8 1285.5 129.4 1288 130.9 1288.8 132.5 1289.9 134 1290.4 135.6 1291.2 137.1 1292.1 138.7 1293.2 140.2 1295.2 141.8 1296.1 143.3 1297.2 144.9 1297.9 146.4 1298.4 148 1299.5 149.5 1300.8 151.1 1301.3 152.7 1302.1 154.2 1303.1 155.8 1304.3 157.3 1305.1 158.9 1305.3 160.4 1305.6 162 1305.8 163.5 1305.5 165.1 1305.6 166.6 1305.9 168.2 1307.1 169.7 1307.6 171.3 1309.7 172.8 1309.8 174.4 1310.2 175.9 1310 177.5 1311.7 179 1311.7 180.6 1313.1 182.1 1313.6 183.7 1313.9 185.2 1314.3 186.8 1314.3 188.4 1315.2 189.9 1315.1 191.5 1315.1 193 1315.3 194.6 1315.6 196.1 1316.7 197.7 1317.7 199.2 1317.6 200.8 1317.7 202.3 1318 203.9 1318.4 205.4 1318.9 207 1318.7 208.5 1319.9 210.1 1320 211.6 1321.6 213.2 1320.7 214.7 1321.2 216.3 1322.1 217.8 1322.2 219.4 1322.8 220.9 1322.9 222.5 1323.3 224.1 1324.7 225.6 1325.3 227.2 1325.2 228.7 1326.2 230.3 1326.8 231.8 1328.2 233.4 1327.5 234.9 1327.8 236.5 1328.2 238 1328.4 239.6 1329.1 241.1 1329.4 242.7 1329.4 244.2 1329.8 245.8 1329.6 247.3 1331.4 248.9 1332 250.4 1332.4 252 1333.4 253.5 1334.3 255.1 1334.9 256.6 1335 258.2 1335.6 259.8 1336.2 261.3 1336.5 262.9 1337.1 264.4 1337.2 266 1337.8 267.5 1338.5 269.1 1338.7 270.6 1338.9 272.2 1339.5 273.7 1339.8 275.3 1340.3 276.8 1340.5 278.4 1342 279.9 1342 281.5 1342.5 283 1342.9 284.6 1343.2 286.1 1343.3 287.7 1344 289.2 1344.7 290.8 1345.5 292.3 1345.7 293.9 1346.1 295.5 1346.3 297 1346.7 298.6 1347.1 300.1 1347.3 301.7 1347.7 303.2 1348 304.8 1348.4 306.3 1349 307.9 1349.5 309.4 1350 311 1350 312.5 1350.3 314.1 1351.1 315.6 1351.7 317.2 1352.3 318.7 1352.8 320.3 1353.2 321.8 1353.3 323.4 1353.9 324.9 1353.9 326.5 1354.6 328 1354.8 329.6 1355 331.2 1355.8 332.7 1355.9 334.3 1357.2 335.8 1357.3 337.4 1357.6 338.9 1358.3 340.5 1358.8 342 1359.2 343.6 1359.4 345.1 1359.8 346.7 1360.1 348.2 1360.9 349.8 1361.3 351.3 1361.6 352.9 1361.8 354.4 1362.4 356 1362.2 357.5 1363 359.1 1363.2 360.6 1363.9 362.2 1364.2 363.7 1364.8 365.3 1365.2 366.9 1365.5 368.4 1366.2 370 1366.6 371.5 1366.8 373.1 1367.2 374.6 1367.5 376.2 1367.9 377.7 1367.9 379.3 1368.2 380.8 1368.7 382.4 1368.7 383.9 1368.9 385.5 1369.3 387 1369.8 388.6 1370.4 390.1 1370.7 391.7 1371.3 393.2 1371.3 394.8 1371.5 396.3 1372.2 397.9 1372.8 399.5 1373.3 401 1373.8 402.6 1374 404.1 1374.2 405.7 1374.6 407.2 1374.9 408.8 1375.4 410.3 1375.6 411.9 1375.7 413.4 1376.1 415 1376.4 416.5 1377.3 418.1 1377.3 419.6 1377.3 421.2 1377.8 422.7 1378.2 424.3 1378.9 425.8 1379.3 427.4 1379.3 428.9 1380 430.5 1379.8 432 1380.6 433.6 1380.6 435.2 1380.9 436.7 1381.4 438.3 1381.7 439.8 1382.3 441.4 1382.2 442.9 1382.7 444.5 1383.5 446 1384 447.6 1383.9 449.1 1384.2 450.7 1384.8 452.2 1385.2 453.8 1385.4 455.3 1385.8 456.9 1386.1 458.4 1386.4 460 1386.8 461.5 1387.3 463.1 1387.2 464.6 1387.8 466.2 1388 467.7 1388.3 469.3 1388.6 470.9 1388.7 472.4 1389.2 474 1389.3 475.5 1390.1 477.1 1390.2 478.6 1390.9 480.2 1391.2 481.7 1391.6 483.3 1391.9 484.8 1392.1 486.4 1392.3 487.9 1392.7 489.5 1392.9 491 1393 492.6 1393.5 494.1 1394 495.7 1394.2 497.2 1394.5 498.8 1395.2 500.3 1395.2 501.9 1395.8 503.4 1396.3 505 1396.7 506.6 1396.9 508.1 1397.2 509.7 1397.9 511.2 1398 512.8 1398.4 514.3 1398.8 515.9 1399.3 517.4 1399.7 519 1399.9 520.5 1400.5 522.1 1400.8 523.6 1400.9 525.2 1401.7 526.7 1401.8 528.3 1402.1 529.8 1402.3 531.4 1402.6 532.9 1403 534.5 1403.7 536 1403.6 537.6 1403.8 539.1 1404.1 540.7 1404.6 542.3 1404.7 543.8 1405 545.4 1405.5 546.9 1405.8 548.5 1405.8 550 1406.3 551.6 1406.5 553.1 1406.8 554.7 1407.1 556.2 1407.4 557.8 1407.9 559.3 1408.4 560.9 1408.9 562.4 1409.2 564 1409.5 565.5 1409.8 567.1 1410.2 568.6 1411 570.2 1411.4 571.7 1411.5 573.3 1411.7 574.8 1412 576.4 1412.3 578 1412.6 579.5 1413.1 581.1 1413.2 582.6 1413.5 584.2 1413.7 585.7 1414.2 587.3 1414.4 588.8 1414.9 590.4 1415.2 591.9 1415.6 593.5 1415.9 595 1416.1 596.6 1416.6 598.1 1417 599.7 1416.8 601.2 1417.4 602.8 1417.6 604.3 1417.8 605.9 1418.2 607.4 1418.8 609 1418.9 610.5 1419.4 612.1 1419.8 613.7 1420.2 615.2 1420.8 616.8 1421.1 618.3 1421.4 619.9 1421.9 621.4 1422 623 1422.4 624.5 1422.4 626.1 1422.5 627.6 1422.8 629.2 1423.4 630.7 1423.7 632.3 1424 633.8 1424.2 635.4 1424.3 636.9 1424.9 638.5 1425.3 640 1425.5 641.6 1426 643.1 1426.2 644.7 1426.7 646.3 1426.9 647.8 1427.2 649.4 1427.5 650.9 1428 652.5 1428.1 654 1428.4 655.6 1428.8 657.1 1429.1 658.7 1429.7 660.2 1429.8 661.8 1430.1 663.3 1430.5 664.9 1430.9 666.4 1431.1 668 1431.5 669.5 1431.7 671.1 1432 672.6 1432.2 674.2 1432.5 675.7 1432.9 677.3 1432.9 678.8 1433.3 680.4 1433.8 682 1433.8 683.5 1434.1 685.1 1434.3 686.6 1434.7 688.2 1435 689.7 1435.6 691.3 1435.8 692.8 1436.2 694.4 1436.4 695.9 1436.8 697.5 1437.3 699 1437.9 700.6 1438 702.1 1438.5 703.7 1439 705.2 1439.2 706.8 1439.4 708.3 1439.7 709.9 1440 711.4 1440.2 713 1440.6 714.5 1440.9 716.1 1441.3 717.7 1441.5 719.2 1442.1 720.8 1442.4 722.3 1442.6 723.9 1443.2 725.4 1443.4 727 1443.6 728.5 1444 730.1 1444.3 731.6 1444.5 733.2 1444.8 734.7 1445.2 736.3 1445.6 737.8 1445.8 739.4 1446.3 740.9 1446.6 742.5 1446.8 744 1447.4 745.6 1448.1 747.1 1448.3 748.7 1448.6 750.2 1449.1 751.8 1449.4 753.4 1449.9 754.9 1450.2 756.5 1450.5 758 1450.4 759.6 1451.2 761.1 1451.2 762.7 1451.8 764.2 1451.9 765.8 1452.1 767.3 1452.3 768.9 1452.5 770.4 1453.1 772 1453.3 773.5 1453.7 775.1 1454 776.6 1454.2 778.2 1454.6 779.7 1454.7 781.3 1455.1 782.8 1455.3 784.4 1455.7 785.9 1456.2 787.5" fill="none" stroke="#00ffff" stroke-width="7" stroke-linecap="round" stroke-linejoin="round"/>
<path d="M1112.9 20.3L1113.1 21.8 1113.5 23.4M1118.9 24.9h0M1124.5 26.5h0M1129.4 28h0M1136.2 29.6h0M1130.2 31.1h0M1138.5 32.7L1141.2 34.2M1153.6 35.8h0M1164.5 37.3h0M1172.3 38.9L1172.8 40.4 1173 42 1173.3 43.5 1175.4 45.1 1176.2 46.7 1178 48.2M1185.2 49.8h0M1189.2 51.3h0M1196.1 52.9L1198.1 54.4 1200.2 56 1198.9 57.5 1200.6 59.1 1201 60.6 1203.9 62.2 1205.2 63.7M1211 65.3L1211.1 66.8 1214.9 68.4 1217.6 69.9 1221.4 71.5 1224.8 73 1226.3 74.6 1225.7 76.1 1226.2 77.7 1228.6 79.2 1230.7 80.8 1233.3 82.4 1233.3 83.9M1237.3 85.5L1240.3 87 1242.6 88.6 1244.7 90.1 1245.2 91.7M1250.2 93.2L1253.1 94.8 1256.4 96.3 1258.1 97.9 1259.3 99.4 1259.4 101 1260.1 102.5 1263 104.1 1264.8 105.6 1266.2 107.2 1269.6 108.7 1271.9 110.3 1273.1 111.8 1273.7 113.4 1274.2 114.9 1276.9 116.5 1279.2 118.1 1282.1 119.6 1283.3 121.2 1284.1 122.7 1284.2 124.3 1286.2 125.8 1285.9 127.4 1286.8 128.9 1287.7 130.5 1289.3 132 1291.1 133.6 1292.3 135.1 1294.1 136.7 1294.1 138.2 1295.2 139.8 1295.8 141.3 1296.7 142.9 1296.9 144.4 1298.7 146 1300.1 147.5 1301.6 149.1 1302.6 150.6 1303.5 152.2 1303.2 153.8 1303.4 155.3 1304.6 156.9 1304.7 158.4 1307.3 160 1307.3 161.5 1308.7 163.1 1309.4 164.6 1309.9 166.2 1310.5 167.7 1310.6 169.3 1311 170.8 1312.1 172.4 1312.2 173.9 1313.6 175.5 1313.2 177 1313.9 178.6 1314.6 180.1 1315 181.7 1315.1 183.2 1315.3 184.8 1315.5 186.3 1316.1 187.9 1316.4 189.5 1316.3 191 1317 192.6 1316.4 194.1 1316.7 195.7 1317.4 197.2 1317.5 198.8 1318.5 200.3 1318.1 201.9 1318.6 203.4 1319 205 1319 206.5 1319.1 208.1 1319.5 209.6 1320 211.2 1320.1 212.7 1320.7 214.3 1320.9 215.8 1321.6 217.4 1321.4 218.9 1322.4 220.5 1323 222.1 1323.2 223.6 1323.5 225.2 1324.7 226.7 1325.4 228.3 1326.2 229.8 1326.1 231.4 1326.1 232.9 1325.8 234.5 1326.5 236 1326.8 237.6 1327.9 239.1 1328.5 240.7 1329.8 242.2 1330.2 243.8 1331.1 245.3 1331.4 246.9 1332.7 248.4 1333.4 250 1334.2 251.5 1334.7 253.1 1335.8 254.6 1335.8 256.2 1336.1 257.8 1336.8 259.3 1337.2 260.9 1337.4 262.4 1337.7 264 1338.7 265.5 1339.3 267.1 1340 268.6 1340.6 270.2 1340.7 271.7 1341.7 273.3 1341.6 274.8 1342.1 276.4 1342.8 277.9 1343.1 279.5 1344 281 1343.7 282.6 1344.4 284.1 1345 285.7 1345.4 287.2 1345.8 288.8 1346.6 290.3 1347.2 291.9 1347.3 293.5 1347.4 295 1347.8 296.6 1348 298.1 1348.5 299.7 1348.5 301.2 1348.6 302.8 1349.2 304.3 1349.7 305.9 1350.1 307.4 1350.6 309 1350.8 310.5 1350.8 312.1 1351.3 313.6 1351.6 315.2 1352.3 316.7 1352.3 318.3 1352.7 319.8 1353 321.4 1352.9 322.9 1353.1 324.5 1353.8 326 1354.6 327.6 1354.9 329.2 1355.4 330.7 1355.6 332.3 1356 333.8 1356.8 335.4 1357.5 336.9 1357.8 338.5 1358 340 1358.2 341.6 1359.1 343.1 1359.5 344.7 1359.9 346.2 1360.5 347.8 1360.7 349.3 1361.4 350.9 1361.8 352.4 1362.8 354 1363.4 355.5 1363.8 357.1 1363.9 358.6 1364.3 360.2 1365 361.7 1365.2 363.3 1365.6 364.9 1365.8 366.4 1366.5 368 1367 369.5 1367.3 371.1 1367.6 372.6 1367.8 374.2 1368.2 375.7 1368.2 377.3 1368.6 378.8 1368.8 380.4 1369.4 381.9 1370 383.5 1370 385 1370.6 386.6 1370.7 388.1 1371.1 389.7 1371.6 391.2 1371.9 392.8 1372.3 394.3 1372.4 395.9 1373.2 397.4 1373.4 399 1373.7 400.6 1374.3 402.1 1374.8 403.7 1374.8 405.2 1375.1 406.8 1375.7 408.3 1376 409.9 1376.5 411.4 1376.4 413 1376.8 414.5 1377.2 416.1 1377.9 417.6 1377.9 419.2 1378.4 420.7 1378.2 422.3 1378.7 423.8 1379 425.4 1379.4 426.9 1379.6 428.5 1379.8 430 1380.5 431.6 1380.7 433.1 1381 434.7 1381.4 436.3 1381.9 437.8 1382.1 439.4 1382.3 440.9 1382.7 442.5 1383.3 444 1383.8 445.6 1384.3 447.1 1384.4 448.7 1384.9 450.2 1385.2 451.8 1385.3 453.3 1385.9 454.9 1386.1 456.4 1386.3 458 1386.9 459.5 1387.2 461.1 1387.6 462.6 1387.8 464.2 1388.3 465.7 1388.9 467.3 1389 468.9 1388.9 470.4 1389.5 472 1389.7 473.5 1390.4 475.1 1390.9 476.6 1391.4 478.2 1391.9 479.7 1391.7 481.3 1391.9 482.8 1391.9 484.4 1392.4 485.9 1392.4 487.5 1393.2 489 1393.6 490.6 1394.1 492.1 1394.4 493.7 1394.6 495.2 1394.9 496.8 1395.4 498.3 1395.6 499.9 1396 501.4 1396.4 503 1396.8 504.6 1397 506.1 1397.7 507.7 1398.3 509.2 1398.4 510.8 1398.8 512.3 1399.1 513.9 1399.2 515.4 1399.7 517 1400.1 518.5 1400.3 520.1 1400.4 521.6 1400.7 523.2 1401.1 524.7 1401.7 526.3 1402 527.8 1402.4 529.4 1402.3 530.9 1403.1 532.5 1403.3 534 1403.6 535.6 1404.1 537.1 1404.2 538.7 1404.5 540.3 1404.7 541.8 1404.7 543.4 1405.4 544.9 1405.8 546.5 1406.1 548 1406.4 549.6 1406.8 551.1 1407.4 552.7 1407.7 554.2 1408.3 555.8 1408.3 557.3 1408.9 558.9 1409.3 560.4 1409.5 562 1409.7 563.5 1410.1 565.1 1410.3 566.6 1410.6 568.2 1410.9 569.7 1411.7 571.3 1411.7 572.8 1412 574.4 1412.4 576 1412.8 577.5 1413 579.1 1413.2 580.6 1413.4 582.2 1414 583.7 1414.4 585.3 1414.7 586.8 1415.1 588.4 1415.4 589.9 1415.3 591.5 1415.8 593 1415.8 594.6 1416.3 596.1 1416.6 597.7 1416.9 599.2 1417.4 600.8 1417.6 602.3 1417.9 603.9 1418.4 605.4 1418.3 607 1418.8 608.5 1419.1 610.1 1419.5 611.7 1419.7 613.2 1420 614.8 1420.1 616.3 1420.3 617.9 1420.9 619.4 1421.3 621 1421.5 622.5 1422.1 624.1 1422.4 625.6 1422.6 627.2 1423 628.7 1423.3 630.3 1423.7 631.8 1423.9 633.4 1424.2 634.9 1424.5 636.5 1424.9 638 1425.1 639.6 1425.5 641.1 1425.9 642.7 1426.1 644.2 1426.6 645.8 1426.8 647.4 1427 648.9 1427.4 650.5 1427.9 652 1428.4 653.6 1428.7 655.1 1429.1 656.7 1429.2 658.2 1429.7 659.8 1429.9 661.3 1430.2 662.9 1430.8 664.4 1431 666 1431.4 667.5 1431.7 669.1 1432.1 670.6 1432.2 672.2 1432.6 673.7 1433 675.3 1433.2 676.8 1433.4 678.4 1433.9 679.9 1434.2 681.5 1434.5 683.1 1434.6 684.6 1434.8 686.2 1435.3 687.7 1435.6 689.3 1436 690.8 1436.3 692.4 1436.7 693.9 1436.8 695.5 1437.2 697 1437.3 698.6 1437.7 700.1 1438.5 701.7 1438.6 703.2 1438.8 704.8 1439.1 706.3 1439.3 707.9 1439.9 709.4 1440.1 711 1440.6 712.5 1440.9 714.1 1441.4 715.6 1441.7 717.2 1442.1 718.8 1442.4 720.3 1442.8 721.9 1442.9 723.4 1443.5 725 1443.7 726.5 1444 728.1 1444.6 729.6 1445.2 731.2 1445.5 732.7 1445.6 734.3 1445.9 735.8 1446.2 737.4 1446.6 738.9 1446.9 740.5 1447.1 742 1447.5 743.6 1447.9 745.1 1448.1 746.7 1448.8 748.2 1448.9 749.8 1449.2 751.4 1449.3 752.9 1449.8 754.5 1450.2 756 1450.5 757.6 1450.9 759.1 1451 760.7 1451.3 762.2 1451.6 763.8 1451.9 765.3 1452.3 766.9 1452.4 768.4 1452.7 770 1453.1 771.5 1453.6 773.1 1453.9 774.6 1454.3 776.2 1454.8 777.7 1454.9 779.3 1455.2 780.8 1455.6 782.4 1456 783.9 1456.5 785.5 1456.7 787.1" fill="none" stroke="#00ffff" stroke-width="7" stroke-linecap="round" stroke-linejoin="round"/>
<path d="M1115.9 21.1h0M1120 22.7L1122 24.2 1124.3 25.8 1121.6 27.3 1123.1 28.9M1132.5 30.4h0M1145.9 32h0M1158.7 33.5L1155.7 35.1 1158.8 36.6 1161 38.2M1169.6 39.7h0M1174.4 41.3h0M1179.1 42.8h0M1184.4 44.4L1188 45.9 1186.3 47.5M1192.6 49L1191.6 50.6M1196.6 52.1L1195.5 53.7 1199.1 55.2 1201 56.8 1204.4 58.4 1205.7 59.9 1208.3 61.5 1209.4 63M1215.2 64.6L1217.1 66.1 1218.7 67.7 1216 69.2 1217.4 70.8 1220.8 72.3M1224.9 73.9L1227.7 75.4 1229.3 77 1229.8 78.5 1229.9 80.1 1232.1 81.6 1234.8 83.2 1237.6 84.7 1240.1 86.3 1241.4 87.8 1245.2 89.4 1246.7 91 1249.3 92.5 1251.6 94.1 1253.2 95.6 1256 97.2 1257.1 98.7M1262.8 100.3L1263.1 101.8 1266 103.4 1265.7 104.9 1267.8 106.5 1269.7 108 1271.2 109.6 1273.9 111.1 1274.2 112.7 1277.3 114.2 1278.8 115.8 1282.2 117.3 1281.5 118.9 1282.5 120.4 1284.1 122 1286.8 123.5 1286.7 125.1 1289.5 126.7 1290.5 128.2 1290.3 129.8 1292.3 131.3 1293.9 132.9 1293.1 134.4 1294.2 136 1294.6 137.5 1295.3 139.1 1296.4 140.6 1298.6 142.2 1299.8 143.7 1300.6 145.3 1299.8 146.8 1300.1 148.4 1300.6 149.9 1302.2 151.5 1303 153 1304.9 154.6 1304.9 156.1 1305 157.7 1305.4 159.2 1305.6 160.8 1306.6 162.4 1307.2 163.9 1307.2 165.5 1308.3 167 1309.1 168.6 1309.9 170.1 1310.3 171.7 1311.1 173.2 1312.3 174.8 1312.2 176.3 1312.1 177.9 1313 179.4 1313 181 1313.6 182.5 1314.6 184.1 1315.5 185.6 1316.1 187.2 1317 188.7 1317.2 190.3 1316.9 191.8 1316.8 193.4 1318.5 194.9 1318.3 196.5 1318.9 198.1 1319.3 199.6 1320 201.2 1320.2 202.7 1320.3 204.3 1321 205.8 1321.1 207.4 1322.2 208.9 1322.9 210.5 1323.6 212 1323.3 213.6 1323.4 215.1 1323.8 216.7 1324.1 218.2 1324.5 219.8 1324.8 221.3 1325 222.9 1325.3 224.4 1325.5 226 1326.3 227.5 1326.4 229.1 1327.1 230.6 1327.9 232.2 1328.3 233.8 1328.6 235.3 1329 236.9 1329.4 238.4 1329.5 240 1329.9 241.5 1330 243.1 1330.4 244.6 1331.3 246.2 1331.9 247.7 1333.2 249.3 1334 250.8 1335.6 252.4 1335.9 253.9 1336.5 255.5 1336.4 257 1336.9 258.6 1337.5 260.1 1338.3 261.7 1338.4 263.2 1339.2 264.8 1339.1 266.3 1339.5 267.9 1340 269.5 1340.1 271 1340.7 272.6 1341.6 274.1 1342.2 275.7 1342.7 277.2 1343.1 278.8 1343.8 280.3 1343.8 281.9 1345 283.4 1345.4 285 1345.8 286.5 1346 288.1 1346.2 289.6 1346.7 291.2 1347 292.7 1347.8 294.3 1348.3 295.8 1348.8 297.4 1349.1 298.9 1349.2 300.5 1349.6 302 1350.1 303.6 1350.9 305.2 1351.1 306.7 1350.9 308.3 1351.7 309.8 1351.8 311.4 1352.2 312.9 1352.4 314.5 1352.9 316 1353.1 317.6 1353.5 319.1 1354.2 320.7 1354.3 322.2 1354.6 323.8 1354.9 325.3 1355.4 326.9 1355.1 328.4 1356.3 330 1356.6 331.5 1357 333.1 1357.3 334.6 1358.5 336.2 1358.3 337.7 1359 339.3 1359.2 340.9 1360.1 342.4 1360.4 344 1360.8 345.5 1361.3 347.1 1362 348.6 1362.2 350.2 1363.2 351.7 1363.3 353.3 1364 354.8 1364.2 356.4 1364.7 357.9 1365.6 359.5 1366 361 1366.7 362.6 1367 364.1 1367.2 365.7 1367.5 367.2 1367.6 368.8 1368 370.3 1368.6 371.9 1368.7 373.5 1368.8 375 1368.8 376.6 1369.1 378.1 1369.4 379.7 1369.6 381.2 1369.7 382.8 1370.4 384.3 1370.6 385.9 1371 387.4 1371.2 389 1371.5 390.5 1371.4 392.1 1372.1 393.6 1372.5 395.2 1373.1 396.7 1373.1 398.3 1373.3 399.8 1373.9 401.4 1374.3 402.9 1374.6 404.5 1375.1 406 1375.4 407.6 1375.9 409.2 1376.2 410.7 1376.8 412.3 1377.1 413.8 1377.6 415.4 1378.1 416.9 1378.6 418.5 1379.2 420 1379.1 421.6 1379.4 423.1 1379.8 424.7 1379.9 426.2 1380.6 427.8 1380.9 429.3 1381.4 430.9 1381.8 432.4 1382.1 434 1382.3 435.5 1382.8 437.1 1382.6 438.6 1383.5 440.2 1384.1 441.7 1384.1 443.3 1384.7 444.9 1384.8 446.4 1384.8 448 1385.4 449.5 1385.2 451.1 1385.8 452.6 1385.8 454.2 1386.5 455.7 1386.8 457.3 1387.3 458.8 1387.4 460.4 1387.8 461.9 1388.3 463.5 1388.5 465 1388.7 466.6 1388.9 468.1 1389.3 469.7 1389.8 471.2 1390.3 472.8 1390.8 474.3 1391.1 475.9 1391.2 477.4 1391.4 479 1392 480.6 1392.7 482.1 1393.1 483.7 1393.6 485.2 1393.7 486.8 1394.3 488.3 1394.5 489.9 1394.9 491.4 1395.3 493 1395.5 494.5 1395.6 496.1 1396.3 497.6 1396.5 499.2 1397 500.7 1397.2 502.3 1397.8 503.8 1397.9 505.4 1398 506.9 1398.1 508.5 1398.5 510 1399 511.6 1399.4 513.1 1400 514.7 1400.3 516.3 1400.6 517.8 1400.7 519.4 1401.2 520.9 1401.6 522.5 1401.9 524 1402.2 525.6 1402.6 527.1 1402.7 528.7 1403.1 530.2 1403.6 531.8 1403.7 533.3 1404.2 534.9 1404.2 536.4 1405 538 1405.2 539.5 1405.4 541.1 1405.9 542.6 1406.3 544.2 1406.6 545.7 1406.9 547.3 1407.2 548.8 1407.5 550.4 1407.6 552 1408 553.5 1408.3 555.1 1408.4 556.6 1408.9 558.2 1409.4 559.7 1409.5 561.3 1410 562.8 1410.4 564.4 1410.8 565.9 1410.6 567.5 1411.5 569 1411.4 570.6 1411.8 572.1 1412 573.7 1412.3 575.2 1412.4 576.8 1412.7 578.3 1413.3 579.9 1413.7 581.4 1413.9 583 1414.3 584.5 1414.8 586.1 1415.1 587.7 1415.5 589.2 1415.9 590.8 1416.5 592.3 1417 593.9 1417.2 595.4 1417.7 597 1417.9 598.5 1418 600.1 1418.5 601.6 1418.8 603.2 1418.9 604.7 1419.2 606.3 1419.7 607.8 1420 609.4 1420.2 610.9 1420.6 612.5 1421.1 614 1421.3 615.6 1421.6 617.1 1421.8 618.7 1422 620.3 1422.5 621.8 1422.8 623.4 1423 624.9 1423.2 626.5 1423.6 628 1423.7 629.6 1424.3 631.1 1424.4 632.7 1424.7 634.2 1425.2 635.8 1425.5 637.3 1426.1 638.9 1426.5 640.4 1426.7 642 1426.8 643.5 1427.1 645.1 1427.6 646.6 1427.6 648.2 1428.1 649.7 1428.5 651.3 1428.7 652.8 1429 654.4 1429.3 656 1429.4 657.5 1429.8 659.1 1430.3 660.6 1430.8 662.2 1431.1 663.7 1431.7 665.3 1432.2 666.8 1432.5 668.4 1432.4 669.9 1432.9 671.5 1433.2 673 1433.4 674.6 1433.9 676.1 1433.9 677.7 1434.3 679.2 1434.8 680.8 1435 682.3 1435.3 683.9 1435.3 685.4 1435.7 687 1436.2 688.5 1436.4 690.1 1437 691.7 1437 693.2 1437.4 694.8 1437.6 696.3 1438 697.9 1438.3 699.4 1438.7 701 1439.2 702.5 1439.6 704.1 1439.6 705.6 1440.2 707.2 1440.4 708.7 1440.9 710.3 1441 711.8 1441.4 713.4 1441.7 714.9 1441.8 716.5 1442.4 718 1442.5 719.6 1442.7 721.1 1443 722.7 1443.2 724.2 1443.6 725.8 1444 727.4 1444.5 728.9 1444.6 730.5 1445 732 1445.4 733.6 1445.7 735.1 1445.9 736.7 1446 738.2 1446.3 739.8 1446.6 741.3 1446.9 742.9 1447.5 744.4 1447.8 746 1447.9 747.5 1448.5 749.1 1449.1 750.6 1449.3 752.2 1449.6 753.7 1450 755.3 1450.2 756.8 1451 758.4 1451 759.9 1451.1 761.5 1451.4 763.1 1451.8 764.6 1451.9 766.2 1452.2 767.7 1452.6 769.3 1453.1 770.8 1453.4 772.4 1453.8 773.9 1454.1 775.5 1454.5 777 1454.9 778.6 1455.4 780.1 1455.6 781.7 1455.7 783.2 1456.3 784.8 1456.5 786.3 1456.8 787.9" fill="none" stroke="#00ffff" stroke-width="7" stroke-linecap="round" stroke-linejoin="round"/>
<path d="M1116.5 21.1h0M1123.3 22.7L1126.6 24.2 1124 25.8 1124.9 27.4M1138.4 28.9h0M1143.2 30.5h0M1147.7 32L1148 33.6M1160.8 35.1h0M1174.8 36.7L1177 38.2 1180.8 39.8 1180.3 41.3 1182 42.9 1184.5 44.4 1187.5 46M1192.4 47.5L1193.5 49.1 1196.8 50.6 1199.9 52.2 1202.9 53.7M1207 55.3L1207.7 56.8 1207.1 58.4 1209 59.9 1211.9 61.5M1217.2 63.1L1218.7 64.6 1219.7 66.2 1221.9 67.7 1222.3 69.3 1222.9 70.8 1222.7 72.4 1224.6 73.9 1227 75.5 1229.4 77 1233 78.6 1233 80.1 1233.5 81.7 1232.9 83.2M1237.9 84.8L1241.7 86.3M1248.1 87.9L1250.5 89.4 1250 91 1251.4 92.5 1252.4 94.1M1257.7 95.7L1259.1 97.2 1260.8 98.8 1262.7 100.3M1266.7 101.9L1266.8 103.4 1268.4 105 1270.5 106.5 1271.7 108.1 1273.5 109.6 1275.2 111.2 1278.7 112.7 1279.2 114.3 1281.3 115.8 1280 117.4 1281.8 118.9 1284 120.5 1285.9 122 1287.6 123.6 1288 125.1 1288.8 126.7 1287.7 128.2 1290.1 129.8 1292.4 131.4 1294.1 132.9 1296.2 134.5 1296.2 136 1296.7 137.6 1298.4 139.1 1299.4 140.7 1298.9 142.2 1299 143.8 1301.4 145.3 1302.1 146.9 1304.1 148.4 1305.7 150 1306.6 151.5 1305.8 153.1 1307.2 154.6 1307.6 156.2 1308.7 157.7 1308.9 159.3 1309.9 160.8 1310.9 162.4 1311.7 163.9 1312.4 165.5 1312.2 167.1 1313.3 168.6 1313.9 170.2 1315.1 171.7 1315.7 173.3 1315.4 174.8 1316.1 176.4 1316.4 177.9 1315.9 179.5 1315.9 181 1316 182.6 1316.3 184.1 1317.5 185.7 1317.5 187.2 1318 188.8 1317.4 190.3 1317.4 191.9 1317.5 193.4 1317.8 195 1318.4 196.5 1319 198.1 1319.4 199.6 1318.8 201.2 1319.7 202.8 1320.5 204.3 1320.7 205.9 1321.4 207.4 1321.6 209 1322.3 210.5 1322.5 212.1 1322.7 213.6 1323.1 215.2 1324.1 216.7 1324.4 218.3 1324.9 219.8 1325.3 221.4 1326.2 222.9 1326.6 224.5 1326.7 226 1327.5 227.6 1328.1 229.1 1328.7 230.7 1329 232.2 1329.6 233.8 1329.7 235.3 1328.8 236.9 1329.2 238.5 1330.6 240 1330.9 241.6 1331.1 243.1 1332.2 244.7 1332.6 246.2 1333.3 247.8 1334.9 249.3 1335.5 250.9 1336 252.4 1336.8 254 1336.8 255.5 1338.2 257.1 1338.2 258.6 1338.9 260.2 1339.7 261.7 1339.8 263.3 1340.2 264.8 1340.2 266.4 1340.8 267.9 1341.3 269.5 1341.9 271 1342.6 272.6 1342.9 274.2 1343.7 275.7 1344.1 277.3 1344.8 278.8 1345 280.4 1345.7 281.9 1346.2 283.5 1346.3 285 1346.5 286.6 1346.8 288.1 1347.4 289.7 1348 291.2 1348 292.8 1347.8 294.3 1348.5 295.9 1349.1 297.4 1349.4 299 1349.5 300.5 1349.6 302.1 1350.2 303.6 1350.7 305.2 1351.2 306.7 1351.8 308.3 1351.8 309.9 1352.1 311.4 1352.5 313 1352.8 314.5 1353 316.1 1353.6 317.6 1354.1 319.2 1354.6 320.7 1354.9 322.3 1355 323.8 1355.6 325.4 1356.4 326.9 1356.6 328.5 1357.1 330 1357.6 331.6 1358.4 333.1 1358.7 334.7 1359.1 336.2 1359.5 337.8 1360 339.3 1360.4 340.9 1360.8 342.4 1361.5 344 1361.9 345.6 1362.6 347.1 1362.6 348.7 1363.4 350.2 1363.8 351.8 1364.2 353.3 1364.5 354.9 1364.8 356.4 1365.5 358 1365.9 359.5 1366.3 361.1 1366.8 362.6 1367 364.2 1367.9 365.7 1368.4 367.3 1368.9 368.8 1369 370.4 1369.1 371.9 1369.3 373.5 1369.5 375 1369.9 376.6 1370.3 378.2 1370.3 379.7 1370.7 381.3 1371.1 382.8 1371.7 384.4 1372.1 385.9 1371.9 387.5 1372 389 1372.3 390.6 1372.8 392.1 1373.2 393.7 1373.4 395.2 1373.6 396.8 1373.5 398.3 1373.9 399.9 1374.1 401.4 1374.5 403 1374.9 404.5 1375.4 406.1 1375.9 407.6 1375.9 409.2 1376.3 410.7 1376.6 412.3 1377.3 413.9 1377.7 415.4 1377.7 417 1378.4 418.5 1378.6 420.1 1378.7 421.6 1379.1 423.2 1379.7 424.7 1380 426.3 1380.2 427.8 1381 429.4 1381.2 430.9 1381.5 432.5 1382.2 434 1382.7 435.6 1382.8 437.1 1383.3 438.7 1383.7 440.2 1384.3 441.8 1384.5 443.3 1385.1 444.9 1385.2 446.4 1385.5 448 1385.9 449.6 1386.1 451.1 1386.4 452.7 1386.6 454.2 1387.1 455.8 1387.2 457.3 1387.8 458.9 1387.9 460.4 1388.7 462 1388.5 463.5 1389 465.1 1389.2 466.6 1389.5 468.2 1389.5 469.7 1390.2 471.3 1390.1 472.8 1390.5 474.4 1391 475.9 1391.3 477.5 1391.7 479 1391.9 480.6 1392.7 482.1 1393 483.7 1393.6 485.3 1393.9 486.8 1393.8 488.4 1394.3 489.9 1394.8 491.5 1395.6 493 1395.6 494.6 1396.1 496.1 1396.3 497.7 1396.4 499.2 1397.3 500.8 1397.7 502.3 1398.2 503.9 1398.7 505.4 1399.1 507 1399.1 508.5 1399.6 510.1 1399.7 511.6 1400 513.2 1400.3 514.7 1400.7 516.3 1401.3 517.8 1401.6 519.4 1401.9 521 1401.8 522.5 1402 524.1 1402.5 525.6 1403.1 527.2 1403.1 528.7 1403.4 530.3 1403.9 531.8 1404.1 533.4 1404.6 534.9 1404.4 536.5 1404.6 538 1405 539.6 1405.4 541.1 1406 542.7 1406 544.2 1406.6 545.8 1406.6 547.3 1407 548.9 1407.2 550.4 1407.5 552 1407.8 553.5 1408.2 555.1 1408.6 556.7 1409.2 558.2 1409.5 559.8 1409.8 561.3 1410.3 562.9 1410.5 564.4 1410.8 566 1411 567.5 1411.3 569.1 1411.8 570.6 1412.1 572.2 1412.3 573.7 1412.5 575.3 1413.1 576.8 1413 578.4 1413.7 579.9 1413.9 581.5 1414.4 583 1414.5 584.6 1415 586.1 1415.3 587.7 1415.4 589.2 1416 590.8 1416.2 592.4 1416.7 593.9 1416.8 595.5 1417.3 597 1417.5 598.6 1418 600.1 1418.1 601.7 1418.8 603.2 1419.3 604.8 1419.4 606.3 1419.6 607.9 1420.2 609.4 1420.4 611 1420.8 612.5 1421.3 614.1 1421.3 615.6 1421.8 617.2 1422.2 618.7 1422.4 620.3 1422.9 621.8 1423.1 623.4 1423.3 625 1423.3 626.5 1423.7 628.1 1424.1 629.6 1424.3 631.2 1424.5 632.7 1425 634.3 1425.2 635.8 1425.8 637.4 1426.1 638.9 1426.5 640.5 1426.9 642 1427.2 643.6 1427.5 645.1 1427.7 646.7 1428 648.2 1428.3 649.8 1428.5 651.3 1428.9 652.9 1429.1 654.4 1429.4 656 1429.6 657.5 1430.1 659.1 1430.6 660.7 1430.8 662.2 1431.2 663.8 1431.5 665.3 1431.9 666.9 1432.3 668.4 1432.5 670 1432.8 671.5 1433.3 673.1 1433.4 674.6 1433.7 676.2 1433.8 677.7 1434.5 679.3 1435.1 680.8 1435.3 682.4 1435.6 683.9 1435.9 685.5 1436.2 687 1436.6 688.6 1436.7 690.1 1437.2 691.7 1437.3 693.2 1437.6 694.8 1438.1 696.4 1438.6 697.9 1438.8 699.5 1439 701 1439.4 702.6 1439.5 704.1 1439.8 705.7 1440.1 707.2 1440.2 708.8 1440.5 710.3 1440.7 711.9 1440.9 713.4 1441.4 715 1441.8 716.5 1442 718.1 1442.3 719.6 1442.9 721.2 1443.3 722.7 1443.5 724.3 1443.6 725.8 1444.2 727.4 1444.4 728.9 1444.7 730.5 1445.1 732.1 1445.4 733.6 1445.9 735.2 1446.2 736.7 1446.5 738.3 1446.9 739.8 1447.3 741.4 1447.8 742.9 1448.2 744.5 1448.4 746 1448.9 747.6 1449.1 749.1 1449.4 750.7 1449.7 752.2 1449.9 753.8 1450.2 755.3 1450.6 756.9 1451.1 758.4 1451.4 760 1451.8 761.5 1452.1 763.1 1452.3 764.6 1452.7 766.2 1453.1 767.8 1453.3 769.3 1453.6 770.9 1454 772.4 1454.3 774 1454.7 775.5 1455 777.1 1455.2 778.6 1455.7 780.2 1456 781.7 1456 783.3 1456.6 784.8 1457.2 786.4 1457.5 787.9" fill="none" stroke="#00ffff" stroke-width="7" stroke-linecap="round" stroke-linejoin="round"/>
<path d="M1120.4 20.5h0M1125.1 22.1L1126.3 23.6M1135.1 25.2L1136.4 26.7M1147.9 28.3h0M1159.6 29.8h0M1173.5 31.4h0M1178.3 32.9L1174.4 34.5M1167.4 36h0M1173.6 37.6h0M1179.7 39.1L1180.5 40.7M1187.3 42.2h0M1194.5 43.8h0M1198.6 45.3L1197.7 46.9M1192.9 48.5L1195.7 50 1198.7 51.6M1204.7 53.1L1206.4 54.7 1207.3 56.2 1208.6 57.8 1210.4 59.3M1215.4 60.9L1217.4 62.4 1219.1 64 1220 65.5 1221 67.1 1223.3 68.6 1225.2 70.2 1228.8 71.7 1231.2 73.3 1230.2 74.8 1230.5 76.4 1232.4 77.9 1235.5 79.5 1238.4 81 1240.5 82.6 1242.2 84.2 1242.4 85.7 1244 87.3 1246.4 88.8M1250.6 90.4h0M1255.2 91.9L1255.9 93.5 1259.4 95 1262.9 96.6M1268.8 98.1L1270.6 99.7 1272.4 101.2 1272 102.8 1273.1 104.3 1272 105.9 1274 107.4 1276 109 1279.7 110.5 1280 112.1 1281.2 113.6 1282.1 115.2 1284.4 116.7 1286.8 118.3 1287.9 119.9 1288.9 121.4 1288.7 123 1291 124.5 1292.4 126.1 1293.5 127.6 1294.7 129.2 1296 130.7 1296.8 132.3 1298.5 133.8 1299.2 135.4 1300.5 136.9 1301.3 138.5 1301.8 140 1302.8 141.6 1302.6 143.1 1302.8 144.7 1302.3 146.2 1302.8 147.8 1304.1 149.3 1304.9 150.9 1306 152.4 1308.7 154 1308.6 155.6 1308.8 157.1 1308.5 158.7 1308.5 160.2 1309.4 161.8 1310.9 163.3 1312.2 164.9 1311.9 166.4 1312.4 168 1312.7 169.5 1314 171.1 1314.6 172.6 1315.2 174.2 1315.1 175.7 1315.2 177.3 1315.6 178.8 1316.4 180.4 1316.7 181.9 1317.4 183.5 1317 185 1317.3 186.6 1318.5 188.2 1318.6 189.7 1318.8 191.3 1319.7 192.8 1320.2 194.4 1319.8 195.9 1320.5 197.5 1320.8 199 1321.6 200.6 1321.8 202.1 1322.2 203.7 1322.8 205.2 1323.4 206.8 1324.2 208.3 1324.5 209.9 1324.9 211.4 1325.1 213 1325.3 214.5 1325.4 216.1 1325.7 217.6 1326.4 219.2 1327.3 220.7 1327.8 222.3 1327.8 223.9 1328.4 225.4 1328.8 227 1329.5 228.5 1329.2 230.1 1329.6 231.6 1328.7 233.2 1330 234.7 1329.9 236.3 1329.7 237.8 1330.6 239.4 1331.6 240.9 1331.6 242.5 1333.1 244 1333.2 245.6 1334.4 247.1 1335.3 248.7 1336.3 250.2 1337.1 251.8 1337.1 253.3 1337.2 254.9 1337.2 256.4 1338.3 258 1338.6 259.6 1339.2 261.1 1340.1 262.7 1340.9 264.2 1341.4 265.8 1341.8 267.3 1342.3 268.9 1342.7 270.4 1342.6 272 1342.9 273.5 1343.7 275.1 1344.2 276.6 1344.5 278.2 1345.5 279.7 1346.1 281.3 1346.1 282.8 1346.3 284.4 1346.9 285.9 1347.2 287.5 1347.6 289 1348.5 290.6 1348.9 292.1 1348.9 293.7 1349.2 295.3 1349.6 296.8 1350.2 298.4 1350.3 299.9 1350.6 301.5 1351.2 303 1351.4 304.6 1351.5 306.1 1352.1 307.7 1352.3 309.2 1352.8 310.8 1352.8 312.3 1353.6 313.9 1353.9 315.4 1354.9 317 1355.1 318.5 1355.6 320.1 1355.8 321.6 1356.1 323.2 1356.2 324.7 1356.4 326.3 1356.4 327.8 1357.3 329.4 1357.8 331 1358.5 332.5 1358.7 334.1 1359.3 335.6 1359.7 337.2 1360.3 338.7 1360.5 340.3 1361 341.8 1361.4 343.4 1362 344.9 1362.6 346.5 1363.1 348 1363.3 349.6 1363.7 351.1 1364.2 352.7 1365 354.2 1365.1 355.8 1365.9 357.3 1366.4 358.9 1367 360.4 1367.2 362 1367.7 363.5 1367.6 365.1 1368.2 366.7 1368.5 368.2 1368.9 369.8 1369.5 371.3 1370.1 372.9 1370 374.4 1370.5 376 1370.6 377.5 1370.9 379.1 1370.6 380.6 1371.2 382.2 1371.6 383.7 1372.3 385.3 1372.6 386.8 1372.9 388.4 1373.4 389.9 1373.6 391.5 1373.9 393 1374.1 394.6 1374.4 396.1 1374.7 397.7 1375.1 399.2 1375.5 400.8 1375.8 402.4 1376 403.9 1376.2 405.5 1376.5 407 1377 408.6 1377.4 410.1 1377.7 411.7 1378 413.2 1378.3 414.8 1378.6 416.3 1378.9 417.9 1379.5 419.4 1379.5 421 1379.9 422.5 1380.3 424.1 1380.5 425.6 1380.9 427.2 1381.6 428.7 1382 430.3 1382 431.8 1382.4 433.4 1382.3 435 1382.8 436.5 1383.3 438.1 1383.9 439.6 1384.3 441.2 1384.4 442.7 1384.8 444.3 1385.5 445.8 1385.6 447.4 1386.3 448.9 1386.5 450.5 1386.7 452 1387.2 453.6 1387.2 455.1 1387.5 456.7 1388.1 458.2 1388.3 459.8 1389 461.3 1389.4 462.9 1389.8 464.4 1390 466 1390.5 467.5 1390.9 469.1 1391.3 470.7 1391.4 472.2 1391.5 473.8 1391.9 475.3 1392.2 476.9 1392.7 478.4 1392.8 480 1393.2 481.5 1393.9 483.1 1394.1 484.6 1394.5 486.2 1394.6 487.7 1395.1 489.3 1395.5 490.8 1395.7 492.4 1395.8 493.9 1396.3 495.5 1396.5 497 1396.7 498.6 1397 500.1 1397.6 501.7 1397.7 503.2 1398.2 504.8 1398.4 506.4 1398.6 507.9 1398.9 509.5 1399.2 511 1399.5 512.6 1399.8 514.1 1400.1 515.7 1400.7 517.2 1400.9 518.8 1401.2 520.3 1401.4 521.9 1401.9 523.4 1402.3 525 1402.9 526.5 1403.3 528.1 1403.6 529.6 1404.1 531.2 1404.2 532.7 1404.7 534.3 1405.3 535.8 1405.4 537.4 1405.9 538.9 1406.3 540.5 1406.4 542.1 1406.6 543.6 1406.6 545.2 1407.2 546.7 1407.4 548.3 1407.9 549.8 1408.1 551.4 1408.3 552.9 1408.6 554.5 1408.9 556 1409.6 557.6 1409.8 559.1 1410.1 560.7 1410.5 562.2 1410.8 563.8 1411.3 565.3 1411.7 566.9 1411.9 568.4 1412.4 570 1412.8 571.5 1412.8 573.1 1413.4 574.6 1413.8 576.2 1414.1 577.8 1414.5 579.3 1414.9 580.9 1415.1 582.4 1415.4 584 1415.6 585.5 1416 587.1 1416.3 588.6 1416.7 590.2 1417 591.7 1417.5 593.3 1417.8 594.8 1418 596.4 1418.2 597.9 1418.6 599.5 1418.9 601 1419.3 602.6 1419.6 604.1 1419.9 605.7 1420.3 607.2 1420.6 608.8 1420.9 610.3 1421.3 611.9 1421.6 613.5 1421.9 615 1422.2 616.6 1422.5 618.1 1422.9 619.7 1423.2 621.2 1423.6 622.8 1423.8 624.3 1424.1 625.9 1424.4 627.4 1424.6 629 1424.9 630.5 1425.2 632.1 1425.4 633.6 1425.4 635.2 1425.6 636.7 1425.9 638.3 1426.7 639.8 1426.6 641.4 1427 642.9 1427.4 644.5 1428 646 1428.1 647.6 1428.6 649.2 1428.5 650.7 1428.7 652.3 1429.1 653.8 1429.5 655.4 1429.8 656.9 1430.1 658.5 1430.8 660 1431.2 661.6 1431.4 663.1 1431.7 664.7 1432 666.2 1432.7 667.8 1433 669.3 1433.3 670.9 1433.5 672.4 1434 674 1434 675.5 1434.6 677.1 1434.6 678.6 1435 680.2 1435.5 681.8 1435.9 683.3 1436.2 684.9 1436.5 686.4 1436.8 688 1437.2 689.5 1437.4 691.1 1437.6 692.6 1437.9 694.2 1437.9 695.7 1438.2 697.3 1438.3 698.8 1439 700.4 1439.1 701.9 1439.5 703.5 1439.9 705 1440.2 706.6 1440.6 708.1 1441.2 709.7 1441.4 711.2 1441.4 712.8 1441.8 714.3 1442.2 715.9 1442.5 717.5 1442.9 719 1443.2 720.6 1443.5 722.1 1443.8 723.7 1444.4 725.2 1444.8 726.8 1445.1 728.3 1445.5 729.9 1445.7 731.4 1445.9 733 1446.4 734.5 1446.7 736.1 1446.9 737.6 1447.2 739.2 1447.7 740.7 1447.6 742.3 1448 743.8 1448.5 745.4 1448.5 746.9 1449.1 748.5 1449.4 750 1449.8 751.6 1449.9 753.2 1450.5 754.7 1450.8 756.3 1450.7 757.8 1451.3 759.4 1451.5 760.9 1451.9 762.5 1452.2 764 1452.8 765.6 1453 767.1 1453.5 768.7 1453.9 770.2 1454.1 771.8 1454.5 773.3 1455 774.9 1455.1 776.4 1455.6 778 1455.9 779.5 1456.1 781.1 1456.7 782.6 1456.9 784.2 1457.3 785.7 1457.8 787.3" fill="none" stroke="#00ffff" stroke-width="7" stroke-linecap="round" stroke-linejoin="round"/>
<path d="M1114.9 20.2L1116.1 22.9L1125.8 28.3L1171.7 38.8L1173.5 42.7L1189.6 50.5L1202.8 58.3L1214.5 66L1223.3 73.8L1232.6 81.5L1243.2 89.3L1255.5 97.1L1268.1 107.1L1285.1 124.2L1297.1 141.5L1306.4 158.6L1312.6 174.7L1316.7 192.8L1321.1 210L1326.3 227.1L1331.3 244.3L1336 252.3L1346.5 291.1L1355.6 329.9L1367.3 368.7L1374.9 407.5L1384 446.3L1392.8 485.1L1409.5 562.7L1425.9 640.3L1441.7 717.9L1456.9 787.8" fill="none" stroke="#0000ff" stroke-width="2.7" stroke-linejoin="round"/>
<path d="M1114.9 20.2h0M1116.1 22.9h0M1125.8 28.3h0M1172.2 39.9h0M1174 43h0M1180.5 46.1h0M1187 49.2h0M1192.7 52.3h0M1197.9 55.4h0M1203.2 58.5h0M1207.8 61.6h0M1212.4 64.7h0M1216.5 67.8h0M1220.1 70.9h0M1223.6 74h0M1227.3 77.1h0M1231 80.2h0M1235.1 83.3h0M1239.2 86.4h0M1243.6 89.5h0M1248.5 92.6h0M1253.2 95.7h0M1257.7 98.8h0M1261.5 101.9h0M1265.4 105.1h0M1269 108.2h0M1272.2 111.3h0M1275.3 114.4h0M1278.4 117.5h0M1281.4 120.6h0M1284.4 123.7h0M1286.8 126.8h0M1289 129.9h0M1291.2 133h0M1293.4 136.1h0M1295.5 139.2h0M1297.7 142.3h0M1299.3 145.4h0M1301.1 148.5h0M1302.6 151.6h0M1304.3 154.7h0M1305.9 157.8h0M1307.4 160.9h0M1308.6 164h0M1309.7 167.1h0M1310.9 170.2h0M1312 173.4h0M1312.6 174.9h0M1312.9 176.5h0M1312.9 178h0M1313.4 179.6h0M1314 181.1h0M1314.4 182.7h0M1315.1 184.2h0M1315.3 185.8h0M1315.6 187.3h0M1315.8 188.9h0M1315.3 190.4h0M1316.5 192h0M1316.5 193.5h0M1317.4 195.1h0M1317.6 196.6h0M1317.9 198.2h0M1318.3 199.7h0M1318.7 201.3h0M1318.6 202.8h0M1319.1 204.4h0M1320.5 205.9h0M1320.6 207.5h0M1320.7 209.1h0M1321.1 210.6h0M1321.6 212.2h0M1323.3 213.7h0M1322.9 215.3h0M1323.2 216.8h0M1323.4 218.4h0M1323.3 219.9h0M1324.6 221.5h0M1325.6 223h0M1325.9 224.6h0M1326.1 226.1h0M1326.3 227.7h0M1326.5 229.2h0M1327.4 230.8h0M1327.7 232.3h0M1327.9 233.9h0M1329.3 235.4h0M1328.9 237h0M1329.5 238.5h0M1329.3 240.1h0M1331.1 241.6h0M1330.9 243.2h0M1331.6 244.8h0M1332.6 246.3h0M1333.1 247.9h0M1334.1 249.4h0M1335.3 251h0M1335.8 252.5h0M1336.6 254.1h0M1337.3 255.6h0M1337.6 257.2h0M1338.2 258.7h0M1338.5 260.3h0M1339.2 261.8h0M1339.1 263.4h0M1339.6 264.9h0M1339.5 266.5h0M1340.2 268h0M1340.4 269.6h0M1341.1 271.1h0M1341.2 272.7h0M1342.1 274.2h0M1343.3 275.8h0M1342.5 277.3h0M1343.4 278.9h0M1343.9 280.5h0M1343.8 282h0M1344.4 283.6h0M1344.7 285.1h0M1345.5 286.7h0M1345.5 288.2h0M1347.1 289.8h0M1346.9 291.3h0M1347.4 292.9h0M1348.1 294.4h0M1348.2 296h0M1348 297.5h0M1348.5 299.1h0M1348.8 300.6h0M1349.2 302.2h0M1349.8 303.7h0M1349.2 305.3h0M1349.6 306.8h0M1350.5 308.4h0M1351.1 309.9h0M1351.1 311.5h0M1351.6 313h0M1352.4 314.6h0M1352.6 316.2h0M1352.7 317.7h0M1353 319.3h0M1353 320.8h0M1354 322.4h0M1354.3 323.9h0M1354.2 325.5h0M1355.1 327h0M1355.2 328.6h0M1355.6 330.1h0M1355.6 331.7h0M1356.9 333.2h0M1356.8 334.8h0M1357.7 336.3h0M1358.1 337.9h0M1358.3 339.4h0M1358.9 341h0M1359.3 342.5h0M1359.8 344.1h0M1360.4 345.6h0M1360.6 347.2h0M1361.5 348.7h0M1361.8 350.3h0M1361.8 351.9h0M1362.8 353.4h0M1363 355h0M1363.8 356.5h0M1363.3 358.1h0M1364.7 359.6h0M1364.2 361.2h0M1365.3 362.7h0M1367.1 364.3h0M1366.7 365.8h0M1367.3 367.4h0M1367.1 368.9h0M1367.3 370.5h0M1367.9 372h0M1368.4 373.6h0M1368.5 375.1h0M1368.6 376.7h0M1368.9 378.2h0M1369.3 379.8h0M1370.4 381.3h0M1370.1 382.9h0M1370.3 384.4h0M1370.6 386h0M1370.7 387.6h0M1370.8 389.1h0M1371.7 390.7h0M1372.4 392.2h0M1372.4 393.8h0M1372.1 395.3h0M1373.3 396.9h0M1373.2 398.4h0M1374.1 400h0M1373.7 401.5h0M1373.7 403.1h0M1374.4 404.6h0M1374.6 406.2h0M1374.7 407.7h0M1375.1 409.3h0M1375.6 410.8h0M1375.8 412.4h0M1376.6 413.9h0M1376.9 415.5h0M1377.1 417h0M1377.4 418.6h0M1378.1 420.2h0M1378.4 421.7h0M1378.4 423.3h0M1379 424.8h0M1379.7 426.4h0M1379.8 427.9h0M1379.9 429.5h0M1380.7 431h0M1381.3 432.6h0M1381.2 434.1h0M1381.2 435.7h0M1381.7 437.2h0M1382.6 438.8h0M1382.6 440.3h0M1383.1 441.9h0M1383.4 443.4h0M1383.7 445h0M1384.3 446.5h0M1384.5 448.1h0M1384.8 449.6h0M1385.2 451.2h0M1385.5 452.7h0M1386.1 454.3h0M1386.1 455.9h0M1386.4 457.4h0M1387 459h0M1387.1 460.5h0M1387.6 462.1h0M1387.9 463.6h0M1388.4 465.2h0M1388.6 466.7h0M1389.1 468.3h0M1389.3 469.8h0M1389.7 471.4h0M1389.9 472.9h0M1390.5 474.5h0M1390.8 476h0M1391.1 477.6h0M1391.5 479.1h0M1391.8 480.7h0M1392.2 482.2h0M1392.7 483.8h0M1392.8 485.3h0M1393.2 486.9h0M1393.6 488.4h0M1393.9 490h0M1394.1 491.6h0M1394.7 493.1h0M1395 494.7h0M1395.2 496.2h0M1395.7 497.8h0M1395.8 499.3h0M1396.3 500.9h0M1396.4 502.4h0M1396.9 504h0M1397.2 505.5h0M1397.5 507.1h0M1397.9 508.6h0M1398.1 510.2h0M1398.5 511.7h0M1398.8 513.3h0M1399.3 514.8h0M1399.5 516.4h0M1399.9 517.9h0M1400.2 519.5h0M1400.6 521h0M1400.8 522.6h0M1401.1 524.1h0M1401.5 525.7h0M1401.9 527.3h0M1402.1 528.8h0M1402.6 530.4h0M1402.9 531.9h0M1403.3 533.5h0M1403.6 535h0M1404 536.6h0M1404.2 538.1h0M1404.5 539.7h0M1404.8 541.2h0M1405.2 542.8h0M1405.4 544.3h0M1405.9 545.9h0M1406.2 547.4h0M1406.4 549h0M1406.9 550.5h0M1407.2 552.1h0M1407.5 553.6h0M1407.9 555.2h0M1408.3 556.7h0M1408.6 558.3h0M1408.7 559.8h0M1409.2 561.4h0M1409.5 563h0M1410 564.5h0M1410.2 566.1h0M1410.5 567.6h0M1410.8 569.2h0M1411.1 570.7h0M1411.5 572.3h0M1411.8 573.8h0M1412.3 575.4h0M1412.5 576.9h0M1412.9 578.5h0M1413.2 580h0M1413.5 581.6h0M1413.8 583.1h0M1414.2 584.7h0M1414.2 586.2h0M1414.7 587.8h0M1415.1 589.3h0M1415.5 590.9h0M1415.7 592.4h0M1416.2 594h0M1416.5 595.5h0M1416.7 597.1h0M1417.1 598.7h0M1417.4 600.2h0M1417.8 601.8h0M1418.1 603.3h0M1418.5 604.9h0M1418.8 606.4h0M1419 608h0M1419.5 609.5h0M1419.7 611.1h0M1420.1 612.6h0M1420.4 614.2h0M1420.8 615.7h0M1420.9 617.3h0M1421.5 618.8h0M1421.6 620.4h0M1422 621.9h0M1422.4 623.5h0M1422.6 625h0M1423 626.6h0M1423.3 628.1h0M1423.7 629.7h0M1424 631.2h0M1424.2 632.8h0M1424.6 634.4h0M1424.9 635.9h0M1425.3 637.5h0M1425.6 639h0M1426 640.6h0M1426.4 642.1h0M1426.6 643.7h0M1426.9 645.2h0M1427.2 646.8h0M1427.6 648.3h0M1427.7 649.9h0M1428.1 651.4h0M1428.5 653h0M1428.8 654.5h0M1429.1 656.1h0M1429.4 657.6h0M1429.9 659.2h0M1429.8 660.7h0M1430.5 662.3h0M1430.6 663.8h0M1431 665.4h0M1431.3 667h0M1431.7 668.5h0M1431.9 670.1h0M1432.2 671.6h0M1432.6 673.2h0M1433 674.7h0M1433.2 676.3h0M1433.7 677.8h0M1433.8 679.4h0M1434.2 680.9h0M1434.5 682.5h0M1434.9 684h0M1435 685.6h0M1435.5 687.1h0M1435.7 688.7h0M1435.9 690.2h0M1436.3 691.8h0M1436.6 693.3h0M1437 694.9h0M1437.4 696.4h0M1437.6 698h0M1438.1 699.5h0M1438.3 701.1h0M1438.6 702.7h0M1438.9 704.2h0M1439.2 705.8h0M1439.5 707.3h0M1439.9 708.9h0M1440.2 710.4h0M1440.5 712h0M1440.8 713.5h0M1441.1 715.1h0M1441.4 716.6h0M1441.8 718.2h0M1442.1 719.7h0M1442.4 721.3h0M1442.8 722.8h0M1443.1 724.4h0M1443.4 725.9h0M1443.7 727.5h0M1444.1 729h0M1444.4 730.6h0M1444.7 732.1h0M1445.2 733.7h0M1445.3 735.2h0M1445.8 736.8h0M1446.2 738.4h0M1446.5 739.9h0M1446.8 741.5h0M1447.2 743h0M1447.6 744.6h0M1447.9 746.1h0M1448.3 747.7h0M1448.5 749.2h0M1448.8 750.8h0M1449.3 752.3h0M1449.5 753.9h0M1449.9 755.4h0M1450.3 757h0M1450.6 758.5h0M1450.9 760.1h0M1451.3 761.6h0M1451.6 763.2h0M1452 764.7h0M1452.3 766.3h0M1452.5 767.8h0M1453 769.4h0M1453.3 770.9h0M1453.6 772.5h0M1453.9 774.1h0M1454.3 775.6h0M1454.6 777.2h0M1455 778.7h0M1455.3 780.3h0M1455.7 781.8h0M1456 783.4h0M1456.3 784.9h0M1456.6 786.5h0" fill="none" stroke="#0000ff" stroke-width="11.4" stroke-linecap="round"/>
<path d="M1140.7 19.4L1140.7 21" fill="none" stroke="#ff0000" stroke-width="7.4" stroke-linecap="round"/>
<path d="M1140.7 21L1140.7 22.6" fill="none" stroke="#ff0000" stroke-width="7.4" stroke-linecap="round"/>
<path d="M1140.7 22.6L1140.7 24.1" fill="none" stroke="#ff0000" stroke-width="7.4" stroke-linecap="round"/>
<path d="M1140.7 24.1L1140.7 25.7" fill="none" stroke="#ff0000" stroke-width="7.4" stroke-linecap="round"/>
<path d="M1140.7 25.7L1140.7 27.2" fill="none" stroke="#ff0000" stroke-width="7.4" stroke-linecap="round"/>
<path d="M1140.7 27.2L1140.7 28.8" fill="none" stroke="#ff0000" stroke-width="7.4" stroke-linecap="round"/>
<path d="M1140.7 28.8L1144.2 31.1" fill="none" stroke="#ff0000" stroke-width="7.4" stroke-linecap="round"/>
<path d="M1144.2 31.1L1150.1 35" fill="none" stroke="#ff0000" stroke-width="7.4" stroke-linecap="round"/>
<path d="M1150.1 35L1157.4 38.9" fill="none" stroke="#ff0000" stroke-width="7.4" stroke-linecap="round"/>
<path d="M1157.4 38.9L1170.6 42.7" fill="none" stroke="#ff0000" stroke-width="7.4" stroke-linecap="round"/>
<path d="M1170.6 42.7L1183.7 46.6" fill="none" stroke="#ff0000" stroke-width="7.4" stroke-linecap="round"/>
<path d="M1183.7 46.6L1194 50.5" fill="none" stroke="#ff0000" stroke-width="7.4" stroke-linecap="round"/>
<path d="M1194 50.5L1201.3 54.4" fill="none" stroke="#ff0000" stroke-width="7.4" stroke-linecap="round"/>
<path d="M1201.3 54.4L1206.3 58.3" fill="none" stroke="#ff0000" stroke-width="7.4" stroke-linecap="round"/>
<path d="M1206.3 58.3L1217.4 66" fill="none" stroke="#ff0000" stroke-width="7.4" stroke-linecap="round"/>
<path d="M1217.4 66L1226.2 73.8" fill="none" stroke="#ff0000" stroke-width="7.4" stroke-linecap="round"/>
<path d="M1226.2 73.8L1235.9 81.5" fill="none" stroke="#ff0000" stroke-width="7.4" stroke-linecap="round"/>
<path d="M1235.9 81.5L1243.2 89.3" fill="none" stroke="#ff0000" stroke-width="7.4" stroke-linecap="round"/>
<path d="M1243.2 89.3L1250.2 97.1" fill="none" stroke="#ff0000" stroke-width="7.4" stroke-linecap="round"/>
<path d="M1250.2 97.1L1271.6 116.5" fill="none" stroke="#ff0000" stroke-width="4" stroke-linecap="round"/>
<path d="M1271.6 116.5L1287.7 135.9" fill="none" stroke="#ff0000" stroke-width="4" stroke-linecap="round"/>
<path d="M1287.7 135.9L1311.1 174.7" fill="none" stroke="#ff0000" stroke-width="4" stroke-linecap="round"/>
<path d="M1311.1 174.7L1325.8 213.5" fill="none" stroke="#ff0000" stroke-width="4" stroke-linecap="round"/>
<path d="M1325.8 213.5L1337.5 252.3" fill="none" stroke="#ff0000" stroke-width="4" stroke-linecap="round"/>
<path d="M1337.5 252.3L1347.7 291.1" fill="none" stroke="#ff0000" stroke-width="4" stroke-linecap="round"/>
<path d="M1347.7 291.1L1357.4 329.9" fill="none" stroke="#ff0000" stroke-width="4" stroke-linecap="round"/>
<path d="M1357.4 329.9L1374.9 407.5" fill="none" stroke="#ff0000" stroke-width="4" stroke-linecap="round"/>
<path d="M1374.9 407.5L1390.8 485.1" fill="none" stroke="#ff0000" stroke-width="4" stroke-linecap="round"/>
<path d="M1390.8 485.1L1406.3 562.7" fill="none" stroke="#ff0000" stroke-width="4" stroke-linecap="round"/>
<path d="M1406.3 562.7L1423 640.3" fill="none" stroke="#ff0000" stroke-width="4" stroke-linecap="round"/>
<path d="M1423 640.3L1439.4 717.9" fill="none" stroke="#ff0000" stroke-width="4" stroke-linecap="round"/>
<path d="M1439.4 717.9L1457.5 795.6" fill="none" stroke="#ff0000" stroke-width="3.2" stroke-linecap="round"/>
<path d="M1140.7 19.4h0M1140.7 21h0M1140.7 22.6h0M1140.7 24.1h0M1140.7 25.7h0M1140.7 27.2h0M1140.7 28.8h0M1144.2 31.1h0M1150.1 35h0M1157.4 38.9h0M1170.6 42.7h0M1183.7 46.6h0M1194 50.5h0M1201.3 54.4h0M1206.3 58.3h0M1217.4 66h0M1226.2 73.8h0M1235.9 81.5h0M1243.2 89.3h0M1250.2 97.1h0M1271.6 116.5h0M1287.7 135.9h0M1311.1 174.7h0M1325.8 213.5h0M1337.5 252.3h0M1347.7 291.1h0M1357.4 329.9h0M1374.9 407.5h0M1390.8 485.1h0M1406.3 562.7h0M1423 640.3h0M1439.4 717.9h0M1457.5 795.6h0" fill="none" stroke="#ff0000" stroke-width="11.6" stroke-linecap="round"/>
<path d="M1136.6 19.4L1136.6 21L1136.6 22.6L1136.6 24.1L1136.6 25.7L1136.6 27.2L1136.6 28.8L1141.3 31.1L1146 35L1152.4 38.9L1169.1 42.7L1182.3 46.6L1192.5 50.5L1200.4 54.4L1205.7 58.3L1214.5 66L1221.8 73.8L1230.6 81.5L1237.9 89.3L1245.2 97.1L1271.6 116.5L1288.3 135.9L1311.7 174.7L1324.6 213.5L1337.5 252.3L1347.7 291.1L1356.8 329.9L1373.8 407.5L1389.6 485.1L1405.4 562.7L1421.8 640.3L1437.6 717.9L1454.6 795.6" fill="none" stroke="#ffa500" stroke-width="2.7" stroke-linejoin="round"/>
<g fill="#ffa500">
<circle cx="1136.6" cy="19.4" r="5.8"/>
<circle cx="1136.6" cy="21" r="5.8"/>
<circle cx="1136.6" cy="22.6" r="5.8"/>
<circle cx="1136.6" cy="24.1" r="5.8"/>
<circle cx="1136.6" cy="25.7" r="5.8"/>
<circle cx="1136.6" cy="27.2" r="5.8"/>
<circle cx="1136.6" cy="28.8" r="5.8"/>
<circle cx="1141.3" cy="31.1" r="5.8"/>
<circle cx="1146" cy="35" r="5.8"/>
<circle cx="1152.4" cy="38.9" r="5.8"/>
<circle cx="1169.1" cy="42.7" r="5.8"/>
<circle cx="1182.3" cy="46.6" r="5.8"/>
<circle cx="1192.5" cy="50.5" r="5.8"/>
<circle cx="1200.4" cy="54.4" r="5.8"/>
<circle cx="1205.7" cy="58.3" r="5.8"/>
<circle cx="1214.5" cy="66" r="5.8"/>
<circle cx="1221.8" cy="73.8" r="5.8"/>
<circle cx="1230.6" cy="81.5" r="5.8"/>
<circle cx="1237.9" cy="89.3" r="5.8"/>
<circle cx="1245.2" cy="97.1" r="5.8"/>
<circle cx="1271.6" cy="116.5" r="5.8"/>
<circle cx="1288.3" cy="135.9" r="5.8"/>
<circle cx="1311.7" cy="174.7" r="5.8"/>
<circle cx="1324.6" cy="213.5" r="5.8"/>
<circle cx="1337.5" cy="252.3" r="5.8"/>
<circle cx="1347.7" cy="291.1" r="5.8"/>
<circle cx="1356.8" cy="329.9" r="5.8"/>
<circle cx="1373.8" cy="407.5" r="5.8"/>
<circle cx="1389.6" cy="485.1" r="5.8"/>
<circle cx="1405.4" cy="562.7" r="5.8"/>
<circle cx="1421.8" cy="640.3" r="5.8"/>
<circle cx="1437.6" cy="717.9" r="5.8"/>
<circle cx="1454.6" cy="795.6" r="5.8"/>
</g>
<path d="M1153.6 19.4L1153.6 21L1153.6 22.6L1153.6 24.1L1153.6 25.7L1153.6 27.2L1153.6 28.8L1153.6 31.1L1155.6 35L1160 38.9L1167.4 42.7L1177 46.6L1186.7 50.5L1194.6 54.4L1200.1 58.3L1211.3 66L1219.5 73.8L1229.1 81.5L1236.5 89.3L1244.1 97.1L1266.3 116.5L1282.4 135.9L1309.9 174.7L1329.6 213.5L1340.7 252.3L1350.1 291.1L1359.1 329.9L1375.8 407.5L1391.3 485.1L1406.6 562.7L1423 640.3L1438.8 717.9L1455.5 795.6" fill="none" stroke="#008000" stroke-width="2.7" stroke-linejoin="round"/>
<g fill="#008000">
<circle cx="1153.6" cy="19.4" r="5.8"/>
<circle cx="1153.6" cy="21" r="5.8"/>
<circle cx="1153.6" cy="22.6" r="5.8"/>
<circle cx="1153.6" cy="24.1" r="5.8"/>
<circle cx="1153.6" cy="25.7" r="5.8"/>
<circle cx="1153.6" cy="27.2" r="5.8"/>
<circle cx="1153.6" cy="28.8" r="5.8"/>
<circle cx="1153.6" cy="31.1" r="5.8"/>
<circle cx="1155.6" cy="35" r="5.8"/>
<circle cx="1160" cy="38.9" r="5.8"/>
<circle cx="1167.4" cy="42.7" r="5.8"/>
<circle cx="1177" cy="46.6" r="5.8"/>
<circle cx="1186.7" cy="50.5" r="5.8"/>
<circle cx="1194.6" cy="54.4" r="5.8"/>
<circle cx="1200.1" cy="58.3" r="5.8"/>
<circle cx="1211.3" cy="66" r="5.8"/>
<circle cx="1219.5" cy="73.8" r="5.8"/>
<circle cx="1229.1" cy="81.5" r="5.8"/>
<circle cx="1236.5" cy="89.3" r="5.8"/>
<circle cx="1244.1" cy="97.1" r="5.8"/>
<circle cx="1266.3" cy="116.5" r="5.8"/>
<circle cx="1282.4" cy="135.9" r="5.8"/>
<circle cx="1309.9" cy="174.7" r="5.8"/>
<circle cx="1329.6" cy="213.5" r="5.8"/>
<circle cx="1340.7" cy="252.3" r="5.8"/>
<circle cx="1350.1" cy="291.1" r="5.8"/>
<circle cx="1359.1" cy="329.9" r="5.8"/>
<circle cx="1375.8" cy="407.5" r="5.8"/>
<circle cx="1391.3" cy="485.1" r="5.8"/>
<circle cx="1406.6" cy="562.7" r="5.8"/>
<circle cx="1423" cy="640.3" r="5.8"/>
<circle cx="1438.8" cy="717.9" r="5.8"/>
<circle cx="1455.5" cy="795.6" r="5.8"/>
</g>
<path d="M1104.7 19.8L1104.7 20.6L1104.7 21.5L1104.7 22.4L1104.7 23.4L1104.7 24.4L1104.7 25.6L1104.7 26.9L1104.7 28.3L1107 29.9L1110.3 31.7L1116.1 33.8L1124.6 36.2L1132.2 39L1140.7 42.3L1150.4 46.1L1162.1 50.7L1177.3 56.2L1191.4 62.8L1205.4 70.5L1219.5 79.9L1232.1 91.1L1244.4 104.6L1258.4 120.9L1277.4 140.4L1300.3 163.9L1320.5 192.1L1334.2 225.9L1346 266.3L1358.5 314.5L1370.3 371.7L1383.4 439.4L1399 518.9L1419.2 611.8L1441.4 719.7" fill="none" stroke="#ff00ff" stroke-width="2.7" stroke-linejoin="round"/>
<g fill="#ff00ff">
<circle cx="1104.7" cy="19.8" r="5.8"/>
<circle cx="1104.7" cy="20.6" r="5.8"/>
<circle cx="1104.7" cy="21.5" r="5.8"/>
<circle cx="1104.7" cy="22.4" r="5.8"/>
<circle cx="1104.7" cy="23.4" r="5.8"/>
<circle cx="1104.7" cy="24.4" r="5.8"/>
<circle cx="1104.7" cy="25.6" r="5.8"/>
<circle cx="1104.7" cy="26.9" r="5.8"/>
<circle cx="1104.7" cy="28.3" r="5.8"/>
<circle cx="1107" cy="29.9" r="5.8"/>
<circle cx="1110.3" cy="31.7" r="5.8"/>
<circle cx="1116.1" cy="33.8" r="5.8"/>
<circle cx="1124.6" cy="36.2" r="5.8"/>
<circle cx="1132.2" cy="39" r="5.8"/>
<circle cx="1140.7" cy="42.3" r="5.8"/>
<circle cx="1150.4" cy="46.1" r="5.8"/>
<circle cx="1162.1" cy="50.7" r="5.8"/>
<circle cx="1177.3" cy="56.2" r="5.8"/>
<circle cx="1191.4" cy="62.8" r="5.8"/>
<circle cx="1205.4" cy="70.5" r="5.8"/>
<circle cx="1219.5" cy="79.9" r="5.8"/>
<circle cx="1232.1" cy="91.1" r="5.8"/>
<circle cx="1244.4" cy="104.6" r="5.8"/>
<circle cx="1258.4" cy="120.9" r="5.8"/>
<circle cx="1277.4" cy="140.4" r="5.8"/>
<circle cx="1300.3" cy="163.9" r="5.8"/>
<circle cx="1320.5" cy="192.1" r="5.8"/>
<circle cx="1334.2" cy="225.9" r="5.8"/>
<circle cx="1346" cy="266.3" r="5.8"/>
<circle cx="1358.5" cy="314.5" r="5.8"/>
<circle cx="1370.3" cy="371.7" r="5.8"/>
<circle cx="1383.4" cy="439.4" r="5.8"/>
<circle cx="1399" cy="518.9" r="5.8"/>
<circle cx="1419.2" cy="611.8" r="5.8"/>
<circle cx="1441.4" cy="719.7" r="5.8"/>
</g>
</g>
<rect x="1089.5" y="19.4" width="382.1" height="783.9" fill="none" stroke="#000" stroke-width="1.5"/>
<g stroke="#000" stroke-width="1.5">
<path d="M1100.3 803.4v6"/>
<path d="M1158.9 803.4v6"/>
<path d="M1217.4 803.4v6"/>
<path d="M1276 803.4v6"/>
<path d="M1334.5 803.4v6"/>
<path d="M1393.1 803.4v6"/>
<path d="M1451.7 803.4v6"/>
<path d="M1089.5 19.4h-6"/>
<path d="M1089.5 97.1h-6"/>
<path d="M1089.5 174.7h-6"/>
<path d="M1089.5 252.3h-6"/>
<path d="M1089.5 329.9h-6"/>
<path d="M1089.5 407.5h-6"/>
<path d="M1089.5 485.1h-6"/>
<path d="M1089.5 562.7h-6"/>
<path d="M1089.5 640.3h-6"/>
<path d="M1089.5 717.9h-6"/>
<path d="M1089.5 795.6h-6"/>
</g>
</g>
<text x="85.8" y="26.2" font-size="17.6" text-anchor="end" font-weight="normal" font-style="normal" textLength="10.4" lengthAdjust="spacingAndGlyphs">0</text>
<text x="85.8" y="103.8" font-size="17.6" text-anchor="end" font-weight="normal" font-style="normal" textLength="31.2" lengthAdjust="spacingAndGlyphs">100</text>
<text x="85.8" y="181.4" font-size="17.6" text-anchor="end" font-weight="normal" font-style="normal" textLength="31.2" lengthAdjust="spacingAndGlyphs">200</text>
<text x="85.8" y="259" font-size="17.6" text-anchor="end" font-weight="normal" font-style="normal" textLength="31.2" lengthAdjust="spacingAndGlyphs">300</text>
<text x="85.8" y="336.6" font-size="17.6" text-anchor="end" font-weight="normal" font-style="normal" textLength="31.2" lengthAdjust="spacingAndGlyphs">400</text>
<text x="85.8" y="414.2" font-size="17.6" text-anchor="end" font-weight="normal" font-style="normal" textLength="31.2" lengthAdjust="spacingAndGlyphs">500</text>
<text x="85.8" y="491.9" font-size="17.6" text-anchor="end" font-weight="normal" font-style="normal" textLength="31.2" lengthAdjust="spacingAndGlyphs">600</text>
<text x="85.8" y="569.5" font-size="17.6" text-anchor="end" font-weight="normal" font-style="normal" textLength="31.2" lengthAdjust="spacingAndGlyphs">700</text>
<text x="85.8" y="647.1" font-size="17.6" text-anchor="end" font-weight="normal" font-style="normal" textLength="31.2" lengthAdjust="spacingAndGlyphs">800</text>
<text x="85.8" y="724.7" font-size="17.6" text-anchor="end" font-weight="normal" font-style="normal" textLength="31.2" lengthAdjust="spacingAndGlyphs">900</text>
<text x="85.8" y="802.3" font-size="17.6" text-anchor="end" font-weight="normal" font-style="normal" textLength="42" lengthAdjust="spacingAndGlyphs">1000</text>
<text x="103.4" y="829.8" font-size="17.6" text-anchor="middle" font-weight="normal" font-style="normal" textLength="10.4" lengthAdjust="spacingAndGlyphs">5</text>
<text x="180.8" y="829.8" font-size="17.6" text-anchor="middle" font-weight="normal" font-style="normal" textLength="20.6" lengthAdjust="spacingAndGlyphs">10</text>
<text x="258.2" y="829.8" font-size="17.6" text-anchor="middle" font-weight="normal" font-style="normal" textLength="20.6" lengthAdjust="spacingAndGlyphs">15</text>
<text x="335.6" y="829.8" font-size="17.6" text-anchor="middle" font-weight="normal" font-style="normal" textLength="20.6" lengthAdjust="spacingAndGlyphs">20</text>
<text x="413" y="829.8" font-size="17.6" text-anchor="middle" font-weight="normal" font-style="normal" textLength="20.6" lengthAdjust="spacingAndGlyphs">25</text>
<text x="664.5" y="829.8" font-size="17.6" text-anchor="middle" font-weight="normal" font-style="normal" textLength="20.6" lengthAdjust="spacingAndGlyphs">33</text>
<text x="734.2" y="829.8" font-size="17.6" text-anchor="middle" font-weight="normal" font-style="normal" textLength="20.6" lengthAdjust="spacingAndGlyphs">34</text>
<text x="804" y="829.8" font-size="17.6" text-anchor="middle" font-weight="normal" font-style="normal" textLength="20.6" lengthAdjust="spacingAndGlyphs">35</text>
<text x="873.8" y="829.8" font-size="17.6" text-anchor="middle" font-weight="normal" font-style="normal" textLength="20.6" lengthAdjust="spacingAndGlyphs">36</text>
<text x="943.5" y="829.8" font-size="17.6" text-anchor="middle" font-weight="normal" font-style="normal" textLength="20.6" lengthAdjust="spacingAndGlyphs">37</text>
<g transform="translate(1099.1 838.3) rotate(-45)">
<text x="0" y="6.2" font-size="17.6" text-anchor="middle" font-weight="normal" font-style="normal" textLength="42" lengthAdjust="spacingAndGlyphs">1020</text>
</g>
<g transform="translate(1157.7 838.3) rotate(-45)">
<text x="0" y="6.2" font-size="17.6" text-anchor="middle" font-weight="normal" font-style="normal" textLength="42" lengthAdjust="spacingAndGlyphs">1022</text>
</g>
<g transform="translate(1216.2 838.3) rotate(-45)">
<text x="0" y="6.2" font-size="17.6" text-anchor="middle" font-weight="normal" font-style="normal" textLength="42" lengthAdjust="spacingAndGlyphs">1024</text>
</g>
<g transform="translate(1274.8 838.3) rotate(-45)">
<text x="0" y="6.2" font-size="17.6" text-anchor="middle" font-weight="normal" font-style="normal" textLength="42" lengthAdjust="spacingAndGlyphs">1026</text>
</g>
<g transform="translate(1333.3 838.3) rotate(-45)">
<text x="0" y="6.2" font-size="17.6" text-anchor="middle" font-weight="normal" font-style="normal" textLength="42" lengthAdjust="spacingAndGlyphs">1028</text>
</g>
<g transform="translate(1391.9 838.3) rotate(-45)">
<text x="0" y="6.2" font-size="17.6" text-anchor="middle" font-weight="normal" font-style="normal" textLength="42" lengthAdjust="spacingAndGlyphs">1030</text>
</g>
<g transform="translate(1450.5 838.3) rotate(-45)">
<text x="0" y="6.2" font-size="17.6" text-anchor="middle" font-weight="normal" font-style="normal" textLength="42" lengthAdjust="spacingAndGlyphs">1032</text>
</g>
<text x="179.2" y="859.6" font-size="23.6" text-anchor="start" font-weight="bold" font-style="normal" textLength="183.5" lengthAdjust="spacingAndGlyphs">Temperature (</text>
<text x="362.6" y="851.5" font-size="16.5" font-style="italic" textLength="9.6" lengthAdjust="spacingAndGlyphs">o</text>
<text x="373.3" y="859.6" font-size="23.6" font-style="italic" textLength="17.6" lengthAdjust="spacingAndGlyphs">C</text>
<text x="390.6" y="859.6" font-size="23.6" text-anchor="start" font-weight="bold" font-style="normal" textLength="8.2" lengthAdjust="spacingAndGlyphs">)</text>
<text x="737" y="859.2" font-size="23.6" text-anchor="start" font-weight="bold" font-style="normal" textLength="95.6" lengthAdjust="spacingAndGlyphs">Salinity</text>
<text x="1173.6" y="884.8" font-size="23.6" text-anchor="start" font-weight="bold" font-style="normal" textLength="211.4" lengthAdjust="spacingAndGlyphs">Density (kg m-3)</text>
<g transform="translate(29.3 412.6) rotate(-90)">
<text x="0" y="0" font-size="23.6" text-anchor="middle" font-weight="bold" font-style="normal" textLength="125.6" lengthAdjust="spacingAndGlyphs">Depth (m)</text>
</g>
<text x="222.5" y="917.7" font-size="17.6" text-anchor="start" font-weight="normal" font-style="italic" textLength="55" lengthAdjust="spacingAndGlyphs">Ocean</text>
<text x="284" y="917.7" font-size="17.6" text-anchor="start" font-weight="normal" font-style="italic" textLength="41.9" lengthAdjust="spacingAndGlyphs">Heat</text>
<text x="330.4" y="917.7" font-size="17.6" text-anchor="start" font-weight="normal" font-style="italic" textLength="69.1" lengthAdjust="spacingAndGlyphs">Content</text>
<text x="405" y="917.7" font-size="17.6" text-anchor="start" font-weight="normal" font-style="italic" textLength="86.2" lengthAdjust="spacingAndGlyphs">(kJ/cm^2)</text>
<text x="496.7" y="917.7" font-size="17.6" text-anchor="start" font-weight="normal" font-style="italic" textLength="6.6" lengthAdjust="spacingAndGlyphs">-</text>
<text x="507.8" y="917.7" font-size="17.6" text-anchor="start" font-weight="normal" font-style="italic" textLength="58" lengthAdjust="spacingAndGlyphs">Glider:</text>
<text x="572.3" y="917.7" font-size="17.6" text-anchor="start" font-weight="normal" font-style="italic" textLength="75.5" lengthAdjust="spacingAndGlyphs">66.5019,</text>
<text x="659.9" y="917.7" font-size="17.6" text-anchor="start" font-weight="normal" font-style="italic" textLength="63.1" lengthAdjust="spacingAndGlyphs">RTOFS:</text>
<text x="728.4" y="917.7" font-size="17.6" text-anchor="start" font-weight="normal" font-style="italic" textLength="76.2" lengthAdjust="spacingAndGlyphs">38.5532,</text>
<text x="816.7" y="917.7" font-size="17.6" text-anchor="start" font-weight="normal" font-style="italic" textLength="56.5" lengthAdjust="spacingAndGlyphs">RTOFS</text>
<text x="879.6" y="917.7" font-size="17.6" text-anchor="start" font-weight="normal" font-style="italic" textLength="82.3" lengthAdjust="spacingAndGlyphs">(Parallel):</text>
<text x="968.5" y="917.7" font-size="17.6" text-anchor="start" font-weight="normal" font-style="italic" textLength="76.2" lengthAdjust="spacingAndGlyphs">56.1310,</text>
<text x="1056.6" y="917.7" font-size="17.6" text-anchor="start" font-weight="normal" font-style="italic" textLength="49.6" lengthAdjust="spacingAndGlyphs">ESPC:</text>
<text x="1112.6" y="917.7" font-size="17.6" text-anchor="start" font-weight="normal" font-style="italic" textLength="76.2" lengthAdjust="spacingAndGlyphs">58.4583,</text>
<text x="1200.3" y="917.7" font-size="17.6" text-anchor="start" font-weight="normal" font-style="italic" textLength="69.2" lengthAdjust="spacingAndGlyphs">CMEMS:</text>
<text x="1276.9" y="917.7" font-size="17.6" text-anchor="start" font-weight="normal" font-style="italic" textLength="76.3" lengthAdjust="spacingAndGlyphs">72.6405,</text>
<text x="1546.8" y="36.9" font-size="23.4" text-anchor="start" font-weight="bold" font-style="normal" textLength="150" lengthAdjust="spacingAndGlyphs">Comparison</text>
<text x="1705.7" y="36.9" font-size="23.4" text-anchor="start" font-weight="bold" font-style="normal" textLength="68.7" lengthAdjust="spacingAndGlyphs">Date:</text>
<text x="1782.1" y="36.9" font-size="23.4" text-anchor="start" font-weight="bold" font-style="normal" textLength="144.5" lengthAdjust="spacingAndGlyphs">2025-07-22</text>
<text x="1546.8" y="89.9" font-size="23.4" text-anchor="start" font-weight="bold" font-style="normal" textLength="86" lengthAdjust="spacingAndGlyphs">Glider:</text>
<text x="1640.4" y="89.9" font-size="23.4" text-anchor="start" font-weight="bold" font-style="normal" textLength="58.4" lengthAdjust="spacingAndGlyphs">ru29</text>
<text x="1546.8" y="116.4" font-size="23.4" text-anchor="start" font-weight="bold" font-style="normal" textLength="105.7" lengthAdjust="spacingAndGlyphs">Profiles:</text>
<text x="1661.4" y="116.4" font-size="23.4" text-anchor="start" font-weight="bold" font-style="normal" textLength="30.5" lengthAdjust="spacingAndGlyphs">14</text>
<text x="1546.8" y="142.9" font-size="23.4" text-anchor="start" font-weight="bold" font-style="normal" textLength="67.5" lengthAdjust="spacingAndGlyphs">First:</text>
<text x="1622" y="142.9" font-size="23.4" text-anchor="start" font-weight="bold" font-style="normal" textLength="144.5" lengthAdjust="spacingAndGlyphs">2025-07-22</text>
<text x="1774.2" y="142.9" font-size="23.4" text-anchor="start" font-weight="bold" font-style="normal" textLength="112.8" lengthAdjust="spacingAndGlyphs">00:02:00</text>
<text x="1546.8" y="169.5" font-size="23.4" text-anchor="start" font-weight="bold" font-style="normal" textLength="62.6" lengthAdjust="spacingAndGlyphs">Last:</text>
<text x="1617" y="169.5" font-size="23.4" text-anchor="start" font-weight="bold" font-style="normal" textLength="144.6" lengthAdjust="spacingAndGlyphs">2025-07-22</text>
<text x="1769.2" y="169.5" font-size="23.4" text-anchor="start" font-weight="bold" font-style="normal" textLength="112.8" lengthAdjust="spacingAndGlyphs">21:46:52</text>
<text x="1546.8" y="196.3" font-size="23.4" text-anchor="start" font-weight="bold" font-style="normal" textLength="104.9" lengthAdjust="spacingAndGlyphs">Method:</text>
<text x="1660.1" y="196.3" font-size="23.4" text-anchor="start" font-weight="bold" font-style="normal" textLength="226.9" lengthAdjust="spacingAndGlyphs">Nearest-Neighbor</text>
<g id="map">
<rect x="1585.1" y="306.3" width="381.3" height="208" fill="#97b6e1"/>
<g clip-path="url(#clipm)">
<g fill="#d2b48c" stroke="#000" stroke-width="2.2" stroke-linejoin="round">
<path d="M1575.3 332.4L1585.3 332.4L1590.6 330.9L1596.5 330.4L1602.4 331.6L1606.5 330.9L1610.6 331.2L1613 333.6L1613.3 336.5L1611.2 340L1608.9 343L1606.1 345.9L1604.7 349.5L1604.1 353L1603 356.5L1603.6 360.1L1602.4 363.6L1601.2 368.3L1600 373L1598.8 377.7L1597.7 382.4L1596.5 387.2L1594.7 391.9L1592.4 396L1589.4 399.5L1586.5 402.5L1585.3 403.6L1575.3 404.2Z"/>
<path d="M1634.8 327.1L1639.5 325.7L1641.2 321.4L1644.2 317.7L1650.7 314.7L1657.7 312.4L1664.8 310.6L1673 310L1680.1 308.8L1690 308.2L1680 312.4L1687.1 311.2L1693 313L1698.8 316.5L1703.6 320L1710.6 321.8L1717.7 323.6L1722.4 327.1L1727.1 330.6L1731.8 333.6L1737.7 335.3L1743.6 337.7L1748.3 338.3L1750.7 340.6L1755.4 342.4L1760.1 343L1763.6 345.9L1767.4 348.5L1762.4 350.6L1756.6 351.8L1750.7 352.4L1744.8 351.8L1738.9 352.4L1733 352.4L1727.1 353.6L1723.3 353.7L1725.3 350.6L1729.5 348.3L1731.2 345.3L1729.5 343L1724.8 341.8L1720 341.2L1716.5 340L1714.2 335.3L1711.8 331.8L1708.3 330.6L1703.6 330.9L1697.7 329.4L1693 327.1L1689.4 324.7L1684.7 324.1L1680 323.6L1690 324.1L1686 324.7L1678.9 324.7L1673 323.6L1670.7 321.2L1674.2 320L1675.6 317.9L1670.7 317.1L1664.8 316.5L1660.1 317.7L1655.4 320.6L1650.7 323L1646 325.3L1641.2 327.7Z"/>
<path d="M1715.3 373L1720 370.7L1727.1 370.4L1733 371.3L1737.7 373.6L1741.8 376L1742.7 378.3L1738.9 379.5L1734.2 379.5L1730.6 381.3L1727.1 380.1L1722.4 378.3L1718.9 375.4L1715.6 374.4Z"/>
<path d="M1772.8 337.9L1776 335.9L1780.1 335.3L1781.5 337.5L1778.9 339.8L1774.2 340.3Z"/>
<path d="M1790 351.8L1784.8 350.6L1780.1 351.8L1776 355L1781.3 357.1L1784.8 360.1L1783.6 364.8L1788.4 369.5L1788.2 369.7L1784.7 371.3L1780 371.1L1782.5 370.7L1774.2 369.5L1767.2 368.9L1763 370.7L1763.6 373.6L1769.5 375.4L1771.9 377.1L1776.6 375.4L1782.5 374.8L1790 374.2L1787.1 373.6L1793 373.6L1796.5 376.6L1797.7 380.1L1799.4 383.3L1803 378.9L1805.3 374.2L1808.9 371.8L1811.2 373.6L1815.3 374.2L1820 371.8L1825.9 371.8L1830.6 372.4L1832.4 374.8L1835.4 375.4L1836.5 372.4L1839.1 370.7L1837.7 368.3L1834.2 365.4L1830.6 364.2L1828.3 360.7L1823.6 361.2L1820.6 359.5L1818.9 356.5L1813 355.4L1808.3 353.2L1803.6 353L1797.7 353.6L1791.8 355.4L1787.1 353.6L1784.1 351.8L1780 353.6Z"/>
<path d="M1852.4 371.3L1857.7 370.4L1864.8 370.7L1870.7 371.3L1871.4 373.6L1870.7 377.1L1864.8 378L1857.7 378.3L1852.4 378.3L1852.1 374.8Z"/>
<path d="M1574.9 402.6L1585.4 402.6L1589 405.8L1594.1 406.4L1599.3 404.5L1605.7 405.1L1612.1 405.8L1618.5 405.1L1622.4 403.2L1627.5 404.5L1632.7 403.9L1637.8 405.1L1643 405.8L1646.8 409.6L1651.9 412.2L1655.8 414.1L1656.8 416.1L1655.8 419.3L1654.5 425.7L1653.2 432.1L1651.9 438.5L1651.3 445L1650 451.4L1648.7 456.5L1648.1 461.7L1650 466.8L1652.6 470.7L1655.2 475.8L1659 480.3L1663.5 483.5L1668.7 487.4L1672.5 489.9L1677.6 491.9L1682.8 491.9L1687.9 489.9L1693.1 488.7L1696.9 486.1L1690 488.7L1695.1 486.1L1699.6 482.9L1704.1 483.5L1710.6 484.2L1715.7 486.1L1720.8 489.3L1724.7 492.5L1728.5 495.7L1732.7 499.6L1733 495.7L1737.5 493.8L1741.4 489.9L1744 486.1L1749.1 484.8L1748.5 480.9L1747.2 477.1L1749.1 474.5L1751 470.7L1755.5 466.8L1759.4 464.2L1761.9 465.5L1764.5 468.7L1766.4 465.5L1767.1 461.7L1772.2 462.7L1778.7 461.7L1783.8 457.8L1788.9 455.2L1792.8 451.4L1796.6 448.6L1800.5 448.2L1804.3 450.7L1803.7 454L1799.2 456.5L1795.4 458.5L1795.4 461.7L1797.9 465.5L1799 470L1796.6 474.5L1793.4 477.7L1792.5 481.2L1795.1 485.4L1797.9 490.2L1803.1 488.9L1805.9 483.5L1805.1 478.4L1802 473.2L1800.7 468.4L1801.2 467.1L1802.9 465.2L1806.7 463.2L1811.6 461.3L1815.4 460.6L1814.6 455.2L1815.6 452.4L1817.9 450.8L1820.6 452.2L1821.8 455.5L1821 458.5L1824.1 458.7L1828.9 458.9L1833.7 460.8L1837.6 463.7L1839.5 466.6L1840 470L1842.4 472.4L1846.3 471.9L1852 471L1857.8 470.3L1863.6 470L1866.5 471L1868.4 473.8L1871.3 475.8L1876.1 476.7L1880 477.2L1883.8 475.3L1887.2 473.8L1885.8 473.8L1888.7 472.9L1891.6 471.4L1897.3 470.5L1902.2 469.5L1905.8 472L1907.9 475.3L1910.8 478.7L1913.7 479.6L1916.6 478.2L1919.5 480.1L1923.4 481.1L1927.2 483L1930.1 484.9L1932 487.8L1931.6 491.7L1932 495.5L1935.9 495L1939.7 496.5L1945.5 498.9L1950.3 501.8L1954.2 504.7L1958.1 508.1L1960 510.9L1960.6 516.7L1724 516.3L1720.8 511.8L1717.6 507.9L1715.7 504.1L1715.1 498.9L1713.1 493.8L1709.3 490.6L1704.1 489.9L1700.9 492.5L1696.4 495.1L1690 498.3L1700 492.5L1696.9 495.1L1693.1 497.3L1689.5 501.2L1692 504.3L1695.6 509.2L1690.5 512.3L1685.6 513.1L1684.7 509.2L1681.5 504.7L1675.7 504.1L1669.9 501.5L1664.8 499.6L1659.7 501.5L1655.8 497.6L1650.7 495.1L1648.1 490.6L1644.2 487.4L1640.4 484.2L1636.5 482.2L1632.7 483.5L1630.7 480.9L1626.3 479L1623.7 475.8L1625 471.9L1623.7 468.1L1625 465.5L1623 463L1618.5 458.5L1614 453.3L1609.6 448.2L1605.1 443.7L1601.2 441.1L1599.3 437.9L1592.8 437.9L1585.4 437.3L1574.9 437.3Z"/>
<path d="M1923.8 469.7L1929.9 468.5L1930.1 472.4L1929.3 477.2L1923.4 477.4L1923.7 473.4Z"/>
</g>
<g fill="#aab6c6">
<path d="M1616 448.8L1618.5 448.6L1623.7 452.7L1630.1 457.8L1635.2 463L1636.5 464.2L1631.4 463.6L1626.3 460.4L1623.7 455.2L1619.8 451.4Z"/>
</g>
<g fill="none" stroke="#97b6e1" stroke-width="1.5" stroke-linecap="round" stroke-linejoin="round">
<path d="M1613.4 434L1617.3 433.7L1621.1 435.3L1624.3 432.1"/>
<path d="M1640.4 419.9L1636.5 419L1634.6 419.5"/>
<path d="M1626.9 464.9L1622.4 460.4L1618.5 456.5"/>
<path d="M1636.5 464.9L1641.7 466.8L1646.8 469.4L1650 469.4"/>
<path d="M1759.4 464.9L1760 469.4L1758.1 475.8L1760 483.5L1765.8 488.7L1770.9 491.9L1772.2 497.6L1770.9 505.4L1770.7 514.7"/>
<path d="M1695.1 486.7L1701.6 491.9"/>
<path d="M1854.4 514.6L1859.7 510.5L1865.5 507.1L1871.3 504.7L1877.1 505.2L1881.9 507.1L1885.8 504.2L1890 502.3"/>
<path d="M1880 507.1L1883.9 505.6L1886.7 502.8L1891.6 503.2L1897.3 500.8L1904.1 499.4L1910.8 496.5L1915.7 495L1920.5 496L1924.3 493.6L1927.7 491.7"/>
<path d="M1915.7 495L1916.1 490.7L1912.8 486.9L1911.8 482.5"/>
<path d="M1916.1 490.7L1919 486.9L1920 483"/>
<path d="M1797.7 371.1L1799.1 371.4"/>
</g>
<g fill="none" stroke="#000" stroke-width="1.5" stroke-dasharray="4.2 2.4">
<path d="M1797.7 354.2L1796.5 358.9L1797.2 363.6L1796 368.3L1794.1 370.7L1797.7 374.4"/>
<path d="M1656.8 415.7L1649.4 418L1641.7 419.9L1635.2 418.6L1631.4 423.1L1628.8 427.6L1623.7 430.2L1617.3 431.5L1612.8 433.4L1612.1 437.3L1607.6 440.5"/>
<path d="M1585.4 424.4L1590.3 428.9L1596.7 429.6L1601.2 432.1L1602.5 436.6"/>
<path d="M1585.4 412.8L1589 409L1592.8 407.7"/>
<path d="M1626.9 464.9L1631.4 465.5L1636.5 465.5L1641.7 466.8L1646.8 469.4L1650 469.4"/>
<path d="M1660.3 483.5L1659 488.7L1660.9 492.5L1659.7 495.3"/>
<path d="M1732.4 500.2L1728.5 504.1L1724.7 506.6L1722.8 509.2"/>
<path d="M1791.5 461.7L1785.7 466.8L1782.5 473.2L1781.9 479.7L1779.9 484.8L1777.4 488L1782.5 488.7L1785.7 495.1L1788.9 501.5L1788.3 506.6L1791.5 510.5L1792.8 514.1"/>
<path d="M1941.7 499.4L1940.7 502.3L1936.9 504.7L1934 507.1L1933 510L1934 512.9L1936.1 514"/>
<path d="M1585.3 403.4L1588.2 404.8L1591.2 406.6L1593 410"/>
</g>
<g fill="none" stroke="#000" stroke-linecap="round" stroke-linejoin="round">
<path d="M1587.7 376.6L1591.2 372.4" stroke-width="2.2"/>
<path d="M1614.4 398.7L1618.9 397.5L1623.6 397.2" stroke-width="3.4"/>
<path d="M1681.3 309.7L1690 309.4" stroke-width="2.7"/>
<path d="M1680 309.4L1687.1 309.4L1693 311.2L1698.8 314.7L1703.6 318.3" stroke-width="4.6"/>
<path d="M1703.6 318.3L1710.6 319.8L1717.7 321.2L1723 324.7L1727.1 328.3L1731.8 331.6" stroke-width="6.3"/>
<path d="M1731.8 331.6L1737.7 334.2L1743.6 336.7L1748.9 337.9" stroke-width="3.9"/>
<path d="M1747.1 340L1751.8 341.5L1756.6 342.4" stroke-width="3.4"/>
<path d="M1634.8 327.1L1640.7 325.9" stroke-width="4.4"/>
<path d="M1650.7 325.3L1654.8 325.9" stroke-width="2.2"/>
<path d="M1661.3 322.4L1664.8 327.7" stroke-width="2.7"/>
<path d="M1669.5 329.4L1677.8 330.4" stroke-width="2.7"/>
<path d="M1702.4 337.1L1709.4 341.5L1715.3 344.5" stroke-width="3.4"/>
<path d="M1715.3 344.5L1723.6 345.7" stroke-width="2.2"/>
<path d="M1707.7 337.9L1711.8 337.5" stroke-width="2"/>
<path d="M1755.4 308.2L1749.5 310.6L1746.2 315.3L1746.7 320L1748.3 323.6" stroke-width="2.5"/>
<path d="M1770.1 317.7L1767.2 321.8L1763 324.1" stroke-width="2.9"/>
<path d="M1787.8 330L1790 327.3" stroke-width="3.4"/>
<path d="M1780.1 335.3L1782 331.6" stroke-width="3.4"/>
<path d="M1787.7 329.2L1790.6 326.6L1794.7 325.7L1798.8 327.8L1800.7 330.9L1799.6 334.2L1797.2 335.8" stroke-width="3.4"/>
<path d="M1780 338.9L1781.4 333" stroke-width="3.2"/>
<path d="M1878.3 373.3L1883.6 371.4L1888.4 369.7" stroke-width="3.9"/>
<path d="M1904.8 384.1L1910.6 388.9" stroke-width="3.4"/>
<path d="M1926.2 442.4L1923.6 447.2L1919.8 453.3" stroke-width="3.7"/>
<path d="M1649.4 446.3L1650.4 454" stroke-width="3.4"/>
<path d="M1585.4 403.2L1590.3 405.8" stroke-width="3.4"/>
<path d="M1746.5 477.1L1749.4 475.8" stroke-width="2.9"/>
<path d="M1746 480.9L1749.1 481.7" stroke-width="2.2"/>
<path d="M1895.4 469.9L1905.1 469.3L1912.8 469L1921.4 468.5L1929.9 468" stroke-width="2.9"/>
<path d="M1926.8 436.9L1926.4 442" stroke-width="4.1"/>
<path d="M1925.3 443.5L1922.4 448.5L1919.9 453.1" stroke-width="3.9"/>
<path d="M1911.8 478.7L1916.6 478L1923.4 477.4" stroke-width="2"/>
<path d="M1905.8 472L1911.8 478.7" stroke-width="2.9"/>
<path d="M1931.3 486.9L1931.8 491.7L1932.5 495.5" stroke-width="3.4"/>
</g>
<g fill="#000">
<ellipse cx="1610.9" cy="345.7" rx="3.5" ry="2.1" transform="rotate(-40 1610.9 345.7)"/>
<ellipse cx="1602" cy="357.5" rx="3.1" ry="4.5" transform="rotate(10 1602 357.5)"/>
<ellipse cx="1601.8" cy="362.4" rx="2.4" ry="3.1" transform="rotate(10 1601.8 362.4)"/>
<ellipse cx="1595.3" cy="370.7" rx="3.1" ry="6.6" transform="rotate(15 1595.3 370.7)"/>
<ellipse cx="1597.7" cy="385.4" rx="3.1" ry="3.8" transform="rotate(20 1597.7 385.4)"/>
<ellipse cx="1595.9" cy="389.5" rx="2.1" ry="3.1" transform="rotate(20 1595.9 389.5)"/>
<ellipse cx="1610" cy="401.5" rx="2.7" ry="1.8" transform="rotate(-20 1610 401.5)"/>
<ellipse cx="1680.1" cy="360.3" rx="3.9" ry="2" transform="rotate(5 1680.1 360.3)"/>
<ellipse cx="1696.5" cy="355.4" rx="4.3" ry="1.7" transform="rotate(-15 1696.5 355.4)"/>
<ellipse cx="1660.1" cy="329.8" rx="5.9" ry="3.9"/>
<ellipse cx="1758" cy="312.4" rx="2.2" ry="3.1" transform="rotate(-30 1758 312.4)"/>
<ellipse cx="1772.5" cy="311.2" rx="2.7" ry="1.7"/>
<ellipse cx="1768.1" cy="316.3" rx="3.8" ry="2.4" transform="rotate(20 1768.1 316.3)"/>
<ellipse cx="1774.8" cy="317.7" rx="2.1" ry="1.6"/>
<ellipse cx="1782.5" cy="320.7" rx="4.3" ry="1.8" transform="rotate(12 1782.5 320.7)"/>
<ellipse cx="1782.4" cy="320.7" rx="4.2" ry="1.8" transform="rotate(8 1782.4 320.7)"/>
<ellipse cx="1804.1" cy="333.1" rx="2" ry="2.7" transform="rotate(20 1804.1 333.1)"/>
<ellipse cx="1781" cy="366.7" rx="4.9" ry="2.4" transform="rotate(20 1781 366.7)"/>
<ellipse cx="1825.3" cy="361.8" rx="4.5" ry="3.1"/>
<ellipse cx="1784.1" cy="351.5" rx="3.1" ry="2"/>
<ellipse cx="1844.2" cy="376.3" rx="1.8" ry="1.8"/>
<ellipse cx="1874.2" cy="374.4" rx="2.5" ry="3.1"/>
<ellipse cx="1887.8" cy="368.1" rx="1.8" ry="1.4"/>
<ellipse cx="1883.1" cy="381" rx="3.8" ry="1.8" transform="rotate(-8 1883.1 381)"/>
<ellipse cx="1903.8" cy="375.3" rx="3.8" ry="2.8" transform="rotate(30 1903.8 375.3)"/>
<ellipse cx="1906.6" cy="378.4" rx="1.8" ry="1.6"/>
<ellipse cx="1914.2" cy="393.7" rx="2.1" ry="2.4"/>
<ellipse cx="1918.9" cy="381.9" rx="2.7" ry="2.7"/>
<ellipse cx="1919.5" cy="389.2" rx="3.2" ry="2.7" transform="rotate(10 1919.5 389.2)"/>
<ellipse cx="1921.5" cy="401" rx="3.9" ry="5.6" transform="rotate(-10 1921.5 401)"/>
<ellipse cx="1926.7" cy="399.1" rx="3.8" ry="1.8" transform="rotate(-15 1926.7 399.1)"/>
<ellipse cx="1925.5" cy="404.3" rx="2.4" ry="2.4"/>
<ellipse cx="1924.5" cy="410.4" rx="2.9" ry="4.5" transform="rotate(-15 1924.5 410.4)"/>
<ellipse cx="1928.9" cy="420.2" rx="3.5" ry="4.9" transform="rotate(-20 1928.9 420.2)"/>
<ellipse cx="1929.5" cy="429.5" rx="2.9" ry="4.3" transform="rotate(10 1929.5 429.5)"/>
<ellipse cx="1926.5" cy="438" rx="2.4" ry="3.8" transform="rotate(5 1926.5 438)"/>
<ellipse cx="1946.6" cy="437.7" rx="2.2" ry="3.2" transform="rotate(-25 1946.6 437.7)"/>
<ellipse cx="1933" cy="462.8" rx="4.1" ry="2.2" transform="rotate(-25 1933 462.8)"/>
<ellipse cx="1865.9" cy="455.6" rx="2.1" ry="1.7"/>
<ellipse cx="1885" cy="455.4" rx="2.2" ry="1.8" transform="rotate(20 1885 455.4)"/>
<ellipse cx="1875.9" cy="466.7" rx="2.9" ry="2"/>
<ellipse cx="1903" cy="461" rx="1.8" ry="1.8"/>
<ellipse cx="1602.9" cy="438.8" rx="4.8" ry="3.6" transform="rotate(30 1602.9 438.8)"/>
<ellipse cx="1632.7" cy="477.3" rx="4.1" ry="2.9" transform="rotate(40 1632.7 477.3)"/>
<ellipse cx="1623.7" cy="467.1" rx="2.3" ry="1.7"/>
<ellipse cx="1652.6" cy="495.7" rx="4.1" ry="2.6" transform="rotate(20 1652.6 495.7)"/>
<ellipse cx="1669.9" cy="488.7" rx="5.6" ry="2.6" transform="rotate(30 1669.9 488.7)"/>
<ellipse cx="1673.8" cy="509.9" rx="3.3" ry="3.3"/>
<ellipse cx="1681.5" cy="506.9" rx="2.1" ry="3.3"/>
<ellipse cx="1650" cy="411.6" rx="4.8" ry="2.6" transform="rotate(30 1650 411.6)"/>
<ellipse cx="1610.2" cy="401.9" rx="2.3" ry="1.7"/>
<ellipse cx="1678.7" cy="436.4" rx="2" ry="2"/>
<ellipse cx="1674.4" cy="446.4" rx="2" ry="2"/>
<ellipse cx="1708" cy="498.3" rx="3.3" ry="4.2" transform="rotate(-10 1708 498.3)"/>
<ellipse cx="1717.6" cy="499.2" rx="4.1" ry="2.6" transform="rotate(30 1717.6 499.2)"/>
<ellipse cx="1734.3" cy="502.4" rx="2.9" ry="2.9"/>
<ellipse cx="1763.9" cy="466.8" rx="2.6" ry="3.3" transform="rotate(20 1763.9 466.8)"/>
<ellipse cx="1798.6" cy="466.2" rx="2.6" ry="2.6"/>
<ellipse cx="1818.8" cy="447" rx="1.9" ry="3" transform="rotate(-35 1818.8 447)"/>
<ellipse cx="1831.3" cy="450.8" rx="2" ry="4.8" transform="rotate(-55 1831.3 450.8)"/>
<ellipse cx="1839.5" cy="451.3" rx="2.6" ry="3.3" transform="rotate(-30 1839.5 451.3)"/>
<ellipse cx="1848.4" cy="453.5" rx="2.8" ry="1.1" transform="rotate(10 1848.4 453.5)"/>
<ellipse cx="1858.5" cy="455.5" rx="3.8" ry="2.8"/>
<ellipse cx="1866" cy="455.6" rx="2.2" ry="1.7"/>
<ellipse cx="1884.8" cy="455.4" rx="2.2" ry="1.7" transform="rotate(10 1884.8 455.4)"/>
<ellipse cx="1876.1" cy="466.7" rx="2.9" ry="1.9" transform="rotate(10 1876.1 466.7)"/>
<ellipse cx="1887.5" cy="465.8" rx="2.6" ry="2.6"/>
<ellipse cx="1892.7" cy="464.9" rx="3.1" ry="2.6" transform="rotate(-30 1892.7 464.9)"/>
<ellipse cx="1890.6" cy="470" rx="4.3" ry="3.1"/>
<ellipse cx="1894.5" cy="471.6" rx="2.6" ry="2"/>
<ellipse cx="1884.8" cy="455.5" rx="2" ry="1.7" transform="rotate(20 1884.8 455.5)"/>
<ellipse cx="1903.1" cy="461.1" rx="1.8" ry="1.8"/>
<ellipse cx="1933" cy="462.8" rx="3.6" ry="2" transform="rotate(-25 1933 462.8)"/>
<ellipse cx="1946.5" cy="438.3" rx="2.1" ry="3" transform="rotate(-25 1946.5 438.3)"/>
<ellipse cx="1929.6" cy="430.8" rx="2.6" ry="2"/>
</g>
<path d="M1658.7 328L1661.9 328.3L1663.1 330.4L1661.3 332L1658.7 331.6Z" fill="#d2b48c"/>
<g fill="#000" fill-opacity="0.24">
<circle cx="1605.3" cy="369.5" r="1.3"/>
<circle cx="1603.6" cy="384.8" r="1.3"/>
<circle cx="1602.4" cy="387.7" r="1.3"/>
<circle cx="1599.4" cy="393.6" r="1.3"/>
<circle cx="1594.1" cy="400.7" r="1.3"/>
<circle cx="1647.1" cy="384.8" r="1.3"/>
<circle cx="1654.8" cy="403.6" r="1.3"/>
<circle cx="1658.9" cy="406.6" r="1.3"/>
<circle cx="1666" cy="404.6" r="1.3"/>
<circle cx="1681.5" cy="330.1" r="1.5"/>
<circle cx="1673" cy="327.3" r="1.2"/>
<circle cx="1754.2" cy="325.3" r="1.3"/>
<circle cx="1747.1" cy="325.3" r="1.3"/>
<circle cx="1771.3" cy="329.4" r="1.3"/>
<circle cx="1756.6" cy="372.1" r="1.3"/>
<circle cx="1744.8" cy="384.8" r="1.3"/>
<circle cx="1697.1" cy="405.4" r="1.3"/>
<circle cx="1711.2" cy="404.8" r="1.3"/>
<circle cx="1681.2" cy="330" r="1.3"/>
<circle cx="1718.3" cy="315.9" r="1.3"/>
<circle cx="1849.5" cy="372.4" r="1.2"/>
<circle cx="1898.9" cy="370" r="1.2"/>
<circle cx="1901.5" cy="382.4" r="1.4"/>
<circle cx="1896.5" cy="406.8" r="1.2"/>
<circle cx="1660.9" cy="423.1" r="1.5"/>
<circle cx="1662.9" cy="420.6" r="1.5"/>
<circle cx="1659" cy="425.1" r="1.5"/>
<circle cx="1663.5" cy="413.5" r="1.5"/>
<circle cx="1657.7" cy="409" r="1.5"/>
<circle cx="1653.9" cy="403.2" r="1.5"/>
<circle cx="1658.4" cy="450.7" r="1.5"/>
<circle cx="1691.1" cy="423.8" r="1.5"/>
<circle cx="1694.3" cy="433.7" r="1.5"/>
<circle cx="1697.6" cy="405.4" r="1.5"/>
<circle cx="1648.1" cy="494.4" r="1.5"/>
<circle cx="1668" cy="509.5" r="1.5"/>
<circle cx="1665.4" cy="504.7" r="1.5"/>
<circle cx="1676.1" cy="489.3" r="1.5"/>
<circle cx="1659.9" cy="422.5" r="2"/>
<circle cx="1662.2" cy="424.4" r="2"/>
<circle cx="1661.2" cy="421.2" r="2"/>
<circle cx="1663.3" cy="422.9" r="2"/>
<circle cx="1660.3" cy="425.1" r="2"/>
<circle cx="1697.1" cy="405.4" r="1.3"/>
<circle cx="1711.6" cy="405.1" r="1.3"/>
<circle cx="1691.3" cy="423.4" r="1.3"/>
<circle cx="1694.5" cy="433.7" r="1.3"/>
<circle cx="1807.2" cy="448.6" r="1.3"/>
<circle cx="1700.3" cy="494.4" r="1.3"/>
<circle cx="1806.9" cy="448.1" r="1.2"/>
<circle cx="1887.2" cy="456.2" r="1"/>
<circle cx="1887.2" cy="456.2" r="1.1"/>
</g>
<circle cx="1945.7" cy="447" r="4.4" fill="#ff0000" stroke="#000" stroke-width="1.5"/>
</g>
<rect x="1585.1" y="306.3" width="381.3" height="208" fill="none" stroke="#000" stroke-width="1.6"/>
<g stroke="#000">
<path d="M1585.2 306.3v-3M1585.2 514.3v3" stroke-width="1.5"/>
<path d="M1597.5 306.3v-3M1597.5 514.3v3" stroke-width="1.5"/>
<path d="M1609.8 306.3v-3M1609.8 514.3v3" stroke-width="1.5"/>
<path d="M1622.1 306.3v-3M1622.1 514.3v3" stroke-width="1.5"/>
<path d="M1634.3 306.3v-8.8M1634.3 514.3v8.8" stroke-width="3"/>
<path d="M1646.6 306.3v-3M1646.6 514.3v3" stroke-width="1.5"/>
<path d="M1658.9 306.3v-3M1658.9 514.3v3" stroke-width="1.5"/>
<path d="M1671.2 306.3v-3M1671.2 514.3v3" stroke-width="1.5"/>
<path d="M1683.5 306.3v-3M1683.5 514.3v3" stroke-width="1.5"/>
<path d="M1695.8 306.3v-8.8M1695.8 514.3v8.8" stroke-width="3"/>
<path d="M1708.1 306.3v-3M1708.1 514.3v3" stroke-width="1.5"/>
<path d="M1720.4 306.3v-3M1720.4 514.3v3" stroke-width="1.5"/>
<path d="M1732.7 306.3v-3M1732.7 514.3v3" stroke-width="1.5"/>
<path d="M1744.9 306.3v-3M1744.9 514.3v3" stroke-width="1.5"/>
<path d="M1757.2 306.3v-8.8M1757.2 514.3v8.8" stroke-width="3"/>
<path d="M1769.5 306.3v-3M1769.5 514.3v3" stroke-width="1.5"/>
<path d="M1781.8 306.3v-3M1781.8 514.3v3" stroke-width="1.5"/>
<path d="M1794.1 306.3v-3M1794.1 514.3v3" stroke-width="1.5"/>
<path d="M1806.4 306.3v-3M1806.4 514.3v3" stroke-width="1.5"/>
<path d="M1818.7 306.3v-8.8M1818.7 514.3v8.8" stroke-width="3"/>
<path d="M1831 306.3v-3M1831 514.3v3" stroke-width="1.5"/>
<path d="M1843.2 306.3v-3M1843.2 514.3v3" stroke-width="1.5"/>
<path d="M1855.5 306.3v-3M1855.5 514.3v3" stroke-width="1.5"/>
<path d="M1867.8 306.3v-3M1867.8 514.3v3" stroke-width="1.5"/>
<path d="M1880.1 306.3v-8.8M1880.1 514.3v8.8" stroke-width="3"/>
<path d="M1892.4 306.3v-3M1892.4 514.3v3" stroke-width="1.5"/>
<path d="M1904.7 306.3v-3M1904.7 514.3v3" stroke-width="1.5"/>
<path d="M1917 306.3v-3M1917 514.3v3" stroke-width="1.5"/>
<path d="M1929.3 306.3v-3M1929.3 514.3v3" stroke-width="1.5"/>
<path d="M1941.5 306.3v-8.8M1941.5 514.3v8.8" stroke-width="3"/>
<path d="M1953.8 306.3v-3M1953.8 514.3v3" stroke-width="1.5"/>
<path d="M1966.1 306.3v-3M1966.1 514.3v3" stroke-width="1.5"/>
<path d="M1585.1 503.8h-3M1966.4 503.8h3" stroke-width="1.5"/>
<path d="M1585.1 491.4h-3M1966.4 491.4h3" stroke-width="1.5"/>
<path d="M1585.1 479h-8.6M1966.4 479h8.6" stroke-width="3"/>
<path d="M1585.1 466.5h-3M1966.4 466.5h3" stroke-width="1.5"/>
<path d="M1585.1 453.9h-3M1966.4 453.9h3" stroke-width="1.5"/>
<path d="M1585.1 441.3h-3M1966.4 441.3h3" stroke-width="1.5"/>
<path d="M1585.1 428.7h-3M1966.4 428.7h3" stroke-width="1.5"/>
<path d="M1585.1 416h-8.6M1966.4 416h8.6" stroke-width="3"/>
<path d="M1585.1 403.2h-3M1966.4 403.2h3" stroke-width="1.5"/>
<path d="M1585.1 390.4h-3M1966.4 390.4h3" stroke-width="1.5"/>
<path d="M1585.1 377.5h-3M1966.4 377.5h3" stroke-width="1.5"/>
<path d="M1585.1 364.6h-3M1966.4 364.6h3" stroke-width="1.5"/>
<path d="M1585.1 351.6h-8.6M1966.4 351.6h8.6" stroke-width="3"/>
<path d="M1585.1 338.4h-3M1966.4 338.4h3" stroke-width="1.5"/>
<path d="M1585.1 325.2h-3M1966.4 325.2h3" stroke-width="1.5"/>
<path d="M1585.1 311.9h-3M1966.4 311.9h3" stroke-width="1.5"/>
</g>
<text x="1570" y="489.2" font-size="23.4" text-anchor="end" font-weight="normal" font-style="normal" textLength="57" lengthAdjust="spacingAndGlyphs">10°N</text>
<text x="1570" y="426.2" font-size="23.4" text-anchor="end" font-weight="normal" font-style="normal" textLength="57" lengthAdjust="spacingAndGlyphs">15°N</text>
<text x="1570" y="361.8" font-size="23.4" text-anchor="end" font-weight="normal" font-style="normal" textLength="57" lengthAdjust="spacingAndGlyphs">20°N</text>
<g transform="translate(1632.1 560.2) rotate(-45)">
<text x="0" y="8.4" font-size="23.799999999999997" text-anchor="middle" font-weight="normal" font-style="normal" textLength="62.5" lengthAdjust="spacingAndGlyphs">85°W</text>
</g>
<g transform="translate(1693.6 560.2) rotate(-45)">
<text x="0" y="8.4" font-size="23.799999999999997" text-anchor="middle" font-weight="normal" font-style="normal" textLength="62.5" lengthAdjust="spacingAndGlyphs">80°W</text>
</g>
<g transform="translate(1755 560.2) rotate(-45)">
<text x="0" y="8.4" font-size="23.799999999999997" text-anchor="middle" font-weight="normal" font-style="normal" textLength="62.5" lengthAdjust="spacingAndGlyphs">75°W</text>
</g>
<g transform="translate(1816.5 560.2) rotate(-45)">
<text x="0" y="8.4" font-size="23.799999999999997" text-anchor="middle" font-weight="normal" font-style="normal" textLength="62.5" lengthAdjust="spacingAndGlyphs">70°W</text>
</g>
<g transform="translate(1877.9 560.2) rotate(-45)">
<text x="0" y="8.4" font-size="23.799999999999997" text-anchor="middle" font-weight="normal" font-style="normal" textLength="62.5" lengthAdjust="spacingAndGlyphs">65°W</text>
</g>
<g transform="translate(1939.3 560.2) rotate(-45)">
<text x="0" y="8.4" font-size="23.799999999999997" text-anchor="middle" font-weight="normal" font-style="normal" textLength="62.5" lengthAdjust="spacingAndGlyphs">60°W</text>
</g>
</g>
<g id="legend">
<rect x="1645.2" y="620" width="260.6" height="177.9" rx="4" ry="4" fill="#fff" fill-opacity="0.8" stroke="#cccccc" stroke-width="1.5"/>
<path d="M1653.7 639.3H1700.8" stroke="#0000ff" stroke-width="2.9"/>
<circle cx="1677.3" cy="639.3" r="5.9" fill="#0000ff"/>
<text x="1716" y="647.6" font-size="23.2" text-anchor="start" font-weight="normal" font-style="normal" textLength="52" lengthAdjust="spacingAndGlyphs">ru29</text>
<path d="M1653.7 673.5H1700.8" stroke="#ff0000" stroke-width="2.9"/>
<circle cx="1677.3" cy="673.5" r="5.9" fill="#ff0000"/>
<text x="1716" y="681.8" font-size="23.2" text-anchor="start" font-weight="normal" font-style="normal" textLength="72" lengthAdjust="spacingAndGlyphs">RTOFS</text>
<path d="M1653.7 708.4H1700.8" stroke="#ffa500" stroke-width="2.9"/>
<circle cx="1677.3" cy="708.4" r="5.9" fill="#ffa500"/>
<text x="1716" y="716.7" font-size="23.2" text-anchor="start" font-weight="normal" font-style="normal" textLength="180" lengthAdjust="spacingAndGlyphs">RTOFS (Parallel)</text>
<path d="M1653.7 742.3H1700.8" stroke="#008000" stroke-width="2.9"/>
<circle cx="1677.3" cy="742.3" r="5.9" fill="#008000"/>
<text x="1716" y="750.6" font-size="23.2" text-anchor="start" font-weight="normal" font-style="normal" textLength="58" lengthAdjust="spacingAndGlyphs">ESPC</text>
<path d="M1653.7 776.3H1700.8" stroke="#ff00ff" stroke-width="2.9"/>
<circle cx="1677.3" cy="776.3" r="5.9" fill="#ff00ff"/>
<text x="1716" y="784.6" font-size="23.2" text-anchor="start" font-weight="normal" font-style="normal" textLength="83" lengthAdjust="spacingAndGlyphs">CMEMS</text>
</g>
</g>
</svg></body></html>
